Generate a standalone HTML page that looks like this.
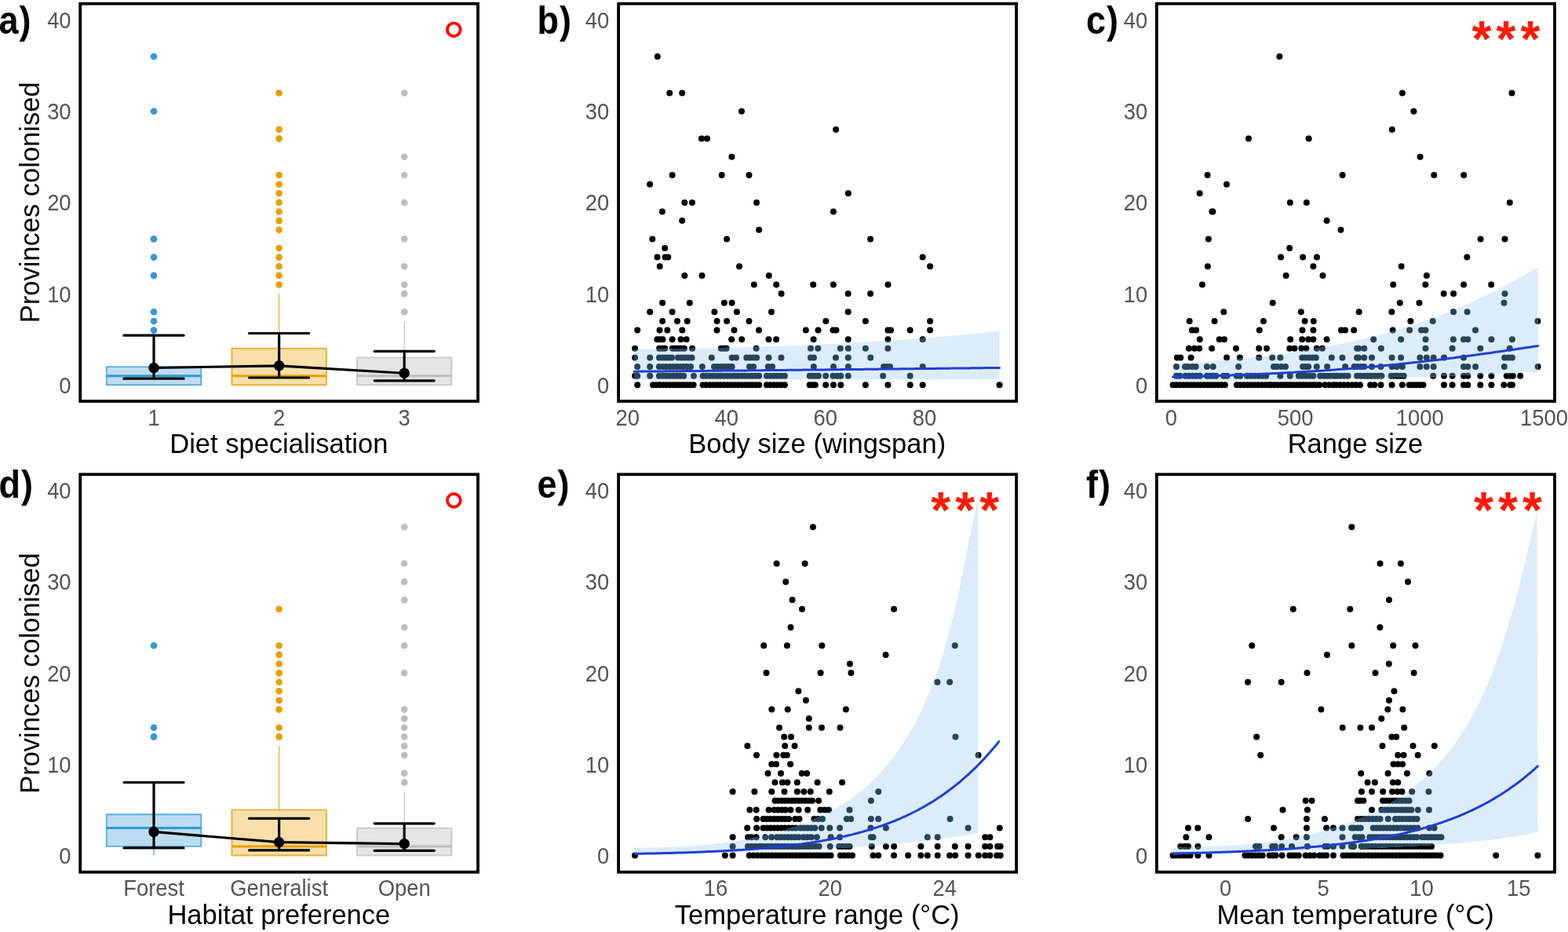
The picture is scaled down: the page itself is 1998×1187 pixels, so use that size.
<!DOCTYPE html><html><head><meta charset="utf-8"><title>Figure</title><style>html,body{margin:0;padding:0;background:#fff;overflow:hidden}svg{display:block}</style></head><body><svg width="1998" height="1187" viewBox="0 0 1998 1187" font-family="'Liberation Sans', Arial, Helvetica, sans-serif">
<rect width="1998" height="1187" fill="#fff"/>
<line x1="196.0" y1="467.1" x2="196.0" y2="432.2" stroke="#3498d4" stroke-opacity="0.7" stroke-width="1.6"/>
<rect x="135.8" y="467.1" width="120.5" height="23.2" fill="#3498d4" fill-opacity="0.33" stroke="#3498d4" stroke-opacity="0.75" stroke-width="1.9" stroke-linejoin="round"/>
<line x1="135.8" y1="478.7" x2="256.2" y2="478.7" stroke="#3498d4" stroke-width="3"/>
<circle cx="196.0" cy="420.6" r="4.3" fill="#3498d4"/>
<circle cx="196.0" cy="409.0" r="4.3" fill="#3498d4"/>
<circle cx="196.0" cy="397.3" r="4.3" fill="#3498d4"/>
<circle cx="196.0" cy="350.9" r="4.3" fill="#3498d4"/>
<circle cx="196.0" cy="327.6" r="4.3" fill="#3498d4"/>
<circle cx="196.0" cy="304.4" r="4.3" fill="#3498d4"/>
<circle cx="196.0" cy="141.7" r="4.3" fill="#3498d4"/>
<circle cx="196.0" cy="72.0" r="4.3" fill="#3498d4"/>
<line x1="355.6" y1="443.8" x2="355.6" y2="374.1" stroke="#e69f00" stroke-opacity="0.7" stroke-width="1.6"/>
<rect x="295.4" y="443.8" width="120.5" height="46.5" fill="#e69f00" fill-opacity="0.33" stroke="#e69f00" stroke-opacity="0.75" stroke-width="1.9" stroke-linejoin="round"/>
<line x1="295.4" y1="478.7" x2="415.9" y2="478.7" stroke="#e69f00" stroke-width="3"/>
<circle cx="355.6" cy="362.5" r="4.3" fill="#e69f00"/>
<circle cx="355.6" cy="350.9" r="4.3" fill="#e69f00"/>
<circle cx="355.6" cy="339.2" r="4.3" fill="#e69f00"/>
<circle cx="355.6" cy="327.6" r="4.3" fill="#e69f00"/>
<circle cx="355.6" cy="316.0" r="4.3" fill="#e69f00"/>
<circle cx="355.6" cy="292.8" r="4.3" fill="#e69f00"/>
<circle cx="355.6" cy="281.1" r="4.3" fill="#e69f00"/>
<circle cx="355.6" cy="269.5" r="4.3" fill="#e69f00"/>
<circle cx="355.6" cy="257.9" r="4.3" fill="#e69f00"/>
<circle cx="355.6" cy="246.3" r="4.3" fill="#e69f00"/>
<circle cx="355.6" cy="234.7" r="4.3" fill="#e69f00"/>
<circle cx="355.6" cy="223.0" r="4.3" fill="#e69f00"/>
<circle cx="355.6" cy="176.6" r="4.3" fill="#e69f00"/>
<circle cx="355.6" cy="164.9" r="4.3" fill="#e69f00"/>
<circle cx="355.6" cy="118.5" r="4.3" fill="#e69f00"/>
<line x1="515.2" y1="455.4" x2="515.2" y2="409.0" stroke="#bebebe" stroke-opacity="0.7" stroke-width="1.6"/>
<rect x="455.0" y="455.4" width="120.5" height="34.9" fill="#bebebe" fill-opacity="0.4" stroke="#bebebe" stroke-opacity="0.75" stroke-width="1.9" stroke-linejoin="round"/>
<line x1="455.0" y1="478.7" x2="575.5" y2="478.7" stroke="#bebebe" stroke-width="3"/>
<circle cx="515.2" cy="397.3" r="4.3" fill="#bebebe"/>
<circle cx="515.2" cy="374.1" r="4.3" fill="#bebebe"/>
<circle cx="515.2" cy="362.5" r="4.3" fill="#bebebe"/>
<circle cx="515.2" cy="339.2" r="4.3" fill="#bebebe"/>
<circle cx="515.2" cy="304.4" r="4.3" fill="#bebebe"/>
<circle cx="515.2" cy="257.9" r="4.3" fill="#bebebe"/>
<circle cx="515.2" cy="223.0" r="4.3" fill="#bebebe"/>
<circle cx="515.2" cy="199.8" r="4.3" fill="#bebebe"/>
<circle cx="515.2" cy="118.5" r="4.3" fill="#bebebe"/>
<line x1="196.0" y1="482.2" x2="196.0" y2="427.2" stroke="#000" stroke-width="3.2"/>
<line x1="158.0" y1="482.2" x2="234.0" y2="482.2" stroke="#000" stroke-width="3.2" stroke-linecap="round"/>
<line x1="158.0" y1="427.2" x2="234.0" y2="427.2" stroke="#000" stroke-width="3.2" stroke-linecap="round"/>
<line x1="355.6" y1="481.0" x2="355.6" y2="424.5" stroke="#000" stroke-width="3.2"/>
<line x1="317.6" y1="481.0" x2="393.6" y2="481.0" stroke="#000" stroke-width="3.2" stroke-linecap="round"/>
<line x1="317.6" y1="424.5" x2="393.6" y2="424.5" stroke="#000" stroke-width="3.2" stroke-linecap="round"/>
<line x1="515.2" y1="484.8" x2="515.2" y2="447.3" stroke="#000" stroke-width="3.2"/>
<line x1="477.20000000000005" y1="484.8" x2="553.2" y2="484.8" stroke="#000" stroke-width="3.2" stroke-linecap="round"/>
<line x1="477.20000000000005" y1="447.3" x2="553.2" y2="447.3" stroke="#000" stroke-width="3.2" stroke-linecap="round"/>
<polyline points="196.0,468.5 355.6,465.8 515.2,475.3" fill="none" stroke="#000" stroke-width="3.2"/>
<circle cx="196.0" cy="468.5" r="6.7" fill="#000"/>
<circle cx="355.6" cy="465.8" r="6.7" fill="#000"/>
<circle cx="515.2" cy="475.3" r="6.7" fill="#000"/>
<circle cx="578.3" cy="37.8" r="8.4" fill="none" stroke="#ff0800" stroke-width="3.9"/>
<line x1="196.0" y1="1037.2" x2="196.0" y2="996.5" stroke="#3498d4" stroke-opacity="0.7" stroke-width="1.6"/>
<line x1="196.0" y1="1077.9" x2="196.0" y2="1089.5" stroke="#3498d4" stroke-opacity="0.7" stroke-width="1.6"/>
<rect x="135.8" y="1037.2" width="120.5" height="40.7" fill="#3498d4" fill-opacity="0.33" stroke="#3498d4" stroke-opacity="0.75" stroke-width="1.9" stroke-linejoin="round"/>
<line x1="135.8" y1="1054.6" x2="256.2" y2="1054.6" stroke="#3498d4" stroke-width="3"/>
<circle cx="196.0" cy="938.4" r="4.3" fill="#3498d4"/>
<circle cx="196.0" cy="926.8" r="4.3" fill="#3498d4"/>
<circle cx="196.0" cy="822.2" r="4.3" fill="#3498d4"/>
<line x1="355.6" y1="1031.4" x2="355.6" y2="950.1" stroke="#e69f00" stroke-opacity="0.7" stroke-width="1.6"/>
<rect x="295.4" y="1031.4" width="120.5" height="58.1" fill="#e69f00" fill-opacity="0.33" stroke="#e69f00" stroke-opacity="0.75" stroke-width="1.9" stroke-linejoin="round"/>
<line x1="295.4" y1="1077.9" x2="415.9" y2="1077.9" stroke="#e69f00" stroke-width="3"/>
<circle cx="355.6" cy="938.4" r="4.3" fill="#e69f00"/>
<circle cx="355.6" cy="926.8" r="4.3" fill="#e69f00"/>
<circle cx="355.6" cy="903.6" r="4.3" fill="#e69f00"/>
<circle cx="355.6" cy="892.0" r="4.3" fill="#e69f00"/>
<circle cx="355.6" cy="880.3" r="4.3" fill="#e69f00"/>
<circle cx="355.6" cy="868.7" r="4.3" fill="#e69f00"/>
<circle cx="355.6" cy="857.1" r="4.3" fill="#e69f00"/>
<circle cx="355.6" cy="845.5" r="4.3" fill="#e69f00"/>
<circle cx="355.6" cy="833.9" r="4.3" fill="#e69f00"/>
<circle cx="355.6" cy="822.2" r="4.3" fill="#e69f00"/>
<circle cx="355.6" cy="775.8" r="4.3" fill="#e69f00"/>
<line x1="515.2" y1="1054.6" x2="515.2" y2="1008.2" stroke="#bebebe" stroke-opacity="0.7" stroke-width="1.6"/>
<rect x="455.0" y="1054.6" width="120.5" height="34.9" fill="#bebebe" fill-opacity="0.4" stroke="#bebebe" stroke-opacity="0.75" stroke-width="1.9" stroke-linejoin="round"/>
<line x1="455.0" y1="1077.9" x2="575.5" y2="1077.9" stroke="#bebebe" stroke-width="3"/>
<circle cx="515.2" cy="996.5" r="4.3" fill="#bebebe"/>
<circle cx="515.2" cy="984.9" r="4.3" fill="#bebebe"/>
<circle cx="515.2" cy="961.7" r="4.3" fill="#bebebe"/>
<circle cx="515.2" cy="950.1" r="4.3" fill="#bebebe"/>
<circle cx="515.2" cy="938.4" r="4.3" fill="#bebebe"/>
<circle cx="515.2" cy="926.8" r="4.3" fill="#bebebe"/>
<circle cx="515.2" cy="915.2" r="4.3" fill="#bebebe"/>
<circle cx="515.2" cy="903.6" r="4.3" fill="#bebebe"/>
<circle cx="515.2" cy="857.1" r="4.3" fill="#bebebe"/>
<circle cx="515.2" cy="822.2" r="4.3" fill="#bebebe"/>
<circle cx="515.2" cy="799.0" r="4.3" fill="#bebebe"/>
<circle cx="515.2" cy="764.1" r="4.3" fill="#bebebe"/>
<circle cx="515.2" cy="740.9" r="4.3" fill="#bebebe"/>
<circle cx="515.2" cy="717.7" r="4.3" fill="#bebebe"/>
<circle cx="515.2" cy="671.2" r="4.3" fill="#bebebe"/>
<line x1="196.0" y1="1079.9" x2="196.0" y2="996.5" stroke="#000" stroke-width="3.2"/>
<line x1="158.0" y1="1079.9" x2="234.0" y2="1079.9" stroke="#000" stroke-width="3.2" stroke-linecap="round"/>
<line x1="158.0" y1="996.5" x2="234.0" y2="996.5" stroke="#000" stroke-width="3.2" stroke-linecap="round"/>
<line x1="355.6" y1="1082.9" x2="355.6" y2="1042.3" stroke="#000" stroke-width="3.2"/>
<line x1="317.6" y1="1082.9" x2="393.6" y2="1082.9" stroke="#000" stroke-width="3.2" stroke-linecap="round"/>
<line x1="317.6" y1="1042.3" x2="393.6" y2="1042.3" stroke="#000" stroke-width="3.2" stroke-linecap="round"/>
<line x1="515.2" y1="1083.3" x2="515.2" y2="1048.8" stroke="#000" stroke-width="3.2"/>
<line x1="477.20000000000005" y1="1083.3" x2="553.2" y2="1083.3" stroke="#000" stroke-width="3.2" stroke-linecap="round"/>
<line x1="477.20000000000005" y1="1048.8" x2="553.2" y2="1048.8" stroke="#000" stroke-width="3.2" stroke-linecap="round"/>
<polyline points="196.0,1059.4 355.6,1072.7 515.2,1074.6" fill="none" stroke="#000" stroke-width="3.2"/>
<circle cx="196.0" cy="1059.4" r="6.7" fill="#000"/>
<circle cx="355.6" cy="1072.7" r="6.7" fill="#000"/>
<circle cx="515.2" cy="1074.6" r="6.7" fill="#000"/>
<circle cx="578.3" cy="637.3" r="8.4" fill="none" stroke="#ff0800" stroke-width="3.9"/>
<defs><clipPath id="clipb"><path d="M808.0,445.0 L810.0,444.9 L812.0,444.9 L814.0,444.9 L816.0,444.9 L818.0,444.8 L820.0,444.8 L822.0,444.8 L824.0,444.8 L826.0,444.7 L828.0,444.7 L830.0,444.7 L832.0,444.7 L834.0,444.6 L836.0,444.6 L838.0,444.6 L840.0,444.5 L842.0,444.5 L844.0,444.5 L846.0,444.5 L848.0,444.4 L850.0,444.4 L852.0,444.4 L854.0,444.3 L856.0,444.3 L858.0,444.3 L860.0,444.2 L862.0,444.2 L864.0,444.2 L866.0,444.1 L868.0,444.1 L870.0,444.0 L872.0,444.0 L874.0,444.0 L876.0,443.9 L878.0,443.9 L880.0,443.9 L882.0,443.8 L884.0,443.8 L886.0,443.7 L888.0,443.7 L890.0,443.7 L892.0,443.6 L894.0,443.6 L896.0,443.5 L898.0,443.5 L900.0,443.4 L902.0,443.4 L904.0,443.4 L906.0,443.3 L908.0,443.3 L910.0,443.2 L912.0,443.2 L914.0,443.1 L916.0,443.1 L918.0,443.0 L920.0,443.0 L922.0,442.9 L924.0,442.9 L926.0,442.8 L928.0,442.8 L930.0,442.7 L932.0,442.7 L934.0,442.6 L936.0,442.6 L938.0,442.5 L940.0,442.5 L942.0,442.4 L944.0,442.3 L946.0,442.3 L948.0,442.2 L950.0,442.2 L952.0,442.1 L954.0,442.0 L956.0,442.0 L958.0,441.9 L960.0,441.9 L962.0,441.8 L964.0,441.7 L966.0,441.7 L968.0,441.6 L970.0,441.6 L972.0,441.5 L974.0,441.4 L976.0,441.4 L978.0,441.3 L980.0,441.2 L982.0,441.2 L984.0,441.1 L986.0,441.0 L988.0,440.9 L990.0,440.9 L992.0,440.8 L994.0,440.7 L996.0,440.7 L998.0,440.6 L1000.0,440.5 L1002.0,440.4 L1004.0,440.4 L1006.0,440.3 L1008.0,440.2 L1010.0,440.1 L1012.0,440.1 L1014.0,440.0 L1016.0,439.9 L1018.0,439.8 L1020.0,439.7 L1022.0,439.7 L1024.0,439.6 L1026.0,439.5 L1028.0,439.4 L1030.0,439.3 L1032.0,439.2 L1034.0,439.1 L1036.0,439.1 L1038.0,439.0 L1040.0,438.9 L1042.0,438.8 L1044.0,438.7 L1046.0,438.6 L1048.0,438.5 L1050.0,438.4 L1052.0,438.3 L1054.0,438.2 L1056.0,438.1 L1058.0,438.0 L1060.0,438.0 L1062.0,437.9 L1064.0,437.8 L1066.0,437.7 L1068.0,437.6 L1070.0,437.5 L1072.0,437.4 L1074.0,437.3 L1076.0,437.1 L1078.0,437.0 L1080.0,436.9 L1082.0,436.8 L1084.0,436.7 L1086.0,436.6 L1088.0,436.5 L1090.0,436.4 L1092.0,436.3 L1094.0,436.2 L1096.0,436.1 L1098.0,436.0 L1100.0,435.8 L1102.0,435.7 L1104.0,435.6 L1106.0,435.5 L1108.0,435.4 L1110.0,435.2 L1112.0,435.1 L1114.0,435.0 L1116.0,434.9 L1118.0,434.8 L1120.0,434.6 L1122.0,434.5 L1124.0,434.4 L1126.0,434.3 L1128.0,434.1 L1130.0,434.0 L1132.0,433.9 L1134.0,433.7 L1136.0,433.6 L1138.0,433.5 L1140.0,433.3 L1142.0,433.2 L1144.0,433.1 L1146.0,432.9 L1148.0,432.8 L1150.0,432.7 L1152.0,432.5 L1154.0,432.4 L1156.0,432.2 L1158.0,432.1 L1160.0,431.9 L1162.0,431.8 L1164.0,431.6 L1166.0,431.5 L1168.0,431.3 L1170.0,431.2 L1172.0,431.0 L1174.0,430.9 L1176.0,430.7 L1178.0,430.6 L1180.0,430.4 L1182.0,430.3 L1184.0,430.1 L1186.0,429.9 L1188.0,429.8 L1190.0,429.6 L1192.0,429.4 L1194.0,429.3 L1196.0,429.1 L1198.0,428.9 L1200.0,428.8 L1202.0,428.6 L1204.0,428.4 L1206.0,428.2 L1208.0,428.1 L1210.0,427.9 L1212.0,427.7 L1214.0,427.5 L1216.0,427.3 L1218.0,427.2 L1220.0,427.0 L1222.0,426.8 L1224.0,426.6 L1226.0,426.4 L1228.0,426.2 L1230.0,426.0 L1232.0,425.8 L1234.0,425.6 L1236.0,425.4 L1238.0,425.2 L1240.0,425.0 L1242.0,424.8 L1244.0,424.6 L1246.0,424.4 L1248.0,424.2 L1250.0,424.0 L1252.0,423.8 L1254.0,423.6 L1256.0,423.4 L1258.0,423.2 L1260.0,423.0 L1262.0,422.7 L1264.0,422.5 L1266.0,422.3 L1268.0,422.1 L1270.0,421.9 L1272.0,421.6 L1273.6,421.4 L1273.6,483.0 L1272.0,483.0 L1270.0,483.0 L1268.0,483.0 L1266.0,483.0 L1264.0,483.0 L1262.0,483.0 L1260.0,483.0 L1258.0,483.0 L1256.0,483.0 L1254.0,483.0 L1252.0,483.0 L1250.0,483.0 L1248.0,483.1 L1246.0,483.1 L1244.0,483.1 L1242.0,483.1 L1240.0,483.1 L1238.0,483.1 L1236.0,483.1 L1234.0,483.1 L1232.0,483.1 L1230.0,483.1 L1228.0,483.1 L1226.0,483.1 L1224.0,483.1 L1222.0,483.1 L1220.0,483.1 L1218.0,483.1 L1216.0,483.1 L1214.0,483.1 L1212.0,483.1 L1210.0,483.1 L1208.0,483.1 L1206.0,483.1 L1204.0,483.1 L1202.0,483.1 L1200.0,483.2 L1198.0,483.2 L1196.0,483.2 L1194.0,483.2 L1192.0,483.2 L1190.0,483.2 L1188.0,483.2 L1186.0,483.2 L1184.0,483.2 L1182.0,483.2 L1180.0,483.2 L1178.0,483.2 L1176.0,483.2 L1174.0,483.2 L1172.0,483.2 L1170.0,483.2 L1168.0,483.2 L1166.0,483.2 L1164.0,483.2 L1162.0,483.2 L1160.0,483.2 L1158.0,483.2 L1156.0,483.2 L1154.0,483.2 L1152.0,483.2 L1150.0,483.3 L1148.0,483.3 L1146.0,483.3 L1144.0,483.3 L1142.0,483.3 L1140.0,483.3 L1138.0,483.3 L1136.0,483.3 L1134.0,483.3 L1132.0,483.3 L1130.0,483.3 L1128.0,483.3 L1126.0,483.3 L1124.0,483.3 L1122.0,483.3 L1120.0,483.3 L1118.0,483.3 L1116.0,483.3 L1114.0,483.3 L1112.0,483.3 L1110.0,483.3 L1108.0,483.3 L1106.0,483.3 L1104.0,483.3 L1102.0,483.3 L1100.0,483.3 L1098.0,483.4 L1096.0,483.4 L1094.0,483.4 L1092.0,483.4 L1090.0,483.4 L1088.0,483.4 L1086.0,483.4 L1084.0,483.4 L1082.0,483.4 L1080.0,483.4 L1078.0,483.4 L1076.0,483.4 L1074.0,483.4 L1072.0,483.4 L1070.0,483.4 L1068.0,483.4 L1066.0,483.4 L1064.0,483.4 L1062.0,483.4 L1060.0,483.4 L1058.0,483.4 L1056.0,483.4 L1054.0,483.4 L1052.0,483.4 L1050.0,483.4 L1048.0,483.5 L1046.0,483.5 L1044.0,483.5 L1042.0,483.5 L1040.0,483.5 L1038.0,483.5 L1036.0,483.5 L1034.0,483.5 L1032.0,483.5 L1030.0,483.5 L1028.0,483.5 L1026.0,483.5 L1024.0,483.5 L1022.0,483.5 L1020.0,483.5 L1018.0,483.5 L1016.0,483.5 L1014.0,483.5 L1012.0,483.5 L1010.0,483.5 L1008.0,483.5 L1006.0,483.5 L1004.0,483.5 L1002.0,483.5 L1000.0,483.5 L998.0,483.5 L996.0,483.6 L994.0,483.6 L992.0,483.6 L990.0,483.6 L988.0,483.6 L986.0,483.6 L984.0,483.6 L982.0,483.6 L980.0,483.6 L978.0,483.6 L976.0,483.6 L974.0,483.6 L972.0,483.6 L970.0,483.6 L968.0,483.6 L966.0,483.6 L964.0,483.6 L962.0,483.6 L960.0,483.6 L958.0,483.6 L956.0,483.6 L954.0,483.6 L952.0,483.6 L950.0,483.6 L948.0,483.6 L946.0,483.6 L944.0,483.6 L942.0,483.7 L940.0,483.7 L938.0,483.7 L936.0,483.7 L934.0,483.7 L932.0,483.7 L930.0,483.7 L928.0,483.7 L926.0,483.7 L924.0,483.7 L922.0,483.7 L920.0,483.7 L918.0,483.7 L916.0,483.7 L914.0,483.7 L912.0,483.7 L910.0,483.7 L908.0,483.7 L906.0,483.7 L904.0,483.7 L902.0,483.7 L900.0,483.7 L898.0,483.7 L896.0,483.7 L894.0,483.7 L892.0,483.7 L890.0,483.7 L888.0,483.8 L886.0,483.8 L884.0,483.8 L882.0,483.8 L880.0,483.8 L878.0,483.8 L876.0,483.8 L874.0,483.8 L872.0,483.8 L870.0,483.8 L868.0,483.8 L866.0,483.8 L864.0,483.8 L862.0,483.8 L860.0,483.8 L858.0,483.8 L856.0,483.8 L854.0,483.8 L852.0,483.8 L850.0,483.8 L848.0,483.8 L846.0,483.8 L844.0,483.8 L842.0,483.8 L840.0,483.8 L838.0,483.8 L836.0,483.8 L834.0,483.9 L832.0,483.9 L830.0,483.9 L828.0,483.9 L826.0,483.9 L824.0,483.9 L822.0,483.9 L820.0,483.9 L818.0,483.9 L816.0,483.9 L814.0,483.9 L812.0,483.9 L810.0,483.9 L808.0,483.9 Z"/></clipPath></defs>
<g fill="#000"><circle cx="837.8" cy="72.0" r="4.0"/><circle cx="853.2" cy="118.5" r="4.0"/><circle cx="869.2" cy="118.5" r="4.0"/><circle cx="945.0" cy="141.7" r="4.0"/><circle cx="1065.1" cy="164.9" r="4.0"/><circle cx="894.0" cy="176.6" r="4.0"/><circle cx="901.0" cy="176.6" r="4.0"/><circle cx="932.4" cy="199.8" r="4.0"/><circle cx="856.6" cy="223.0" r="4.0"/><circle cx="919.7" cy="223.0" r="4.0"/><circle cx="954.5" cy="223.0" r="4.0"/><circle cx="828.1" cy="234.7" r="4.0"/><circle cx="1080.9" cy="246.3" r="4.0"/><circle cx="872.3" cy="257.9" r="4.0"/><circle cx="882.0" cy="257.9" r="4.0"/><circle cx="964.0" cy="257.9" r="4.0"/><circle cx="843.9" cy="269.5" r="4.0"/><circle cx="1061.9" cy="269.5" r="4.0"/><circle cx="869.2" cy="281.1" r="4.0"/><circle cx="967.1" cy="292.8" r="4.0"/><circle cx="831.3" cy="304.4" r="4.0"/><circle cx="926.1" cy="304.4" r="4.0"/><circle cx="1109.1" cy="304.4" r="4.0"/><circle cx="847.2" cy="316.0" r="4.0"/><circle cx="837.5" cy="327.6" r="4.0"/><circle cx="847.6" cy="327.6" r="4.0"/><circle cx="851.3" cy="327.6" r="4.0"/><circle cx="1175.7" cy="327.6" r="4.0"/><circle cx="840.7" cy="339.2" r="4.0"/><circle cx="942.0" cy="339.2" r="4.0"/><circle cx="1185.1" cy="339.2" r="4.0"/><circle cx="872.3" cy="350.9" r="4.0"/><circle cx="894.5" cy="350.9" r="4.0"/><circle cx="979.8" cy="350.9" r="4.0"/><circle cx="960.8" cy="362.5" r="4.0"/><circle cx="989.2" cy="362.5" r="4.0"/><circle cx="1036.2" cy="362.5" r="4.0"/><circle cx="1061.9" cy="362.5" r="4.0"/><circle cx="1131.5" cy="362.5" r="4.0"/><circle cx="995.6" cy="374.1" r="4.0"/><circle cx="1080.7" cy="374.1" r="4.0"/><circle cx="1109.1" cy="374.1" r="4.0"/><circle cx="844.1" cy="385.7" r="4.0"/><circle cx="878.8" cy="385.7" r="4.0"/><circle cx="922.9" cy="385.7" r="4.0"/><circle cx="932.6" cy="385.7" r="4.0"/><circle cx="828.2" cy="397.3" r="4.0"/><circle cx="856.6" cy="397.3" r="4.0"/><circle cx="910.4" cy="397.3" r="4.0"/><circle cx="938.9" cy="397.3" r="4.0"/><circle cx="983.0" cy="397.3" r="4.0"/><circle cx="1080.7" cy="397.3" r="4.0"/><circle cx="844.1" cy="409.0" r="4.0"/><circle cx="863.0" cy="409.0" r="4.0"/><circle cx="875.7" cy="409.0" r="4.0"/><circle cx="913.6" cy="409.0" r="4.0"/><circle cx="926.1" cy="409.0" r="4.0"/><circle cx="954.5" cy="409.0" r="4.0"/><circle cx="1052.4" cy="409.0" r="4.0"/><circle cx="1102.9" cy="409.0" r="4.0"/><circle cx="1185.1" cy="409.0" r="4.0"/><circle cx="812.2" cy="420.6" r="4.0"/><circle cx="840.5" cy="420.6" r="4.0"/><circle cx="850.3" cy="420.6" r="4.0"/><circle cx="869.3" cy="420.6" r="4.0"/><circle cx="913.5" cy="420.6" r="4.0"/><circle cx="935.5" cy="420.6" r="4.0"/><circle cx="967.0" cy="420.6" r="4.0"/><circle cx="1026.8" cy="420.6" r="4.0"/><circle cx="1042.5" cy="420.6" r="4.0"/><circle cx="1061.5" cy="420.6" r="4.0"/><circle cx="1065.5" cy="420.6" r="4.0"/><circle cx="1131.4" cy="420.6" r="4.0"/><circle cx="1135.0" cy="420.6" r="4.0"/><circle cx="1159.7" cy="420.6" r="4.0"/><circle cx="1185.1" cy="420.6" r="4.0"/><circle cx="837.4" cy="432.2" r="4.0"/><circle cx="841.0" cy="432.2" r="4.0"/><circle cx="844.5" cy="432.2" r="4.0"/><circle cx="856.6" cy="432.2" r="4.0"/><circle cx="867.5" cy="432.2" r="4.0"/><circle cx="874.6" cy="432.2" r="4.0"/><circle cx="932.2" cy="432.2" r="4.0"/><circle cx="945.1" cy="432.2" r="4.0"/><circle cx="979.5" cy="432.2" r="4.0"/><circle cx="989.1" cy="432.2" r="4.0"/><circle cx="1036.6" cy="432.2" r="4.0"/><circle cx="1080.8" cy="432.2" r="4.0"/><circle cx="1131.4" cy="432.2" r="4.0"/><circle cx="1175.7" cy="432.2" r="4.0"/><circle cx="809.1" cy="443.8" r="4.0"/><circle cx="840.1" cy="443.8" r="4.0"/><circle cx="843.6" cy="443.8" r="4.0"/><circle cx="847.2" cy="443.8" r="4.0"/><circle cx="856.9" cy="443.8" r="4.0"/><circle cx="860.4" cy="443.8" r="4.0"/><circle cx="864.0" cy="443.8" r="4.0"/><circle cx="867.5" cy="443.8" r="4.0"/><circle cx="871.9" cy="443.8" r="4.0"/><circle cx="882.1" cy="443.8" r="4.0"/><circle cx="918.8" cy="443.8" r="4.0"/><circle cx="922.3" cy="443.8" r="4.0"/><circle cx="925.6" cy="443.8" r="4.0"/><circle cx="963.6" cy="443.8" r="4.0"/><circle cx="1033.0" cy="443.8" r="4.0"/><circle cx="1042.3" cy="443.8" r="4.0"/><circle cx="1070.8" cy="443.8" r="4.0"/><circle cx="1080.8" cy="443.8" r="4.0"/><circle cx="1102.9" cy="443.8" r="4.0"/><circle cx="1131.4" cy="443.8" r="4.0"/><circle cx="809.1" cy="455.4" r="4.0"/><circle cx="828.2" cy="455.4" r="4.0"/><circle cx="840.0" cy="455.4" r="4.0"/><circle cx="844.0" cy="455.4" r="4.0"/><circle cx="848.0" cy="455.4" r="4.0"/><circle cx="852.0" cy="455.4" r="4.0"/><circle cx="856.0" cy="455.4" r="4.0"/><circle cx="864.0" cy="455.4" r="4.0"/><circle cx="868.4" cy="455.4" r="4.0"/><circle cx="872.8" cy="455.4" r="4.0"/><circle cx="877.2" cy="455.4" r="4.0"/><circle cx="881.6" cy="455.4" r="4.0"/><circle cx="906.8" cy="455.4" r="4.0"/><circle cx="932.7" cy="455.4" r="4.0"/><circle cx="938.0" cy="455.4" r="4.0"/><circle cx="951.3" cy="455.4" r="4.0"/><circle cx="955.7" cy="455.4" r="4.0"/><circle cx="960.1" cy="455.4" r="4.0"/><circle cx="964.1" cy="455.4" r="4.0"/><circle cx="979.5" cy="455.4" r="4.0"/><circle cx="995.5" cy="455.4" r="4.0"/><circle cx="1033.0" cy="455.4" r="4.0"/><circle cx="1037.0" cy="455.4" r="4.0"/><circle cx="1065.0" cy="455.4" r="4.0"/><circle cx="1080.8" cy="455.4" r="4.0"/><circle cx="1109.3" cy="455.4" r="4.0"/><circle cx="812.2" cy="467.1" r="4.0"/><circle cx="828.2" cy="467.1" r="4.0"/><circle cx="839.9" cy="467.1" r="4.0"/><circle cx="844.4" cy="467.1" r="4.0"/><circle cx="848.8" cy="467.1" r="4.0"/><circle cx="853.3" cy="467.1" r="4.0"/><circle cx="857.7" cy="467.1" r="4.0"/><circle cx="862.2" cy="467.1" r="4.0"/><circle cx="866.6" cy="467.1" r="4.0"/><circle cx="871.1" cy="467.1" r="4.0"/><circle cx="875.5" cy="467.1" r="4.0"/><circle cx="880.0" cy="467.1" r="4.0"/><circle cx="894.9" cy="467.1" r="4.0"/><circle cx="910.0" cy="467.1" r="4.0"/><circle cx="914.5" cy="467.1" r="4.0"/><circle cx="919.1" cy="467.1" r="4.0"/><circle cx="923.6" cy="467.1" r="4.0"/><circle cx="928.2" cy="467.1" r="4.0"/><circle cx="932.7" cy="467.1" r="4.0"/><circle cx="955.0" cy="467.1" r="4.0"/><circle cx="960.0" cy="467.1" r="4.0"/><circle cx="978.7" cy="467.1" r="4.0"/><circle cx="984.0" cy="467.1" r="4.0"/><circle cx="1036.8" cy="467.1" r="4.0"/><circle cx="1062.0" cy="467.1" r="4.0"/><circle cx="1080.8" cy="467.1" r="4.0"/><circle cx="1126.1" cy="467.1" r="4.0"/><circle cx="1130.0" cy="467.1" r="4.0"/><circle cx="1134.0" cy="467.1" r="4.0"/><circle cx="1175.7" cy="467.1" r="4.0"/><circle cx="809.1" cy="478.7" r="4.0"/><circle cx="812.2" cy="478.7" r="4.0"/><circle cx="828.2" cy="478.7" r="4.0"/><circle cx="839.9" cy="478.7" r="4.0"/><circle cx="844.4" cy="478.7" r="4.0"/><circle cx="848.8" cy="478.7" r="4.0"/><circle cx="853.3" cy="478.7" r="4.0"/><circle cx="857.8" cy="478.7" r="4.0"/><circle cx="862.3" cy="478.7" r="4.0"/><circle cx="866.7" cy="478.7" r="4.0"/><circle cx="871.2" cy="478.7" r="4.0"/><circle cx="884.0" cy="478.7" r="4.0"/><circle cx="895.6" cy="478.7" r="4.0"/><circle cx="900.1" cy="478.7" r="4.0"/><circle cx="904.6" cy="478.7" r="4.0"/><circle cx="909.0" cy="478.7" r="4.0"/><circle cx="913.5" cy="478.7" r="4.0"/><circle cx="918.0" cy="478.7" r="4.0"/><circle cx="922.5" cy="478.7" r="4.0"/><circle cx="926.9" cy="478.7" r="4.0"/><circle cx="931.4" cy="478.7" r="4.0"/><circle cx="935.9" cy="478.7" r="4.0"/><circle cx="940.4" cy="478.7" r="4.0"/><circle cx="944.8" cy="478.7" r="4.0"/><circle cx="949.3" cy="478.7" r="4.0"/><circle cx="953.8" cy="478.7" r="4.0"/><circle cx="958.2" cy="478.7" r="4.0"/><circle cx="962.7" cy="478.7" r="4.0"/><circle cx="967.2" cy="478.7" r="4.0"/><circle cx="976.9" cy="478.7" r="4.0"/><circle cx="981.5" cy="478.7" r="4.0"/><circle cx="986.1" cy="478.7" r="4.0"/><circle cx="990.7" cy="478.7" r="4.0"/><circle cx="995.3" cy="478.7" r="4.0"/><circle cx="999.9" cy="478.7" r="4.0"/><circle cx="1031.7" cy="478.7" r="4.0"/><circle cx="1035.5" cy="478.7" r="4.0"/><circle cx="1039.2" cy="478.7" r="4.0"/><circle cx="1043.0" cy="478.7" r="4.0"/><circle cx="1052.2" cy="478.7" r="4.0"/><circle cx="1061.5" cy="478.7" r="4.0"/><circle cx="1066.8" cy="478.7" r="4.0"/><circle cx="1071.3" cy="478.7" r="4.0"/><circle cx="1080.8" cy="478.7" r="4.0"/><circle cx="1125.2" cy="478.7" r="4.0"/><circle cx="1159.7" cy="478.7" r="4.0"/><circle cx="812.2" cy="490.3" r="4.0"/><circle cx="832.0" cy="490.3" r="4.0"/><circle cx="836.3" cy="490.3" r="4.0"/><circle cx="840.6" cy="490.3" r="4.0"/><circle cx="844.9" cy="490.3" r="4.0"/><circle cx="849.2" cy="490.3" r="4.0"/><circle cx="853.5" cy="490.3" r="4.0"/><circle cx="857.8" cy="490.3" r="4.0"/><circle cx="862.1" cy="490.3" r="4.0"/><circle cx="866.4" cy="490.3" r="4.0"/><circle cx="870.7" cy="490.3" r="4.0"/><circle cx="875.0" cy="490.3" r="4.0"/><circle cx="879.3" cy="490.3" r="4.0"/><circle cx="883.6" cy="490.3" r="4.0"/><circle cx="895.6" cy="490.3" r="4.0"/><circle cx="900.1" cy="490.3" r="4.0"/><circle cx="904.6" cy="490.3" r="4.0"/><circle cx="909.0" cy="490.3" r="4.0"/><circle cx="913.5" cy="490.3" r="4.0"/><circle cx="918.0" cy="490.3" r="4.0"/><circle cx="922.5" cy="490.3" r="4.0"/><circle cx="926.9" cy="490.3" r="4.0"/><circle cx="931.4" cy="490.3" r="4.0"/><circle cx="935.9" cy="490.3" r="4.0"/><circle cx="940.4" cy="490.3" r="4.0"/><circle cx="944.8" cy="490.3" r="4.0"/><circle cx="949.3" cy="490.3" r="4.0"/><circle cx="953.8" cy="490.3" r="4.0"/><circle cx="958.2" cy="490.3" r="4.0"/><circle cx="962.7" cy="490.3" r="4.0"/><circle cx="967.2" cy="490.3" r="4.0"/><circle cx="976.9" cy="490.3" r="4.0"/><circle cx="981.5" cy="490.3" r="4.0"/><circle cx="986.1" cy="490.3" r="4.0"/><circle cx="990.7" cy="490.3" r="4.0"/><circle cx="995.3" cy="490.3" r="4.0"/><circle cx="999.9" cy="490.3" r="4.0"/><circle cx="1031.7" cy="490.3" r="4.0"/><circle cx="1035.2" cy="490.3" r="4.0"/><circle cx="1038.8" cy="490.3" r="4.0"/><circle cx="1052.2" cy="490.3" r="4.0"/><circle cx="1062.0" cy="490.3" r="4.0"/><circle cx="1071.3" cy="490.3" r="4.0"/><circle cx="1102.9" cy="490.3" r="4.0"/><circle cx="1131.4" cy="490.3" r="4.0"/><circle cx="1159.7" cy="490.3" r="4.0"/><circle cx="1175.7" cy="490.3" r="4.0"/><circle cx="1273.6" cy="490.3" r="4.0"/></g>
<path d="M808.0,445.0 L810.0,444.9 L812.0,444.9 L814.0,444.9 L816.0,444.9 L818.0,444.8 L820.0,444.8 L822.0,444.8 L824.0,444.8 L826.0,444.7 L828.0,444.7 L830.0,444.7 L832.0,444.7 L834.0,444.6 L836.0,444.6 L838.0,444.6 L840.0,444.5 L842.0,444.5 L844.0,444.5 L846.0,444.5 L848.0,444.4 L850.0,444.4 L852.0,444.4 L854.0,444.3 L856.0,444.3 L858.0,444.3 L860.0,444.2 L862.0,444.2 L864.0,444.2 L866.0,444.1 L868.0,444.1 L870.0,444.0 L872.0,444.0 L874.0,444.0 L876.0,443.9 L878.0,443.9 L880.0,443.9 L882.0,443.8 L884.0,443.8 L886.0,443.7 L888.0,443.7 L890.0,443.7 L892.0,443.6 L894.0,443.6 L896.0,443.5 L898.0,443.5 L900.0,443.4 L902.0,443.4 L904.0,443.4 L906.0,443.3 L908.0,443.3 L910.0,443.2 L912.0,443.2 L914.0,443.1 L916.0,443.1 L918.0,443.0 L920.0,443.0 L922.0,442.9 L924.0,442.9 L926.0,442.8 L928.0,442.8 L930.0,442.7 L932.0,442.7 L934.0,442.6 L936.0,442.6 L938.0,442.5 L940.0,442.5 L942.0,442.4 L944.0,442.3 L946.0,442.3 L948.0,442.2 L950.0,442.2 L952.0,442.1 L954.0,442.0 L956.0,442.0 L958.0,441.9 L960.0,441.9 L962.0,441.8 L964.0,441.7 L966.0,441.7 L968.0,441.6 L970.0,441.6 L972.0,441.5 L974.0,441.4 L976.0,441.4 L978.0,441.3 L980.0,441.2 L982.0,441.2 L984.0,441.1 L986.0,441.0 L988.0,440.9 L990.0,440.9 L992.0,440.8 L994.0,440.7 L996.0,440.7 L998.0,440.6 L1000.0,440.5 L1002.0,440.4 L1004.0,440.4 L1006.0,440.3 L1008.0,440.2 L1010.0,440.1 L1012.0,440.1 L1014.0,440.0 L1016.0,439.9 L1018.0,439.8 L1020.0,439.7 L1022.0,439.7 L1024.0,439.6 L1026.0,439.5 L1028.0,439.4 L1030.0,439.3 L1032.0,439.2 L1034.0,439.1 L1036.0,439.1 L1038.0,439.0 L1040.0,438.9 L1042.0,438.8 L1044.0,438.7 L1046.0,438.6 L1048.0,438.5 L1050.0,438.4 L1052.0,438.3 L1054.0,438.2 L1056.0,438.1 L1058.0,438.0 L1060.0,438.0 L1062.0,437.9 L1064.0,437.8 L1066.0,437.7 L1068.0,437.6 L1070.0,437.5 L1072.0,437.4 L1074.0,437.3 L1076.0,437.1 L1078.0,437.0 L1080.0,436.9 L1082.0,436.8 L1084.0,436.7 L1086.0,436.6 L1088.0,436.5 L1090.0,436.4 L1092.0,436.3 L1094.0,436.2 L1096.0,436.1 L1098.0,436.0 L1100.0,435.8 L1102.0,435.7 L1104.0,435.6 L1106.0,435.5 L1108.0,435.4 L1110.0,435.2 L1112.0,435.1 L1114.0,435.0 L1116.0,434.9 L1118.0,434.8 L1120.0,434.6 L1122.0,434.5 L1124.0,434.4 L1126.0,434.3 L1128.0,434.1 L1130.0,434.0 L1132.0,433.9 L1134.0,433.7 L1136.0,433.6 L1138.0,433.5 L1140.0,433.3 L1142.0,433.2 L1144.0,433.1 L1146.0,432.9 L1148.0,432.8 L1150.0,432.7 L1152.0,432.5 L1154.0,432.4 L1156.0,432.2 L1158.0,432.1 L1160.0,431.9 L1162.0,431.8 L1164.0,431.6 L1166.0,431.5 L1168.0,431.3 L1170.0,431.2 L1172.0,431.0 L1174.0,430.9 L1176.0,430.7 L1178.0,430.6 L1180.0,430.4 L1182.0,430.3 L1184.0,430.1 L1186.0,429.9 L1188.0,429.8 L1190.0,429.6 L1192.0,429.4 L1194.0,429.3 L1196.0,429.1 L1198.0,428.9 L1200.0,428.8 L1202.0,428.6 L1204.0,428.4 L1206.0,428.2 L1208.0,428.1 L1210.0,427.9 L1212.0,427.7 L1214.0,427.5 L1216.0,427.3 L1218.0,427.2 L1220.0,427.0 L1222.0,426.8 L1224.0,426.6 L1226.0,426.4 L1228.0,426.2 L1230.0,426.0 L1232.0,425.8 L1234.0,425.6 L1236.0,425.4 L1238.0,425.2 L1240.0,425.0 L1242.0,424.8 L1244.0,424.6 L1246.0,424.4 L1248.0,424.2 L1250.0,424.0 L1252.0,423.8 L1254.0,423.6 L1256.0,423.4 L1258.0,423.2 L1260.0,423.0 L1262.0,422.7 L1264.0,422.5 L1266.0,422.3 L1268.0,422.1 L1270.0,421.9 L1272.0,421.6 L1273.6,421.4 L1273.6,483.0 L1272.0,483.0 L1270.0,483.0 L1268.0,483.0 L1266.0,483.0 L1264.0,483.0 L1262.0,483.0 L1260.0,483.0 L1258.0,483.0 L1256.0,483.0 L1254.0,483.0 L1252.0,483.0 L1250.0,483.0 L1248.0,483.1 L1246.0,483.1 L1244.0,483.1 L1242.0,483.1 L1240.0,483.1 L1238.0,483.1 L1236.0,483.1 L1234.0,483.1 L1232.0,483.1 L1230.0,483.1 L1228.0,483.1 L1226.0,483.1 L1224.0,483.1 L1222.0,483.1 L1220.0,483.1 L1218.0,483.1 L1216.0,483.1 L1214.0,483.1 L1212.0,483.1 L1210.0,483.1 L1208.0,483.1 L1206.0,483.1 L1204.0,483.1 L1202.0,483.1 L1200.0,483.2 L1198.0,483.2 L1196.0,483.2 L1194.0,483.2 L1192.0,483.2 L1190.0,483.2 L1188.0,483.2 L1186.0,483.2 L1184.0,483.2 L1182.0,483.2 L1180.0,483.2 L1178.0,483.2 L1176.0,483.2 L1174.0,483.2 L1172.0,483.2 L1170.0,483.2 L1168.0,483.2 L1166.0,483.2 L1164.0,483.2 L1162.0,483.2 L1160.0,483.2 L1158.0,483.2 L1156.0,483.2 L1154.0,483.2 L1152.0,483.2 L1150.0,483.3 L1148.0,483.3 L1146.0,483.3 L1144.0,483.3 L1142.0,483.3 L1140.0,483.3 L1138.0,483.3 L1136.0,483.3 L1134.0,483.3 L1132.0,483.3 L1130.0,483.3 L1128.0,483.3 L1126.0,483.3 L1124.0,483.3 L1122.0,483.3 L1120.0,483.3 L1118.0,483.3 L1116.0,483.3 L1114.0,483.3 L1112.0,483.3 L1110.0,483.3 L1108.0,483.3 L1106.0,483.3 L1104.0,483.3 L1102.0,483.3 L1100.0,483.3 L1098.0,483.4 L1096.0,483.4 L1094.0,483.4 L1092.0,483.4 L1090.0,483.4 L1088.0,483.4 L1086.0,483.4 L1084.0,483.4 L1082.0,483.4 L1080.0,483.4 L1078.0,483.4 L1076.0,483.4 L1074.0,483.4 L1072.0,483.4 L1070.0,483.4 L1068.0,483.4 L1066.0,483.4 L1064.0,483.4 L1062.0,483.4 L1060.0,483.4 L1058.0,483.4 L1056.0,483.4 L1054.0,483.4 L1052.0,483.4 L1050.0,483.4 L1048.0,483.5 L1046.0,483.5 L1044.0,483.5 L1042.0,483.5 L1040.0,483.5 L1038.0,483.5 L1036.0,483.5 L1034.0,483.5 L1032.0,483.5 L1030.0,483.5 L1028.0,483.5 L1026.0,483.5 L1024.0,483.5 L1022.0,483.5 L1020.0,483.5 L1018.0,483.5 L1016.0,483.5 L1014.0,483.5 L1012.0,483.5 L1010.0,483.5 L1008.0,483.5 L1006.0,483.5 L1004.0,483.5 L1002.0,483.5 L1000.0,483.5 L998.0,483.5 L996.0,483.6 L994.0,483.6 L992.0,483.6 L990.0,483.6 L988.0,483.6 L986.0,483.6 L984.0,483.6 L982.0,483.6 L980.0,483.6 L978.0,483.6 L976.0,483.6 L974.0,483.6 L972.0,483.6 L970.0,483.6 L968.0,483.6 L966.0,483.6 L964.0,483.6 L962.0,483.6 L960.0,483.6 L958.0,483.6 L956.0,483.6 L954.0,483.6 L952.0,483.6 L950.0,483.6 L948.0,483.6 L946.0,483.6 L944.0,483.6 L942.0,483.7 L940.0,483.7 L938.0,483.7 L936.0,483.7 L934.0,483.7 L932.0,483.7 L930.0,483.7 L928.0,483.7 L926.0,483.7 L924.0,483.7 L922.0,483.7 L920.0,483.7 L918.0,483.7 L916.0,483.7 L914.0,483.7 L912.0,483.7 L910.0,483.7 L908.0,483.7 L906.0,483.7 L904.0,483.7 L902.0,483.7 L900.0,483.7 L898.0,483.7 L896.0,483.7 L894.0,483.7 L892.0,483.7 L890.0,483.7 L888.0,483.8 L886.0,483.8 L884.0,483.8 L882.0,483.8 L880.0,483.8 L878.0,483.8 L876.0,483.8 L874.0,483.8 L872.0,483.8 L870.0,483.8 L868.0,483.8 L866.0,483.8 L864.0,483.8 L862.0,483.8 L860.0,483.8 L858.0,483.8 L856.0,483.8 L854.0,483.8 L852.0,483.8 L850.0,483.8 L848.0,483.8 L846.0,483.8 L844.0,483.8 L842.0,483.8 L840.0,483.8 L838.0,483.8 L836.0,483.8 L834.0,483.9 L832.0,483.9 L830.0,483.9 L828.0,483.9 L826.0,483.9 L824.0,483.9 L822.0,483.9 L820.0,483.9 L818.0,483.9 L816.0,483.9 L814.0,483.9 L812.0,483.9 L810.0,483.9 L808.0,483.9 Z" fill="#dcecfa"/>
<g fill="#26445a" clip-path="url(#clipb)"><circle cx="837.8" cy="72.0" r="4.0"/><circle cx="853.2" cy="118.5" r="4.0"/><circle cx="869.2" cy="118.5" r="4.0"/><circle cx="945.0" cy="141.7" r="4.0"/><circle cx="1065.1" cy="164.9" r="4.0"/><circle cx="894.0" cy="176.6" r="4.0"/><circle cx="901.0" cy="176.6" r="4.0"/><circle cx="932.4" cy="199.8" r="4.0"/><circle cx="856.6" cy="223.0" r="4.0"/><circle cx="919.7" cy="223.0" r="4.0"/><circle cx="954.5" cy="223.0" r="4.0"/><circle cx="828.1" cy="234.7" r="4.0"/><circle cx="1080.9" cy="246.3" r="4.0"/><circle cx="872.3" cy="257.9" r="4.0"/><circle cx="882.0" cy="257.9" r="4.0"/><circle cx="964.0" cy="257.9" r="4.0"/><circle cx="843.9" cy="269.5" r="4.0"/><circle cx="1061.9" cy="269.5" r="4.0"/><circle cx="869.2" cy="281.1" r="4.0"/><circle cx="967.1" cy="292.8" r="4.0"/><circle cx="831.3" cy="304.4" r="4.0"/><circle cx="926.1" cy="304.4" r="4.0"/><circle cx="1109.1" cy="304.4" r="4.0"/><circle cx="847.2" cy="316.0" r="4.0"/><circle cx="837.5" cy="327.6" r="4.0"/><circle cx="847.6" cy="327.6" r="4.0"/><circle cx="851.3" cy="327.6" r="4.0"/><circle cx="1175.7" cy="327.6" r="4.0"/><circle cx="840.7" cy="339.2" r="4.0"/><circle cx="942.0" cy="339.2" r="4.0"/><circle cx="1185.1" cy="339.2" r="4.0"/><circle cx="872.3" cy="350.9" r="4.0"/><circle cx="894.5" cy="350.9" r="4.0"/><circle cx="979.8" cy="350.9" r="4.0"/><circle cx="960.8" cy="362.5" r="4.0"/><circle cx="989.2" cy="362.5" r="4.0"/><circle cx="1036.2" cy="362.5" r="4.0"/><circle cx="1061.9" cy="362.5" r="4.0"/><circle cx="1131.5" cy="362.5" r="4.0"/><circle cx="995.6" cy="374.1" r="4.0"/><circle cx="1080.7" cy="374.1" r="4.0"/><circle cx="1109.1" cy="374.1" r="4.0"/><circle cx="844.1" cy="385.7" r="4.0"/><circle cx="878.8" cy="385.7" r="4.0"/><circle cx="922.9" cy="385.7" r="4.0"/><circle cx="932.6" cy="385.7" r="4.0"/><circle cx="828.2" cy="397.3" r="4.0"/><circle cx="856.6" cy="397.3" r="4.0"/><circle cx="910.4" cy="397.3" r="4.0"/><circle cx="938.9" cy="397.3" r="4.0"/><circle cx="983.0" cy="397.3" r="4.0"/><circle cx="1080.7" cy="397.3" r="4.0"/><circle cx="844.1" cy="409.0" r="4.0"/><circle cx="863.0" cy="409.0" r="4.0"/><circle cx="875.7" cy="409.0" r="4.0"/><circle cx="913.6" cy="409.0" r="4.0"/><circle cx="926.1" cy="409.0" r="4.0"/><circle cx="954.5" cy="409.0" r="4.0"/><circle cx="1052.4" cy="409.0" r="4.0"/><circle cx="1102.9" cy="409.0" r="4.0"/><circle cx="1185.1" cy="409.0" r="4.0"/><circle cx="812.2" cy="420.6" r="4.0"/><circle cx="840.5" cy="420.6" r="4.0"/><circle cx="850.3" cy="420.6" r="4.0"/><circle cx="869.3" cy="420.6" r="4.0"/><circle cx="913.5" cy="420.6" r="4.0"/><circle cx="935.5" cy="420.6" r="4.0"/><circle cx="967.0" cy="420.6" r="4.0"/><circle cx="1026.8" cy="420.6" r="4.0"/><circle cx="1042.5" cy="420.6" r="4.0"/><circle cx="1061.5" cy="420.6" r="4.0"/><circle cx="1065.5" cy="420.6" r="4.0"/><circle cx="1131.4" cy="420.6" r="4.0"/><circle cx="1135.0" cy="420.6" r="4.0"/><circle cx="1159.7" cy="420.6" r="4.0"/><circle cx="1185.1" cy="420.6" r="4.0"/><circle cx="837.4" cy="432.2" r="4.0"/><circle cx="841.0" cy="432.2" r="4.0"/><circle cx="844.5" cy="432.2" r="4.0"/><circle cx="856.6" cy="432.2" r="4.0"/><circle cx="867.5" cy="432.2" r="4.0"/><circle cx="874.6" cy="432.2" r="4.0"/><circle cx="932.2" cy="432.2" r="4.0"/><circle cx="945.1" cy="432.2" r="4.0"/><circle cx="979.5" cy="432.2" r="4.0"/><circle cx="989.1" cy="432.2" r="4.0"/><circle cx="1036.6" cy="432.2" r="4.0"/><circle cx="1080.8" cy="432.2" r="4.0"/><circle cx="1131.4" cy="432.2" r="4.0"/><circle cx="1175.7" cy="432.2" r="4.0"/><circle cx="809.1" cy="443.8" r="4.0"/><circle cx="840.1" cy="443.8" r="4.0"/><circle cx="843.6" cy="443.8" r="4.0"/><circle cx="847.2" cy="443.8" r="4.0"/><circle cx="856.9" cy="443.8" r="4.0"/><circle cx="860.4" cy="443.8" r="4.0"/><circle cx="864.0" cy="443.8" r="4.0"/><circle cx="867.5" cy="443.8" r="4.0"/><circle cx="871.9" cy="443.8" r="4.0"/><circle cx="882.1" cy="443.8" r="4.0"/><circle cx="918.8" cy="443.8" r="4.0"/><circle cx="922.3" cy="443.8" r="4.0"/><circle cx="925.6" cy="443.8" r="4.0"/><circle cx="963.6" cy="443.8" r="4.0"/><circle cx="1033.0" cy="443.8" r="4.0"/><circle cx="1042.3" cy="443.8" r="4.0"/><circle cx="1070.8" cy="443.8" r="4.0"/><circle cx="1080.8" cy="443.8" r="4.0"/><circle cx="1102.9" cy="443.8" r="4.0"/><circle cx="1131.4" cy="443.8" r="4.0"/><circle cx="809.1" cy="455.4" r="4.0"/><circle cx="828.2" cy="455.4" r="4.0"/><circle cx="840.0" cy="455.4" r="4.0"/><circle cx="844.0" cy="455.4" r="4.0"/><circle cx="848.0" cy="455.4" r="4.0"/><circle cx="852.0" cy="455.4" r="4.0"/><circle cx="856.0" cy="455.4" r="4.0"/><circle cx="864.0" cy="455.4" r="4.0"/><circle cx="868.4" cy="455.4" r="4.0"/><circle cx="872.8" cy="455.4" r="4.0"/><circle cx="877.2" cy="455.4" r="4.0"/><circle cx="881.6" cy="455.4" r="4.0"/><circle cx="906.8" cy="455.4" r="4.0"/><circle cx="932.7" cy="455.4" r="4.0"/><circle cx="938.0" cy="455.4" r="4.0"/><circle cx="951.3" cy="455.4" r="4.0"/><circle cx="955.7" cy="455.4" r="4.0"/><circle cx="960.1" cy="455.4" r="4.0"/><circle cx="964.1" cy="455.4" r="4.0"/><circle cx="979.5" cy="455.4" r="4.0"/><circle cx="995.5" cy="455.4" r="4.0"/><circle cx="1033.0" cy="455.4" r="4.0"/><circle cx="1037.0" cy="455.4" r="4.0"/><circle cx="1065.0" cy="455.4" r="4.0"/><circle cx="1080.8" cy="455.4" r="4.0"/><circle cx="1109.3" cy="455.4" r="4.0"/><circle cx="812.2" cy="467.1" r="4.0"/><circle cx="828.2" cy="467.1" r="4.0"/><circle cx="839.9" cy="467.1" r="4.0"/><circle cx="844.4" cy="467.1" r="4.0"/><circle cx="848.8" cy="467.1" r="4.0"/><circle cx="853.3" cy="467.1" r="4.0"/><circle cx="857.7" cy="467.1" r="4.0"/><circle cx="862.2" cy="467.1" r="4.0"/><circle cx="866.6" cy="467.1" r="4.0"/><circle cx="871.1" cy="467.1" r="4.0"/><circle cx="875.5" cy="467.1" r="4.0"/><circle cx="880.0" cy="467.1" r="4.0"/><circle cx="894.9" cy="467.1" r="4.0"/><circle cx="910.0" cy="467.1" r="4.0"/><circle cx="914.5" cy="467.1" r="4.0"/><circle cx="919.1" cy="467.1" r="4.0"/><circle cx="923.6" cy="467.1" r="4.0"/><circle cx="928.2" cy="467.1" r="4.0"/><circle cx="932.7" cy="467.1" r="4.0"/><circle cx="955.0" cy="467.1" r="4.0"/><circle cx="960.0" cy="467.1" r="4.0"/><circle cx="978.7" cy="467.1" r="4.0"/><circle cx="984.0" cy="467.1" r="4.0"/><circle cx="1036.8" cy="467.1" r="4.0"/><circle cx="1062.0" cy="467.1" r="4.0"/><circle cx="1080.8" cy="467.1" r="4.0"/><circle cx="1126.1" cy="467.1" r="4.0"/><circle cx="1130.0" cy="467.1" r="4.0"/><circle cx="1134.0" cy="467.1" r="4.0"/><circle cx="1175.7" cy="467.1" r="4.0"/><circle cx="809.1" cy="478.7" r="4.0"/><circle cx="812.2" cy="478.7" r="4.0"/><circle cx="828.2" cy="478.7" r="4.0"/><circle cx="839.9" cy="478.7" r="4.0"/><circle cx="844.4" cy="478.7" r="4.0"/><circle cx="848.8" cy="478.7" r="4.0"/><circle cx="853.3" cy="478.7" r="4.0"/><circle cx="857.8" cy="478.7" r="4.0"/><circle cx="862.3" cy="478.7" r="4.0"/><circle cx="866.7" cy="478.7" r="4.0"/><circle cx="871.2" cy="478.7" r="4.0"/><circle cx="884.0" cy="478.7" r="4.0"/><circle cx="895.6" cy="478.7" r="4.0"/><circle cx="900.1" cy="478.7" r="4.0"/><circle cx="904.6" cy="478.7" r="4.0"/><circle cx="909.0" cy="478.7" r="4.0"/><circle cx="913.5" cy="478.7" r="4.0"/><circle cx="918.0" cy="478.7" r="4.0"/><circle cx="922.5" cy="478.7" r="4.0"/><circle cx="926.9" cy="478.7" r="4.0"/><circle cx="931.4" cy="478.7" r="4.0"/><circle cx="935.9" cy="478.7" r="4.0"/><circle cx="940.4" cy="478.7" r="4.0"/><circle cx="944.8" cy="478.7" r="4.0"/><circle cx="949.3" cy="478.7" r="4.0"/><circle cx="953.8" cy="478.7" r="4.0"/><circle cx="958.2" cy="478.7" r="4.0"/><circle cx="962.7" cy="478.7" r="4.0"/><circle cx="967.2" cy="478.7" r="4.0"/><circle cx="976.9" cy="478.7" r="4.0"/><circle cx="981.5" cy="478.7" r="4.0"/><circle cx="986.1" cy="478.7" r="4.0"/><circle cx="990.7" cy="478.7" r="4.0"/><circle cx="995.3" cy="478.7" r="4.0"/><circle cx="999.9" cy="478.7" r="4.0"/><circle cx="1031.7" cy="478.7" r="4.0"/><circle cx="1035.5" cy="478.7" r="4.0"/><circle cx="1039.2" cy="478.7" r="4.0"/><circle cx="1043.0" cy="478.7" r="4.0"/><circle cx="1052.2" cy="478.7" r="4.0"/><circle cx="1061.5" cy="478.7" r="4.0"/><circle cx="1066.8" cy="478.7" r="4.0"/><circle cx="1071.3" cy="478.7" r="4.0"/><circle cx="1080.8" cy="478.7" r="4.0"/><circle cx="1125.2" cy="478.7" r="4.0"/><circle cx="1159.7" cy="478.7" r="4.0"/><circle cx="812.2" cy="490.3" r="4.0"/><circle cx="832.0" cy="490.3" r="4.0"/><circle cx="836.3" cy="490.3" r="4.0"/><circle cx="840.6" cy="490.3" r="4.0"/><circle cx="844.9" cy="490.3" r="4.0"/><circle cx="849.2" cy="490.3" r="4.0"/><circle cx="853.5" cy="490.3" r="4.0"/><circle cx="857.8" cy="490.3" r="4.0"/><circle cx="862.1" cy="490.3" r="4.0"/><circle cx="866.4" cy="490.3" r="4.0"/><circle cx="870.7" cy="490.3" r="4.0"/><circle cx="875.0" cy="490.3" r="4.0"/><circle cx="879.3" cy="490.3" r="4.0"/><circle cx="883.6" cy="490.3" r="4.0"/><circle cx="895.6" cy="490.3" r="4.0"/><circle cx="900.1" cy="490.3" r="4.0"/><circle cx="904.6" cy="490.3" r="4.0"/><circle cx="909.0" cy="490.3" r="4.0"/><circle cx="913.5" cy="490.3" r="4.0"/><circle cx="918.0" cy="490.3" r="4.0"/><circle cx="922.5" cy="490.3" r="4.0"/><circle cx="926.9" cy="490.3" r="4.0"/><circle cx="931.4" cy="490.3" r="4.0"/><circle cx="935.9" cy="490.3" r="4.0"/><circle cx="940.4" cy="490.3" r="4.0"/><circle cx="944.8" cy="490.3" r="4.0"/><circle cx="949.3" cy="490.3" r="4.0"/><circle cx="953.8" cy="490.3" r="4.0"/><circle cx="958.2" cy="490.3" r="4.0"/><circle cx="962.7" cy="490.3" r="4.0"/><circle cx="967.2" cy="490.3" r="4.0"/><circle cx="976.9" cy="490.3" r="4.0"/><circle cx="981.5" cy="490.3" r="4.0"/><circle cx="986.1" cy="490.3" r="4.0"/><circle cx="990.7" cy="490.3" r="4.0"/><circle cx="995.3" cy="490.3" r="4.0"/><circle cx="999.9" cy="490.3" r="4.0"/><circle cx="1031.7" cy="490.3" r="4.0"/><circle cx="1035.2" cy="490.3" r="4.0"/><circle cx="1038.8" cy="490.3" r="4.0"/><circle cx="1052.2" cy="490.3" r="4.0"/><circle cx="1062.0" cy="490.3" r="4.0"/><circle cx="1071.3" cy="490.3" r="4.0"/><circle cx="1102.9" cy="490.3" r="4.0"/><circle cx="1131.4" cy="490.3" r="4.0"/><circle cx="1159.7" cy="490.3" r="4.0"/><circle cx="1175.7" cy="490.3" r="4.0"/><circle cx="1273.6" cy="490.3" r="4.0"/></g>
<path d="M808.0,473.2 L810.0,473.2 L812.0,473.2 L814.0,473.1 L816.0,473.1 L818.0,473.1 L820.0,473.1 L822.0,473.1 L824.0,473.1 L826.0,473.0 L828.0,473.0 L830.0,473.0 L832.0,473.0 L834.0,473.0 L836.0,472.9 L838.0,472.9 L840.0,472.9 L842.0,472.9 L844.0,472.9 L846.0,472.9 L848.0,472.8 L850.0,472.8 L852.0,472.8 L854.0,472.8 L856.0,472.8 L858.0,472.7 L860.0,472.7 L862.0,472.7 L864.0,472.7 L866.0,472.7 L868.0,472.7 L870.0,472.6 L872.0,472.6 L874.0,472.6 L876.0,472.6 L878.0,472.6 L880.0,472.5 L882.0,472.5 L884.0,472.5 L886.0,472.5 L888.0,472.5 L890.0,472.4 L892.0,472.4 L894.0,472.4 L896.0,472.4 L898.0,472.4 L900.0,472.4 L902.0,472.3 L904.0,472.3 L906.0,472.3 L908.0,472.3 L910.0,472.3 L912.0,472.2 L914.0,472.2 L916.0,472.2 L918.0,472.2 L920.0,472.2 L922.0,472.1 L924.0,472.1 L926.0,472.1 L928.0,472.1 L930.0,472.1 L932.0,472.0 L934.0,472.0 L936.0,472.0 L938.0,472.0 L940.0,472.0 L942.0,472.0 L944.0,471.9 L946.0,471.9 L948.0,471.9 L950.0,471.9 L952.0,471.9 L954.0,471.8 L956.0,471.8 L958.0,471.8 L960.0,471.8 L962.0,471.8 L964.0,471.7 L966.0,471.7 L968.0,471.7 L970.0,471.7 L972.0,471.7 L974.0,471.6 L976.0,471.6 L978.0,471.6 L980.0,471.6 L982.0,471.6 L984.0,471.5 L986.0,471.5 L988.0,471.5 L990.0,471.5 L992.0,471.5 L994.0,471.4 L996.0,471.4 L998.0,471.4 L1000.0,471.4 L1002.0,471.4 L1004.0,471.3 L1006.0,471.3 L1008.0,471.3 L1010.0,471.3 L1012.0,471.3 L1014.0,471.2 L1016.0,471.2 L1018.0,471.2 L1020.0,471.2 L1022.0,471.2 L1024.0,471.1 L1026.0,471.1 L1028.0,471.1 L1030.0,471.1 L1032.0,471.1 L1034.0,471.0 L1036.0,471.0 L1038.0,471.0 L1040.0,471.0 L1042.0,471.0 L1044.0,470.9 L1046.0,470.9 L1048.0,470.9 L1050.0,470.9 L1052.0,470.9 L1054.0,470.8 L1056.0,470.8 L1058.0,470.8 L1060.0,470.8 L1062.0,470.8 L1064.0,470.7 L1066.0,470.7 L1068.0,470.7 L1070.0,470.7 L1072.0,470.6 L1074.0,470.6 L1076.0,470.6 L1078.0,470.6 L1080.0,470.6 L1082.0,470.5 L1084.0,470.5 L1086.0,470.5 L1088.0,470.5 L1090.0,470.5 L1092.0,470.4 L1094.0,470.4 L1096.0,470.4 L1098.0,470.4 L1100.0,470.4 L1102.0,470.3 L1104.0,470.3 L1106.0,470.3 L1108.0,470.3 L1110.0,470.2 L1112.0,470.2 L1114.0,470.2 L1116.0,470.2 L1118.0,470.2 L1120.0,470.1 L1122.0,470.1 L1124.0,470.1 L1126.0,470.1 L1128.0,470.1 L1130.0,470.0 L1132.0,470.0 L1134.0,470.0 L1136.0,470.0 L1138.0,469.9 L1140.0,469.9 L1142.0,469.9 L1144.0,469.9 L1146.0,469.9 L1148.0,469.8 L1150.0,469.8 L1152.0,469.8 L1154.0,469.8 L1156.0,469.8 L1158.0,469.7 L1160.0,469.7 L1162.0,469.7 L1164.0,469.7 L1166.0,469.6 L1168.0,469.6 L1170.0,469.6 L1172.0,469.6 L1174.0,469.6 L1176.0,469.5 L1178.0,469.5 L1180.0,469.5 L1182.0,469.5 L1184.0,469.4 L1186.0,469.4 L1188.0,469.4 L1190.0,469.4 L1192.0,469.4 L1194.0,469.3 L1196.0,469.3 L1198.0,469.3 L1200.0,469.3 L1202.0,469.2 L1204.0,469.2 L1206.0,469.2 L1208.0,469.2 L1210.0,469.2 L1212.0,469.1 L1214.0,469.1 L1216.0,469.1 L1218.0,469.1 L1220.0,469.0 L1222.0,469.0 L1224.0,469.0 L1226.0,469.0 L1228.0,468.9 L1230.0,468.9 L1232.0,468.9 L1234.0,468.9 L1236.0,468.9 L1238.0,468.8 L1240.0,468.8 L1242.0,468.8 L1244.0,468.8 L1246.0,468.7 L1248.0,468.7 L1250.0,468.7 L1252.0,468.7 L1254.0,468.6 L1256.0,468.6 L1258.0,468.6 L1260.0,468.6 L1262.0,468.6 L1264.0,468.5 L1266.0,468.5 L1268.0,468.5 L1270.0,468.5 L1272.0,468.4 L1273.6,468.4" fill="none" stroke="#1f3fd3" stroke-width="3" stroke-linecap="round" stroke-linejoin="round"/>
<defs><clipPath id="clipc"><path d="M1494.6,462.9 L1496.6,462.8 L1498.6,462.7 L1500.6,462.6 L1502.6,462.4 L1504.6,462.3 L1506.6,462.2 L1508.6,462.1 L1510.6,462.0 L1512.6,461.9 L1514.6,461.8 L1516.6,461.7 L1518.6,461.5 L1520.6,461.4 L1522.6,461.3 L1524.6,461.2 L1526.6,461.0 L1528.6,460.9 L1530.6,460.8 L1532.6,460.6 L1534.6,460.5 L1536.6,460.3 L1538.6,460.2 L1540.6,460.1 L1542.6,459.9 L1544.6,459.8 L1546.6,459.6 L1548.6,459.4 L1550.6,459.3 L1552.6,459.1 L1554.6,459.0 L1556.6,458.8 L1558.6,458.6 L1560.6,458.5 L1562.6,458.3 L1564.6,458.1 L1566.6,458.0 L1568.6,457.8 L1570.6,457.6 L1572.6,457.4 L1574.6,457.2 L1576.6,457.0 L1578.6,456.9 L1580.6,456.7 L1582.6,456.5 L1584.6,456.3 L1586.6,456.1 L1588.6,455.9 L1590.6,455.7 L1592.6,455.5 L1594.6,455.2 L1596.6,455.0 L1598.6,454.8 L1600.6,454.6 L1602.6,454.4 L1604.6,454.1 L1606.6,453.9 L1608.6,453.7 L1610.6,453.5 L1612.6,453.2 L1614.6,453.0 L1616.6,452.7 L1618.6,452.5 L1620.6,452.2 L1622.6,452.0 L1624.6,451.7 L1626.6,451.5 L1628.6,451.2 L1630.6,451.0 L1632.6,450.7 L1634.6,450.4 L1636.6,450.1 L1638.6,449.9 L1640.6,449.6 L1642.6,449.3 L1644.6,449.0 L1646.6,448.7 L1648.6,448.4 L1650.6,448.1 L1652.6,447.8 L1654.6,447.5 L1656.6,447.2 L1658.6,446.9 L1660.6,446.6 L1662.6,446.3 L1664.6,446.0 L1666.6,445.6 L1668.6,445.3 L1670.6,445.0 L1672.6,444.6 L1674.6,444.3 L1676.6,444.0 L1678.6,443.6 L1680.6,443.3 L1682.6,442.9 L1684.6,442.5 L1686.6,442.2 L1688.6,441.8 L1690.6,441.4 L1692.6,441.1 L1694.6,440.7 L1696.6,440.3 L1698.6,439.9 L1700.6,439.5 L1702.6,439.1 L1704.6,438.7 L1706.6,438.3 L1708.6,437.9 L1710.6,437.5 L1712.6,437.1 L1714.6,436.7 L1716.6,436.2 L1718.6,435.8 L1720.6,435.4 L1722.6,434.9 L1724.6,434.5 L1726.6,434.0 L1728.6,433.6 L1730.6,433.1 L1732.6,432.6 L1734.6,432.2 L1736.6,431.7 L1738.6,431.2 L1740.6,430.7 L1742.6,430.2 L1744.6,429.8 L1746.6,429.3 L1748.6,428.8 L1750.6,428.2 L1752.6,427.7 L1754.6,427.2 L1756.6,426.7 L1758.6,426.2 L1760.6,425.6 L1762.6,425.1 L1764.6,424.5 L1766.6,424.0 L1768.6,423.4 L1770.6,422.9 L1772.6,422.3 L1774.6,421.7 L1776.6,421.1 L1778.6,420.5 L1780.6,420.0 L1782.6,419.4 L1784.6,418.8 L1786.6,418.2 L1788.6,417.5 L1790.6,416.9 L1792.6,416.3 L1794.6,415.7 L1796.6,415.0 L1798.6,414.4 L1800.6,413.7 L1802.6,413.1 L1804.6,412.4 L1806.6,411.7 L1808.6,411.1 L1810.6,410.4 L1812.6,409.7 L1814.6,409.0 L1816.6,408.3 L1818.6,407.6 L1820.6,406.9 L1822.6,406.2 L1824.6,405.4 L1826.6,404.7 L1828.6,404.0 L1830.6,403.2 L1832.6,402.5 L1834.6,401.7 L1836.6,400.9 L1838.6,400.2 L1840.6,399.4 L1842.6,398.6 L1844.6,397.8 L1846.6,397.0 L1848.6,396.2 L1850.6,395.4 L1852.6,394.6 L1854.6,393.7 L1856.6,392.9 L1858.6,392.1 L1860.6,391.2 L1862.6,390.4 L1864.6,389.5 L1866.6,388.6 L1868.6,387.8 L1870.6,386.9 L1872.6,386.0 L1874.6,385.1 L1876.6,384.2 L1878.6,383.3 L1880.6,382.3 L1882.6,381.4 L1884.6,380.5 L1886.6,379.5 L1888.6,378.6 L1890.6,377.6 L1892.6,376.7 L1894.6,375.7 L1896.6,374.7 L1898.6,373.7 L1900.6,372.7 L1902.6,371.7 L1904.6,370.7 L1906.6,369.7 L1908.6,368.7 L1910.6,367.7 L1912.6,366.6 L1914.6,365.6 L1916.6,364.5 L1918.6,363.5 L1920.6,362.4 L1922.6,361.3 L1924.6,360.2 L1926.6,359.2 L1928.6,358.1 L1930.6,357.0 L1932.6,355.8 L1934.6,354.7 L1936.6,353.6 L1938.6,352.5 L1940.6,351.3 L1942.6,350.2 L1944.6,349.0 L1946.6,347.9 L1948.6,346.7 L1950.6,345.5 L1952.6,344.3 L1954.6,343.1 L1956.6,341.9 L1958.6,340.7 L1959.4,340.3 L1959.6,473.7 L1958.6,473.7 L1956.6,473.8 L1954.6,473.9 L1952.6,474.0 L1950.6,474.1 L1948.6,474.2 L1946.6,474.3 L1944.6,474.4 L1942.6,474.5 L1940.6,474.6 L1938.6,474.7 L1936.6,474.8 L1934.6,474.9 L1932.6,475.0 L1930.6,475.1 L1928.6,475.2 L1926.6,475.3 L1924.6,475.4 L1922.6,475.5 L1920.6,475.5 L1918.6,475.6 L1916.6,475.7 L1914.6,475.8 L1912.6,475.9 L1910.6,476.0 L1908.6,476.1 L1906.6,476.2 L1904.6,476.3 L1902.6,476.4 L1900.6,476.5 L1898.6,476.5 L1896.6,476.6 L1894.6,476.7 L1892.6,476.8 L1890.6,476.9 L1888.6,477.0 L1886.6,477.1 L1884.6,477.2 L1882.6,477.2 L1880.6,477.3 L1878.6,477.4 L1876.6,477.5 L1874.6,477.6 L1872.6,477.7 L1870.6,477.7 L1868.6,477.8 L1866.6,477.9 L1864.6,478.0 L1862.6,478.1 L1860.6,478.2 L1858.6,478.2 L1856.6,478.3 L1854.6,478.4 L1852.6,478.5 L1850.6,478.6 L1848.6,478.6 L1846.6,478.7 L1844.6,478.8 L1842.6,478.9 L1840.6,478.9 L1838.6,479.0 L1836.6,479.1 L1834.6,479.2 L1832.6,479.2 L1830.6,479.3 L1828.6,479.4 L1826.6,479.5 L1824.6,479.5 L1822.6,479.6 L1820.6,479.7 L1818.6,479.7 L1816.6,479.8 L1814.6,479.9 L1812.6,480.0 L1810.6,480.0 L1808.6,480.1 L1806.6,480.2 L1804.6,480.2 L1802.6,480.3 L1800.6,480.4 L1798.6,480.4 L1796.6,480.5 L1794.6,480.6 L1792.6,480.6 L1790.6,480.7 L1788.6,480.7 L1786.6,480.8 L1784.6,480.9 L1782.6,480.9 L1780.6,481.0 L1778.6,481.1 L1776.6,481.1 L1774.6,481.2 L1772.6,481.2 L1770.6,481.3 L1768.6,481.3 L1766.6,481.4 L1764.6,481.5 L1762.6,481.5 L1760.6,481.6 L1758.6,481.6 L1756.6,481.7 L1754.6,481.7 L1752.6,481.8 L1750.6,481.8 L1748.6,481.9 L1746.6,482.0 L1744.6,482.0 L1742.6,482.1 L1740.6,482.1 L1738.6,482.2 L1736.6,482.2 L1734.6,482.3 L1732.6,482.3 L1730.6,482.4 L1728.6,482.4 L1726.6,482.5 L1724.6,482.5 L1722.6,482.5 L1720.6,482.6 L1718.6,482.6 L1716.6,482.7 L1714.6,482.7 L1712.6,482.8 L1710.6,482.8 L1708.6,482.9 L1706.6,482.9 L1704.6,482.9 L1702.6,483.0 L1700.6,483.0 L1698.6,483.1 L1696.6,483.1 L1694.6,483.2 L1692.6,483.2 L1690.6,483.2 L1688.6,483.3 L1686.6,483.3 L1684.6,483.4 L1682.6,483.4 L1680.6,483.4 L1678.6,483.5 L1676.6,483.5 L1674.6,483.5 L1672.6,483.6 L1670.6,483.6 L1668.6,483.6 L1666.6,483.7 L1664.6,483.7 L1662.6,483.7 L1660.6,483.8 L1658.6,483.8 L1656.6,483.8 L1654.6,483.9 L1652.6,483.9 L1650.6,483.9 L1648.6,484.0 L1646.6,484.0 L1644.6,484.0 L1642.6,484.1 L1640.6,484.1 L1638.6,484.1 L1636.6,484.1 L1634.6,484.2 L1632.6,484.2 L1630.6,484.2 L1628.6,484.3 L1626.6,484.3 L1624.6,484.3 L1622.6,484.3 L1620.6,484.4 L1618.6,484.4 L1616.6,484.4 L1614.6,484.4 L1612.6,484.5 L1610.6,484.5 L1608.6,484.5 L1606.6,484.5 L1604.6,484.5 L1602.6,484.6 L1600.6,484.6 L1598.6,484.6 L1596.6,484.6 L1594.6,484.6 L1592.6,484.7 L1590.6,484.7 L1588.6,484.7 L1586.6,484.7 L1584.6,484.7 L1582.6,484.8 L1580.6,484.8 L1578.6,484.8 L1576.6,484.8 L1574.6,484.8 L1572.6,484.8 L1570.6,484.9 L1568.6,484.9 L1566.6,484.9 L1564.6,484.9 L1562.6,484.9 L1560.6,484.9 L1558.6,484.9 L1556.6,485.0 L1554.6,485.0 L1552.6,485.0 L1550.6,485.0 L1548.6,485.0 L1546.6,485.0 L1544.6,485.0 L1542.6,485.0 L1540.6,485.1 L1538.6,485.1 L1536.6,485.1 L1534.6,485.1 L1532.6,485.1 L1530.6,485.1 L1528.6,485.1 L1526.6,485.1 L1524.6,485.1 L1522.6,485.1 L1520.6,485.1 L1518.6,485.1 L1516.6,485.2 L1514.6,485.2 L1512.6,485.2 L1510.6,485.2 L1508.6,485.2 L1506.6,485.2 L1504.6,485.2 L1502.6,485.2 L1500.6,485.2 L1498.6,485.2 L1496.6,485.2 L1494.6,485.2 Z"/></clipPath></defs>
<g fill="#000"><circle cx="1630.4" cy="72.0" r="4.0"/><circle cx="1786.9" cy="118.5" r="4.0"/><circle cx="1926.5" cy="118.5" r="4.0"/><circle cx="1801.4" cy="141.7" r="4.0"/><circle cx="1773.8" cy="164.9" r="4.0"/><circle cx="1591.0" cy="176.6" r="4.0"/><circle cx="1667.7" cy="176.6" r="4.0"/><circle cx="1809.6" cy="199.8" r="4.0"/><circle cx="1538.6" cy="223.0" r="4.0"/><circle cx="1710.6" cy="223.0" r="4.0"/><circle cx="1827.3" cy="223.0" r="4.0"/><circle cx="1865.2" cy="223.0" r="4.0"/><circle cx="1563.0" cy="234.7" r="4.0"/><circle cx="1528.7" cy="246.3" r="4.0"/><circle cx="1643.9" cy="257.9" r="4.0"/><circle cx="1664.9" cy="257.9" r="4.0"/><circle cx="1923.8" cy="257.9" r="4.0"/><circle cx="1544.4" cy="269.5" r="4.0"/><circle cx="1545.4" cy="269.5" r="4.0"/><circle cx="1690.6" cy="281.1" r="4.0"/><circle cx="1708.5" cy="292.8" r="4.0"/><circle cx="1539.8" cy="304.4" r="4.0"/><circle cx="1886.6" cy="304.4" r="4.0"/><circle cx="1917.5" cy="304.4" r="4.0"/><circle cx="1643.2" cy="316.0" r="4.0"/><circle cx="1632.1" cy="327.6" r="4.0"/><circle cx="1660.1" cy="327.6" r="4.0"/><circle cx="1678.0" cy="327.6" r="4.0"/><circle cx="1869.3" cy="327.6" r="4.0"/><circle cx="1538.9" cy="339.2" r="4.0"/><circle cx="1673.4" cy="339.2" r="4.0"/><circle cx="1785.7" cy="339.2" r="4.0"/><circle cx="1638.7" cy="350.9" r="4.0"/><circle cx="1685.5" cy="350.9" r="4.0"/><circle cx="1817.9" cy="350.9" r="4.0"/><circle cx="1532.0" cy="362.5" r="4.0"/><circle cx="1775.3" cy="362.5" r="4.0"/><circle cx="1816.3" cy="362.5" r="4.0"/><circle cx="1865.1" cy="362.5" r="4.0"/><circle cx="1900.2" cy="362.5" r="4.0"/><circle cx="1839.7" cy="374.1" r="4.0"/><circle cx="1852.1" cy="374.1" r="4.0"/><circle cx="1917.5" cy="374.1" r="4.0"/><circle cx="1621.7" cy="385.7" r="4.0"/><circle cx="1783.8" cy="385.7" r="4.0"/><circle cx="1808.5" cy="385.7" r="4.0"/><circle cx="1916.5" cy="385.7" r="4.0"/><circle cx="1559.3" cy="397.3" r="4.0"/><circle cx="1657.8" cy="397.3" r="4.0"/><circle cx="1731.7" cy="397.3" r="4.0"/><circle cx="1773.4" cy="397.3" r="4.0"/><circle cx="1852.1" cy="397.3" r="4.0"/><circle cx="1869.6" cy="397.3" r="4.0"/><circle cx="1515.7" cy="409.0" r="4.0"/><circle cx="1547.6" cy="409.0" r="4.0"/><circle cx="1610.0" cy="409.0" r="4.0"/><circle cx="1662.7" cy="409.0" r="4.0"/><circle cx="1673.8" cy="409.0" r="4.0"/><circle cx="1797.4" cy="409.0" r="4.0"/><circle cx="1825.7" cy="409.0" r="4.0"/><circle cx="1959.4" cy="409.0" r="4.0"/><circle cx="1519.0" cy="420.6" r="4.0"/><circle cx="1524.1" cy="420.6" r="4.0"/><circle cx="1604.8" cy="420.6" r="4.0"/><circle cx="1659.5" cy="420.6" r="4.0"/><circle cx="1673.4" cy="420.6" r="4.0"/><circle cx="1709.0" cy="420.6" r="4.0"/><circle cx="1714.1" cy="420.6" r="4.0"/><circle cx="1725.2" cy="420.6" r="4.0"/><circle cx="1774.7" cy="420.6" r="4.0"/><circle cx="1796.1" cy="420.6" r="4.0"/><circle cx="1811.1" cy="420.6" r="4.0"/><circle cx="1816.3" cy="420.6" r="4.0"/><circle cx="1880.0" cy="420.6" r="4.0"/><circle cx="1528.8" cy="432.2" r="4.0"/><circle cx="1553.8" cy="432.2" r="4.0"/><circle cx="1560.0" cy="432.2" r="4.0"/><circle cx="1644.2" cy="432.2" r="4.0"/><circle cx="1659.2" cy="432.2" r="4.0"/><circle cx="1667.2" cy="432.2" r="4.0"/><circle cx="1673.4" cy="432.2" r="4.0"/><circle cx="1690.6" cy="432.2" r="4.0"/><circle cx="1750.2" cy="432.2" r="4.0"/><circle cx="1785.1" cy="432.2" r="4.0"/><circle cx="1816.5" cy="432.2" r="4.0"/><circle cx="1851.9" cy="432.2" r="4.0"/><circle cx="1865.0" cy="432.2" r="4.0"/><circle cx="1870.3" cy="432.2" r="4.0"/><circle cx="1900.4" cy="432.2" r="4.0"/><circle cx="1926.9" cy="432.2" r="4.0"/><circle cx="1514.9" cy="443.8" r="4.0"/><circle cx="1522.0" cy="443.8" r="4.0"/><circle cx="1528.2" cy="443.8" r="4.0"/><circle cx="1544.1" cy="443.8" r="4.0"/><circle cx="1575.0" cy="443.8" r="4.0"/><circle cx="1604.2" cy="443.8" r="4.0"/><circle cx="1614.0" cy="443.8" r="4.0"/><circle cx="1643.3" cy="443.8" r="4.0"/><circle cx="1649.5" cy="443.8" r="4.0"/><circle cx="1658.4" cy="443.8" r="4.0"/><circle cx="1664.5" cy="443.8" r="4.0"/><circle cx="1677.8" cy="443.8" r="4.0"/><circle cx="1684.9" cy="443.8" r="4.0"/><circle cx="1729.1" cy="443.8" r="4.0"/><circle cx="1731.2" cy="443.8" r="4.0"/><circle cx="1738.3" cy="443.8" r="4.0"/><circle cx="1759.9" cy="443.8" r="4.0"/><circle cx="1816.5" cy="443.8" r="4.0"/><circle cx="1850.6" cy="443.8" r="4.0"/><circle cx="1886.3" cy="443.8" r="4.0"/><circle cx="1923.8" cy="443.8" r="4.0"/><circle cx="1499.9" cy="455.4" r="4.0"/><circle cx="1504.3" cy="455.4" r="4.0"/><circle cx="1517.6" cy="455.4" r="4.0"/><circle cx="1563.1" cy="455.4" r="4.0"/><circle cx="1579.9" cy="455.4" r="4.0"/><circle cx="1604.2" cy="455.4" r="4.0"/><circle cx="1621.2" cy="455.4" r="4.0"/><circle cx="1631.4" cy="455.4" r="4.0"/><circle cx="1659.2" cy="455.4" r="4.0"/><circle cx="1663.6" cy="455.4" r="4.0"/><circle cx="1668.1" cy="455.4" r="4.0"/><circle cx="1672.5" cy="455.4" r="4.0"/><circle cx="1676.9" cy="455.4" r="4.0"/><circle cx="1696.8" cy="455.4" r="4.0"/><circle cx="1710.5" cy="455.4" r="4.0"/><circle cx="1729.1" cy="455.4" r="4.0"/><circle cx="1731.2" cy="455.4" r="4.0"/><circle cx="1738.3" cy="455.4" r="4.0"/><circle cx="1748.0" cy="455.4" r="4.0"/><circle cx="1773.6" cy="455.4" r="4.0"/><circle cx="1785.1" cy="455.4" r="4.0"/><circle cx="1809.4" cy="455.4" r="4.0"/><circle cx="1817.8" cy="455.4" r="4.0"/><circle cx="1826.7" cy="455.4" r="4.0"/><circle cx="1840.0" cy="455.4" r="4.0"/><circle cx="1865.0" cy="455.4" r="4.0"/><circle cx="1917.2" cy="455.4" r="4.0"/><circle cx="1922.5" cy="455.4" r="4.0"/><circle cx="1926.9" cy="455.4" r="4.0"/><circle cx="1499.0" cy="467.1" r="4.0"/><circle cx="1510.0" cy="467.1" r="4.0"/><circle cx="1514.0" cy="467.1" r="4.0"/><circle cx="1519.3" cy="467.1" r="4.0"/><circle cx="1523.7" cy="467.1" r="4.0"/><circle cx="1537.9" cy="467.1" r="4.0"/><circle cx="1545.8" cy="467.1" r="4.0"/><circle cx="1578.1" cy="467.1" r="4.0"/><circle cx="1623.0" cy="467.1" r="4.0"/><circle cx="1627.4" cy="467.1" r="4.0"/><circle cx="1632.7" cy="467.1" r="4.0"/><circle cx="1638.0" cy="467.1" r="4.0"/><circle cx="1660.1" cy="467.1" r="4.0"/><circle cx="1663.7" cy="467.1" r="4.0"/><circle cx="1667.2" cy="467.1" r="4.0"/><circle cx="1677.8" cy="467.1" r="4.0"/><circle cx="1691.1" cy="467.1" r="4.0"/><circle cx="1714.1" cy="467.1" r="4.0"/><circle cx="1725.6" cy="467.1" r="4.0"/><circle cx="1729.8" cy="467.1" r="4.0"/><circle cx="1734.1" cy="467.1" r="4.0"/><circle cx="1738.3" cy="467.1" r="4.0"/><circle cx="1748.0" cy="467.1" r="4.0"/><circle cx="1759.5" cy="467.1" r="4.0"/><circle cx="1773.6" cy="467.1" r="4.0"/><circle cx="1779.8" cy="467.1" r="4.0"/><circle cx="1786.9" cy="467.1" r="4.0"/><circle cx="1809.4" cy="467.1" r="4.0"/><circle cx="1817.8" cy="467.1" r="4.0"/><circle cx="1826.7" cy="467.1" r="4.0"/><circle cx="1865.0" cy="467.1" r="4.0"/><circle cx="1870.3" cy="467.1" r="4.0"/><circle cx="1880.1" cy="467.1" r="4.0"/><circle cx="1916.8" cy="467.1" r="4.0"/><circle cx="1959.6" cy="467.1" r="4.0"/><circle cx="1499.0" cy="478.7" r="4.0"/><circle cx="1503.4" cy="478.7" r="4.0"/><circle cx="1510.5" cy="478.7" r="4.0"/><circle cx="1515.1" cy="478.7" r="4.0"/><circle cx="1519.8" cy="478.7" r="4.0"/><circle cx="1524.4" cy="478.7" r="4.0"/><circle cx="1529.0" cy="478.7" r="4.0"/><circle cx="1537.9" cy="478.7" r="4.0"/><circle cx="1541.7" cy="478.7" r="4.0"/><circle cx="1545.6" cy="478.7" r="4.0"/><circle cx="1549.4" cy="478.7" r="4.0"/><circle cx="1559.1" cy="478.7" r="4.0"/><circle cx="1563.5" cy="478.7" r="4.0"/><circle cx="1575.9" cy="478.7" r="4.0"/><circle cx="1580.3" cy="478.7" r="4.0"/><circle cx="1589.2" cy="478.7" r="4.0"/><circle cx="1594.0" cy="478.7" r="4.0"/><circle cx="1598.8" cy="478.7" r="4.0"/><circle cx="1603.7" cy="478.7" r="4.0"/><circle cx="1608.5" cy="478.7" r="4.0"/><circle cx="1613.3" cy="478.7" r="4.0"/><circle cx="1631.4" cy="478.7" r="4.0"/><circle cx="1643.8" cy="478.7" r="4.0"/><circle cx="1654.8" cy="478.7" r="4.0"/><circle cx="1659.5" cy="478.7" r="4.0"/><circle cx="1664.1" cy="478.7" r="4.0"/><circle cx="1668.8" cy="478.7" r="4.0"/><circle cx="1673.4" cy="478.7" r="4.0"/><circle cx="1682.2" cy="478.7" r="4.0"/><circle cx="1686.7" cy="478.7" r="4.0"/><circle cx="1691.1" cy="478.7" r="4.0"/><circle cx="1695.5" cy="478.7" r="4.0"/><circle cx="1700.0" cy="478.7" r="4.0"/><circle cx="1703.4" cy="478.7" r="4.0"/><circle cx="1708.1" cy="478.7" r="4.0"/><circle cx="1712.9" cy="478.7" r="4.0"/><circle cx="1717.6" cy="478.7" r="4.0"/><circle cx="1729.1" cy="478.7" r="4.0"/><circle cx="1733.6" cy="478.7" r="4.0"/><circle cx="1738.0" cy="478.7" r="4.0"/><circle cx="1742.5" cy="478.7" r="4.0"/><circle cx="1747.0" cy="478.7" r="4.0"/><circle cx="1751.5" cy="478.7" r="4.0"/><circle cx="1755.9" cy="478.7" r="4.0"/><circle cx="1760.4" cy="478.7" r="4.0"/><circle cx="1772.7" cy="478.7" r="4.0"/><circle cx="1776.7" cy="478.7" r="4.0"/><circle cx="1780.7" cy="478.7" r="4.0"/><circle cx="1784.7" cy="478.7" r="4.0"/><circle cx="1788.7" cy="478.7" r="4.0"/><circle cx="1826.2" cy="478.7" r="4.0"/><circle cx="1840.0" cy="478.7" r="4.0"/><circle cx="1850.6" cy="478.7" r="4.0"/><circle cx="1865.0" cy="478.7" r="4.0"/><circle cx="1870.3" cy="478.7" r="4.0"/><circle cx="1886.3" cy="478.7" r="4.0"/><circle cx="1900.4" cy="478.7" r="4.0"/><circle cx="1919.8" cy="478.7" r="4.0"/><circle cx="1924.3" cy="478.7" r="4.0"/><circle cx="1927.8" cy="478.7" r="4.0"/><circle cx="1937.1" cy="478.7" r="4.0"/><circle cx="1494.6" cy="490.3" r="4.0"/><circle cx="1499.0" cy="490.3" r="4.0"/><circle cx="1503.4" cy="490.3" r="4.0"/><circle cx="1507.9" cy="490.3" r="4.0"/><circle cx="1512.3" cy="490.3" r="4.0"/><circle cx="1516.7" cy="490.3" r="4.0"/><circle cx="1521.1" cy="490.3" r="4.0"/><circle cx="1525.5" cy="490.3" r="4.0"/><circle cx="1530.0" cy="490.3" r="4.0"/><circle cx="1534.4" cy="490.3" r="4.0"/><circle cx="1538.8" cy="490.3" r="4.0"/><circle cx="1543.2" cy="490.3" r="4.0"/><circle cx="1547.6" cy="490.3" r="4.0"/><circle cx="1552.1" cy="490.3" r="4.0"/><circle cx="1556.5" cy="490.3" r="4.0"/><circle cx="1560.9" cy="490.3" r="4.0"/><circle cx="1576.0" cy="490.3" r="4.0"/><circle cx="1580.5" cy="490.3" r="4.0"/><circle cx="1585.1" cy="490.3" r="4.0"/><circle cx="1589.6" cy="490.3" r="4.0"/><circle cx="1594.1" cy="490.3" r="4.0"/><circle cx="1598.7" cy="490.3" r="4.0"/><circle cx="1603.2" cy="490.3" r="4.0"/><circle cx="1607.7" cy="490.3" r="4.0"/><circle cx="1612.3" cy="490.3" r="4.0"/><circle cx="1616.8" cy="490.3" r="4.0"/><circle cx="1619.5" cy="490.3" r="4.0"/><circle cx="1623.9" cy="490.3" r="4.0"/><circle cx="1628.3" cy="490.3" r="4.0"/><circle cx="1632.7" cy="490.3" r="4.0"/><circle cx="1636.3" cy="490.3" r="4.0"/><circle cx="1640.5" cy="490.3" r="4.0"/><circle cx="1644.7" cy="490.3" r="4.0"/><circle cx="1648.8" cy="490.3" r="4.0"/><circle cx="1653.0" cy="490.3" r="4.0"/><circle cx="1656.6" cy="490.3" r="4.0"/><circle cx="1660.7" cy="490.3" r="4.0"/><circle cx="1664.8" cy="490.3" r="4.0"/><circle cx="1668.9" cy="490.3" r="4.0"/><circle cx="1673.1" cy="490.3" r="4.0"/><circle cx="1677.2" cy="490.3" r="4.0"/><circle cx="1681.3" cy="490.3" r="4.0"/><circle cx="1688.4" cy="490.3" r="4.0"/><circle cx="1693.7" cy="490.3" r="4.0"/><circle cx="1699.0" cy="490.3" r="4.0"/><circle cx="1702.6" cy="490.3" r="4.0"/><circle cx="1707.6" cy="490.3" r="4.0"/><circle cx="1712.6" cy="490.3" r="4.0"/><circle cx="1717.6" cy="490.3" r="4.0"/><circle cx="1723.0" cy="490.3" r="4.0"/><circle cx="1728.0" cy="490.3" r="4.0"/><circle cx="1733.0" cy="490.3" r="4.0"/><circle cx="1746.2" cy="490.3" r="4.0"/><circle cx="1751.5" cy="490.3" r="4.0"/><circle cx="1759.5" cy="490.3" r="4.0"/><circle cx="1773.6" cy="490.3" r="4.0"/><circle cx="1786.9" cy="490.3" r="4.0"/><circle cx="1795.7" cy="490.3" r="4.0"/><circle cx="1800.1" cy="490.3" r="4.0"/><circle cx="1804.6" cy="490.3" r="4.0"/><circle cx="1809.0" cy="490.3" r="4.0"/><circle cx="1813.4" cy="490.3" r="4.0"/><circle cx="1840.0" cy="490.3" r="4.0"/><circle cx="1850.6" cy="490.3" r="4.0"/><circle cx="1865.0" cy="490.3" r="4.0"/><circle cx="1870.3" cy="490.3" r="4.0"/><circle cx="1886.3" cy="490.3" r="4.0"/><circle cx="1900.4" cy="490.3" r="4.0"/><circle cx="1916.3" cy="490.3" r="4.0"/><circle cx="1924.3" cy="490.3" r="4.0"/><circle cx="1926.9" cy="490.3" r="4.0"/></g>
<path d="M1494.6,462.9 L1496.6,462.8 L1498.6,462.7 L1500.6,462.6 L1502.6,462.4 L1504.6,462.3 L1506.6,462.2 L1508.6,462.1 L1510.6,462.0 L1512.6,461.9 L1514.6,461.8 L1516.6,461.7 L1518.6,461.5 L1520.6,461.4 L1522.6,461.3 L1524.6,461.2 L1526.6,461.0 L1528.6,460.9 L1530.6,460.8 L1532.6,460.6 L1534.6,460.5 L1536.6,460.3 L1538.6,460.2 L1540.6,460.1 L1542.6,459.9 L1544.6,459.8 L1546.6,459.6 L1548.6,459.4 L1550.6,459.3 L1552.6,459.1 L1554.6,459.0 L1556.6,458.8 L1558.6,458.6 L1560.6,458.5 L1562.6,458.3 L1564.6,458.1 L1566.6,458.0 L1568.6,457.8 L1570.6,457.6 L1572.6,457.4 L1574.6,457.2 L1576.6,457.0 L1578.6,456.9 L1580.6,456.7 L1582.6,456.5 L1584.6,456.3 L1586.6,456.1 L1588.6,455.9 L1590.6,455.7 L1592.6,455.5 L1594.6,455.2 L1596.6,455.0 L1598.6,454.8 L1600.6,454.6 L1602.6,454.4 L1604.6,454.1 L1606.6,453.9 L1608.6,453.7 L1610.6,453.5 L1612.6,453.2 L1614.6,453.0 L1616.6,452.7 L1618.6,452.5 L1620.6,452.2 L1622.6,452.0 L1624.6,451.7 L1626.6,451.5 L1628.6,451.2 L1630.6,451.0 L1632.6,450.7 L1634.6,450.4 L1636.6,450.1 L1638.6,449.9 L1640.6,449.6 L1642.6,449.3 L1644.6,449.0 L1646.6,448.7 L1648.6,448.4 L1650.6,448.1 L1652.6,447.8 L1654.6,447.5 L1656.6,447.2 L1658.6,446.9 L1660.6,446.6 L1662.6,446.3 L1664.6,446.0 L1666.6,445.6 L1668.6,445.3 L1670.6,445.0 L1672.6,444.6 L1674.6,444.3 L1676.6,444.0 L1678.6,443.6 L1680.6,443.3 L1682.6,442.9 L1684.6,442.5 L1686.6,442.2 L1688.6,441.8 L1690.6,441.4 L1692.6,441.1 L1694.6,440.7 L1696.6,440.3 L1698.6,439.9 L1700.6,439.5 L1702.6,439.1 L1704.6,438.7 L1706.6,438.3 L1708.6,437.9 L1710.6,437.5 L1712.6,437.1 L1714.6,436.7 L1716.6,436.2 L1718.6,435.8 L1720.6,435.4 L1722.6,434.9 L1724.6,434.5 L1726.6,434.0 L1728.6,433.6 L1730.6,433.1 L1732.6,432.6 L1734.6,432.2 L1736.6,431.7 L1738.6,431.2 L1740.6,430.7 L1742.6,430.2 L1744.6,429.8 L1746.6,429.3 L1748.6,428.8 L1750.6,428.2 L1752.6,427.7 L1754.6,427.2 L1756.6,426.7 L1758.6,426.2 L1760.6,425.6 L1762.6,425.1 L1764.6,424.5 L1766.6,424.0 L1768.6,423.4 L1770.6,422.9 L1772.6,422.3 L1774.6,421.7 L1776.6,421.1 L1778.6,420.5 L1780.6,420.0 L1782.6,419.4 L1784.6,418.8 L1786.6,418.2 L1788.6,417.5 L1790.6,416.9 L1792.6,416.3 L1794.6,415.7 L1796.6,415.0 L1798.6,414.4 L1800.6,413.7 L1802.6,413.1 L1804.6,412.4 L1806.6,411.7 L1808.6,411.1 L1810.6,410.4 L1812.6,409.7 L1814.6,409.0 L1816.6,408.3 L1818.6,407.6 L1820.6,406.9 L1822.6,406.2 L1824.6,405.4 L1826.6,404.7 L1828.6,404.0 L1830.6,403.2 L1832.6,402.5 L1834.6,401.7 L1836.6,400.9 L1838.6,400.2 L1840.6,399.4 L1842.6,398.6 L1844.6,397.8 L1846.6,397.0 L1848.6,396.2 L1850.6,395.4 L1852.6,394.6 L1854.6,393.7 L1856.6,392.9 L1858.6,392.1 L1860.6,391.2 L1862.6,390.4 L1864.6,389.5 L1866.6,388.6 L1868.6,387.8 L1870.6,386.9 L1872.6,386.0 L1874.6,385.1 L1876.6,384.2 L1878.6,383.3 L1880.6,382.3 L1882.6,381.4 L1884.6,380.5 L1886.6,379.5 L1888.6,378.6 L1890.6,377.6 L1892.6,376.7 L1894.6,375.7 L1896.6,374.7 L1898.6,373.7 L1900.6,372.7 L1902.6,371.7 L1904.6,370.7 L1906.6,369.7 L1908.6,368.7 L1910.6,367.7 L1912.6,366.6 L1914.6,365.6 L1916.6,364.5 L1918.6,363.5 L1920.6,362.4 L1922.6,361.3 L1924.6,360.2 L1926.6,359.2 L1928.6,358.1 L1930.6,357.0 L1932.6,355.8 L1934.6,354.7 L1936.6,353.6 L1938.6,352.5 L1940.6,351.3 L1942.6,350.2 L1944.6,349.0 L1946.6,347.9 L1948.6,346.7 L1950.6,345.5 L1952.6,344.3 L1954.6,343.1 L1956.6,341.9 L1958.6,340.7 L1959.4,340.3 L1959.6,473.7 L1958.6,473.7 L1956.6,473.8 L1954.6,473.9 L1952.6,474.0 L1950.6,474.1 L1948.6,474.2 L1946.6,474.3 L1944.6,474.4 L1942.6,474.5 L1940.6,474.6 L1938.6,474.7 L1936.6,474.8 L1934.6,474.9 L1932.6,475.0 L1930.6,475.1 L1928.6,475.2 L1926.6,475.3 L1924.6,475.4 L1922.6,475.5 L1920.6,475.5 L1918.6,475.6 L1916.6,475.7 L1914.6,475.8 L1912.6,475.9 L1910.6,476.0 L1908.6,476.1 L1906.6,476.2 L1904.6,476.3 L1902.6,476.4 L1900.6,476.5 L1898.6,476.5 L1896.6,476.6 L1894.6,476.7 L1892.6,476.8 L1890.6,476.9 L1888.6,477.0 L1886.6,477.1 L1884.6,477.2 L1882.6,477.2 L1880.6,477.3 L1878.6,477.4 L1876.6,477.5 L1874.6,477.6 L1872.6,477.7 L1870.6,477.7 L1868.6,477.8 L1866.6,477.9 L1864.6,478.0 L1862.6,478.1 L1860.6,478.2 L1858.6,478.2 L1856.6,478.3 L1854.6,478.4 L1852.6,478.5 L1850.6,478.6 L1848.6,478.6 L1846.6,478.7 L1844.6,478.8 L1842.6,478.9 L1840.6,478.9 L1838.6,479.0 L1836.6,479.1 L1834.6,479.2 L1832.6,479.2 L1830.6,479.3 L1828.6,479.4 L1826.6,479.5 L1824.6,479.5 L1822.6,479.6 L1820.6,479.7 L1818.6,479.7 L1816.6,479.8 L1814.6,479.9 L1812.6,480.0 L1810.6,480.0 L1808.6,480.1 L1806.6,480.2 L1804.6,480.2 L1802.6,480.3 L1800.6,480.4 L1798.6,480.4 L1796.6,480.5 L1794.6,480.6 L1792.6,480.6 L1790.6,480.7 L1788.6,480.7 L1786.6,480.8 L1784.6,480.9 L1782.6,480.9 L1780.6,481.0 L1778.6,481.1 L1776.6,481.1 L1774.6,481.2 L1772.6,481.2 L1770.6,481.3 L1768.6,481.3 L1766.6,481.4 L1764.6,481.5 L1762.6,481.5 L1760.6,481.6 L1758.6,481.6 L1756.6,481.7 L1754.6,481.7 L1752.6,481.8 L1750.6,481.8 L1748.6,481.9 L1746.6,482.0 L1744.6,482.0 L1742.6,482.1 L1740.6,482.1 L1738.6,482.2 L1736.6,482.2 L1734.6,482.3 L1732.6,482.3 L1730.6,482.4 L1728.6,482.4 L1726.6,482.5 L1724.6,482.5 L1722.6,482.5 L1720.6,482.6 L1718.6,482.6 L1716.6,482.7 L1714.6,482.7 L1712.6,482.8 L1710.6,482.8 L1708.6,482.9 L1706.6,482.9 L1704.6,482.9 L1702.6,483.0 L1700.6,483.0 L1698.6,483.1 L1696.6,483.1 L1694.6,483.2 L1692.6,483.2 L1690.6,483.2 L1688.6,483.3 L1686.6,483.3 L1684.6,483.4 L1682.6,483.4 L1680.6,483.4 L1678.6,483.5 L1676.6,483.5 L1674.6,483.5 L1672.6,483.6 L1670.6,483.6 L1668.6,483.6 L1666.6,483.7 L1664.6,483.7 L1662.6,483.7 L1660.6,483.8 L1658.6,483.8 L1656.6,483.8 L1654.6,483.9 L1652.6,483.9 L1650.6,483.9 L1648.6,484.0 L1646.6,484.0 L1644.6,484.0 L1642.6,484.1 L1640.6,484.1 L1638.6,484.1 L1636.6,484.1 L1634.6,484.2 L1632.6,484.2 L1630.6,484.2 L1628.6,484.3 L1626.6,484.3 L1624.6,484.3 L1622.6,484.3 L1620.6,484.4 L1618.6,484.4 L1616.6,484.4 L1614.6,484.4 L1612.6,484.5 L1610.6,484.5 L1608.6,484.5 L1606.6,484.5 L1604.6,484.5 L1602.6,484.6 L1600.6,484.6 L1598.6,484.6 L1596.6,484.6 L1594.6,484.6 L1592.6,484.7 L1590.6,484.7 L1588.6,484.7 L1586.6,484.7 L1584.6,484.7 L1582.6,484.8 L1580.6,484.8 L1578.6,484.8 L1576.6,484.8 L1574.6,484.8 L1572.6,484.8 L1570.6,484.9 L1568.6,484.9 L1566.6,484.9 L1564.6,484.9 L1562.6,484.9 L1560.6,484.9 L1558.6,484.9 L1556.6,485.0 L1554.6,485.0 L1552.6,485.0 L1550.6,485.0 L1548.6,485.0 L1546.6,485.0 L1544.6,485.0 L1542.6,485.0 L1540.6,485.1 L1538.6,485.1 L1536.6,485.1 L1534.6,485.1 L1532.6,485.1 L1530.6,485.1 L1528.6,485.1 L1526.6,485.1 L1524.6,485.1 L1522.6,485.1 L1520.6,485.1 L1518.6,485.1 L1516.6,485.2 L1514.6,485.2 L1512.6,485.2 L1510.6,485.2 L1508.6,485.2 L1506.6,485.2 L1504.6,485.2 L1502.6,485.2 L1500.6,485.2 L1498.6,485.2 L1496.6,485.2 L1494.6,485.2 Z" fill="#dcecfa"/>
<g fill="#26445a" clip-path="url(#clipc)"><circle cx="1630.4" cy="72.0" r="4.0"/><circle cx="1786.9" cy="118.5" r="4.0"/><circle cx="1926.5" cy="118.5" r="4.0"/><circle cx="1801.4" cy="141.7" r="4.0"/><circle cx="1773.8" cy="164.9" r="4.0"/><circle cx="1591.0" cy="176.6" r="4.0"/><circle cx="1667.7" cy="176.6" r="4.0"/><circle cx="1809.6" cy="199.8" r="4.0"/><circle cx="1538.6" cy="223.0" r="4.0"/><circle cx="1710.6" cy="223.0" r="4.0"/><circle cx="1827.3" cy="223.0" r="4.0"/><circle cx="1865.2" cy="223.0" r="4.0"/><circle cx="1563.0" cy="234.7" r="4.0"/><circle cx="1528.7" cy="246.3" r="4.0"/><circle cx="1643.9" cy="257.9" r="4.0"/><circle cx="1664.9" cy="257.9" r="4.0"/><circle cx="1923.8" cy="257.9" r="4.0"/><circle cx="1544.4" cy="269.5" r="4.0"/><circle cx="1545.4" cy="269.5" r="4.0"/><circle cx="1690.6" cy="281.1" r="4.0"/><circle cx="1708.5" cy="292.8" r="4.0"/><circle cx="1539.8" cy="304.4" r="4.0"/><circle cx="1886.6" cy="304.4" r="4.0"/><circle cx="1917.5" cy="304.4" r="4.0"/><circle cx="1643.2" cy="316.0" r="4.0"/><circle cx="1632.1" cy="327.6" r="4.0"/><circle cx="1660.1" cy="327.6" r="4.0"/><circle cx="1678.0" cy="327.6" r="4.0"/><circle cx="1869.3" cy="327.6" r="4.0"/><circle cx="1538.9" cy="339.2" r="4.0"/><circle cx="1673.4" cy="339.2" r="4.0"/><circle cx="1785.7" cy="339.2" r="4.0"/><circle cx="1638.7" cy="350.9" r="4.0"/><circle cx="1685.5" cy="350.9" r="4.0"/><circle cx="1817.9" cy="350.9" r="4.0"/><circle cx="1532.0" cy="362.5" r="4.0"/><circle cx="1775.3" cy="362.5" r="4.0"/><circle cx="1816.3" cy="362.5" r="4.0"/><circle cx="1865.1" cy="362.5" r="4.0"/><circle cx="1900.2" cy="362.5" r="4.0"/><circle cx="1839.7" cy="374.1" r="4.0"/><circle cx="1852.1" cy="374.1" r="4.0"/><circle cx="1917.5" cy="374.1" r="4.0"/><circle cx="1621.7" cy="385.7" r="4.0"/><circle cx="1783.8" cy="385.7" r="4.0"/><circle cx="1808.5" cy="385.7" r="4.0"/><circle cx="1916.5" cy="385.7" r="4.0"/><circle cx="1559.3" cy="397.3" r="4.0"/><circle cx="1657.8" cy="397.3" r="4.0"/><circle cx="1731.7" cy="397.3" r="4.0"/><circle cx="1773.4" cy="397.3" r="4.0"/><circle cx="1852.1" cy="397.3" r="4.0"/><circle cx="1869.6" cy="397.3" r="4.0"/><circle cx="1515.7" cy="409.0" r="4.0"/><circle cx="1547.6" cy="409.0" r="4.0"/><circle cx="1610.0" cy="409.0" r="4.0"/><circle cx="1662.7" cy="409.0" r="4.0"/><circle cx="1673.8" cy="409.0" r="4.0"/><circle cx="1797.4" cy="409.0" r="4.0"/><circle cx="1825.7" cy="409.0" r="4.0"/><circle cx="1959.4" cy="409.0" r="4.0"/><circle cx="1519.0" cy="420.6" r="4.0"/><circle cx="1524.1" cy="420.6" r="4.0"/><circle cx="1604.8" cy="420.6" r="4.0"/><circle cx="1659.5" cy="420.6" r="4.0"/><circle cx="1673.4" cy="420.6" r="4.0"/><circle cx="1709.0" cy="420.6" r="4.0"/><circle cx="1714.1" cy="420.6" r="4.0"/><circle cx="1725.2" cy="420.6" r="4.0"/><circle cx="1774.7" cy="420.6" r="4.0"/><circle cx="1796.1" cy="420.6" r="4.0"/><circle cx="1811.1" cy="420.6" r="4.0"/><circle cx="1816.3" cy="420.6" r="4.0"/><circle cx="1880.0" cy="420.6" r="4.0"/><circle cx="1528.8" cy="432.2" r="4.0"/><circle cx="1553.8" cy="432.2" r="4.0"/><circle cx="1560.0" cy="432.2" r="4.0"/><circle cx="1644.2" cy="432.2" r="4.0"/><circle cx="1659.2" cy="432.2" r="4.0"/><circle cx="1667.2" cy="432.2" r="4.0"/><circle cx="1673.4" cy="432.2" r="4.0"/><circle cx="1690.6" cy="432.2" r="4.0"/><circle cx="1750.2" cy="432.2" r="4.0"/><circle cx="1785.1" cy="432.2" r="4.0"/><circle cx="1816.5" cy="432.2" r="4.0"/><circle cx="1851.9" cy="432.2" r="4.0"/><circle cx="1865.0" cy="432.2" r="4.0"/><circle cx="1870.3" cy="432.2" r="4.0"/><circle cx="1900.4" cy="432.2" r="4.0"/><circle cx="1926.9" cy="432.2" r="4.0"/><circle cx="1514.9" cy="443.8" r="4.0"/><circle cx="1522.0" cy="443.8" r="4.0"/><circle cx="1528.2" cy="443.8" r="4.0"/><circle cx="1544.1" cy="443.8" r="4.0"/><circle cx="1575.0" cy="443.8" r="4.0"/><circle cx="1604.2" cy="443.8" r="4.0"/><circle cx="1614.0" cy="443.8" r="4.0"/><circle cx="1643.3" cy="443.8" r="4.0"/><circle cx="1649.5" cy="443.8" r="4.0"/><circle cx="1658.4" cy="443.8" r="4.0"/><circle cx="1664.5" cy="443.8" r="4.0"/><circle cx="1677.8" cy="443.8" r="4.0"/><circle cx="1684.9" cy="443.8" r="4.0"/><circle cx="1729.1" cy="443.8" r="4.0"/><circle cx="1731.2" cy="443.8" r="4.0"/><circle cx="1738.3" cy="443.8" r="4.0"/><circle cx="1759.9" cy="443.8" r="4.0"/><circle cx="1816.5" cy="443.8" r="4.0"/><circle cx="1850.6" cy="443.8" r="4.0"/><circle cx="1886.3" cy="443.8" r="4.0"/><circle cx="1923.8" cy="443.8" r="4.0"/><circle cx="1499.9" cy="455.4" r="4.0"/><circle cx="1504.3" cy="455.4" r="4.0"/><circle cx="1517.6" cy="455.4" r="4.0"/><circle cx="1563.1" cy="455.4" r="4.0"/><circle cx="1579.9" cy="455.4" r="4.0"/><circle cx="1604.2" cy="455.4" r="4.0"/><circle cx="1621.2" cy="455.4" r="4.0"/><circle cx="1631.4" cy="455.4" r="4.0"/><circle cx="1659.2" cy="455.4" r="4.0"/><circle cx="1663.6" cy="455.4" r="4.0"/><circle cx="1668.1" cy="455.4" r="4.0"/><circle cx="1672.5" cy="455.4" r="4.0"/><circle cx="1676.9" cy="455.4" r="4.0"/><circle cx="1696.8" cy="455.4" r="4.0"/><circle cx="1710.5" cy="455.4" r="4.0"/><circle cx="1729.1" cy="455.4" r="4.0"/><circle cx="1731.2" cy="455.4" r="4.0"/><circle cx="1738.3" cy="455.4" r="4.0"/><circle cx="1748.0" cy="455.4" r="4.0"/><circle cx="1773.6" cy="455.4" r="4.0"/><circle cx="1785.1" cy="455.4" r="4.0"/><circle cx="1809.4" cy="455.4" r="4.0"/><circle cx="1817.8" cy="455.4" r="4.0"/><circle cx="1826.7" cy="455.4" r="4.0"/><circle cx="1840.0" cy="455.4" r="4.0"/><circle cx="1865.0" cy="455.4" r="4.0"/><circle cx="1917.2" cy="455.4" r="4.0"/><circle cx="1922.5" cy="455.4" r="4.0"/><circle cx="1926.9" cy="455.4" r="4.0"/><circle cx="1499.0" cy="467.1" r="4.0"/><circle cx="1510.0" cy="467.1" r="4.0"/><circle cx="1514.0" cy="467.1" r="4.0"/><circle cx="1519.3" cy="467.1" r="4.0"/><circle cx="1523.7" cy="467.1" r="4.0"/><circle cx="1537.9" cy="467.1" r="4.0"/><circle cx="1545.8" cy="467.1" r="4.0"/><circle cx="1578.1" cy="467.1" r="4.0"/><circle cx="1623.0" cy="467.1" r="4.0"/><circle cx="1627.4" cy="467.1" r="4.0"/><circle cx="1632.7" cy="467.1" r="4.0"/><circle cx="1638.0" cy="467.1" r="4.0"/><circle cx="1660.1" cy="467.1" r="4.0"/><circle cx="1663.7" cy="467.1" r="4.0"/><circle cx="1667.2" cy="467.1" r="4.0"/><circle cx="1677.8" cy="467.1" r="4.0"/><circle cx="1691.1" cy="467.1" r="4.0"/><circle cx="1714.1" cy="467.1" r="4.0"/><circle cx="1725.6" cy="467.1" r="4.0"/><circle cx="1729.8" cy="467.1" r="4.0"/><circle cx="1734.1" cy="467.1" r="4.0"/><circle cx="1738.3" cy="467.1" r="4.0"/><circle cx="1748.0" cy="467.1" r="4.0"/><circle cx="1759.5" cy="467.1" r="4.0"/><circle cx="1773.6" cy="467.1" r="4.0"/><circle cx="1779.8" cy="467.1" r="4.0"/><circle cx="1786.9" cy="467.1" r="4.0"/><circle cx="1809.4" cy="467.1" r="4.0"/><circle cx="1817.8" cy="467.1" r="4.0"/><circle cx="1826.7" cy="467.1" r="4.0"/><circle cx="1865.0" cy="467.1" r="4.0"/><circle cx="1870.3" cy="467.1" r="4.0"/><circle cx="1880.1" cy="467.1" r="4.0"/><circle cx="1916.8" cy="467.1" r="4.0"/><circle cx="1959.6" cy="467.1" r="4.0"/><circle cx="1499.0" cy="478.7" r="4.0"/><circle cx="1503.4" cy="478.7" r="4.0"/><circle cx="1510.5" cy="478.7" r="4.0"/><circle cx="1515.1" cy="478.7" r="4.0"/><circle cx="1519.8" cy="478.7" r="4.0"/><circle cx="1524.4" cy="478.7" r="4.0"/><circle cx="1529.0" cy="478.7" r="4.0"/><circle cx="1537.9" cy="478.7" r="4.0"/><circle cx="1541.7" cy="478.7" r="4.0"/><circle cx="1545.6" cy="478.7" r="4.0"/><circle cx="1549.4" cy="478.7" r="4.0"/><circle cx="1559.1" cy="478.7" r="4.0"/><circle cx="1563.5" cy="478.7" r="4.0"/><circle cx="1575.9" cy="478.7" r="4.0"/><circle cx="1580.3" cy="478.7" r="4.0"/><circle cx="1589.2" cy="478.7" r="4.0"/><circle cx="1594.0" cy="478.7" r="4.0"/><circle cx="1598.8" cy="478.7" r="4.0"/><circle cx="1603.7" cy="478.7" r="4.0"/><circle cx="1608.5" cy="478.7" r="4.0"/><circle cx="1613.3" cy="478.7" r="4.0"/><circle cx="1631.4" cy="478.7" r="4.0"/><circle cx="1643.8" cy="478.7" r="4.0"/><circle cx="1654.8" cy="478.7" r="4.0"/><circle cx="1659.5" cy="478.7" r="4.0"/><circle cx="1664.1" cy="478.7" r="4.0"/><circle cx="1668.8" cy="478.7" r="4.0"/><circle cx="1673.4" cy="478.7" r="4.0"/><circle cx="1682.2" cy="478.7" r="4.0"/><circle cx="1686.7" cy="478.7" r="4.0"/><circle cx="1691.1" cy="478.7" r="4.0"/><circle cx="1695.5" cy="478.7" r="4.0"/><circle cx="1700.0" cy="478.7" r="4.0"/><circle cx="1703.4" cy="478.7" r="4.0"/><circle cx="1708.1" cy="478.7" r="4.0"/><circle cx="1712.9" cy="478.7" r="4.0"/><circle cx="1717.6" cy="478.7" r="4.0"/><circle cx="1729.1" cy="478.7" r="4.0"/><circle cx="1733.6" cy="478.7" r="4.0"/><circle cx="1738.0" cy="478.7" r="4.0"/><circle cx="1742.5" cy="478.7" r="4.0"/><circle cx="1747.0" cy="478.7" r="4.0"/><circle cx="1751.5" cy="478.7" r="4.0"/><circle cx="1755.9" cy="478.7" r="4.0"/><circle cx="1760.4" cy="478.7" r="4.0"/><circle cx="1772.7" cy="478.7" r="4.0"/><circle cx="1776.7" cy="478.7" r="4.0"/><circle cx="1780.7" cy="478.7" r="4.0"/><circle cx="1784.7" cy="478.7" r="4.0"/><circle cx="1788.7" cy="478.7" r="4.0"/><circle cx="1826.2" cy="478.7" r="4.0"/><circle cx="1840.0" cy="478.7" r="4.0"/><circle cx="1850.6" cy="478.7" r="4.0"/><circle cx="1865.0" cy="478.7" r="4.0"/><circle cx="1870.3" cy="478.7" r="4.0"/><circle cx="1886.3" cy="478.7" r="4.0"/><circle cx="1900.4" cy="478.7" r="4.0"/><circle cx="1919.8" cy="478.7" r="4.0"/><circle cx="1924.3" cy="478.7" r="4.0"/><circle cx="1927.8" cy="478.7" r="4.0"/><circle cx="1937.1" cy="478.7" r="4.0"/><circle cx="1494.6" cy="490.3" r="4.0"/><circle cx="1499.0" cy="490.3" r="4.0"/><circle cx="1503.4" cy="490.3" r="4.0"/><circle cx="1507.9" cy="490.3" r="4.0"/><circle cx="1512.3" cy="490.3" r="4.0"/><circle cx="1516.7" cy="490.3" r="4.0"/><circle cx="1521.1" cy="490.3" r="4.0"/><circle cx="1525.5" cy="490.3" r="4.0"/><circle cx="1530.0" cy="490.3" r="4.0"/><circle cx="1534.4" cy="490.3" r="4.0"/><circle cx="1538.8" cy="490.3" r="4.0"/><circle cx="1543.2" cy="490.3" r="4.0"/><circle cx="1547.6" cy="490.3" r="4.0"/><circle cx="1552.1" cy="490.3" r="4.0"/><circle cx="1556.5" cy="490.3" r="4.0"/><circle cx="1560.9" cy="490.3" r="4.0"/><circle cx="1576.0" cy="490.3" r="4.0"/><circle cx="1580.5" cy="490.3" r="4.0"/><circle cx="1585.1" cy="490.3" r="4.0"/><circle cx="1589.6" cy="490.3" r="4.0"/><circle cx="1594.1" cy="490.3" r="4.0"/><circle cx="1598.7" cy="490.3" r="4.0"/><circle cx="1603.2" cy="490.3" r="4.0"/><circle cx="1607.7" cy="490.3" r="4.0"/><circle cx="1612.3" cy="490.3" r="4.0"/><circle cx="1616.8" cy="490.3" r="4.0"/><circle cx="1619.5" cy="490.3" r="4.0"/><circle cx="1623.9" cy="490.3" r="4.0"/><circle cx="1628.3" cy="490.3" r="4.0"/><circle cx="1632.7" cy="490.3" r="4.0"/><circle cx="1636.3" cy="490.3" r="4.0"/><circle cx="1640.5" cy="490.3" r="4.0"/><circle cx="1644.7" cy="490.3" r="4.0"/><circle cx="1648.8" cy="490.3" r="4.0"/><circle cx="1653.0" cy="490.3" r="4.0"/><circle cx="1656.6" cy="490.3" r="4.0"/><circle cx="1660.7" cy="490.3" r="4.0"/><circle cx="1664.8" cy="490.3" r="4.0"/><circle cx="1668.9" cy="490.3" r="4.0"/><circle cx="1673.1" cy="490.3" r="4.0"/><circle cx="1677.2" cy="490.3" r="4.0"/><circle cx="1681.3" cy="490.3" r="4.0"/><circle cx="1688.4" cy="490.3" r="4.0"/><circle cx="1693.7" cy="490.3" r="4.0"/><circle cx="1699.0" cy="490.3" r="4.0"/><circle cx="1702.6" cy="490.3" r="4.0"/><circle cx="1707.6" cy="490.3" r="4.0"/><circle cx="1712.6" cy="490.3" r="4.0"/><circle cx="1717.6" cy="490.3" r="4.0"/><circle cx="1723.0" cy="490.3" r="4.0"/><circle cx="1728.0" cy="490.3" r="4.0"/><circle cx="1733.0" cy="490.3" r="4.0"/><circle cx="1746.2" cy="490.3" r="4.0"/><circle cx="1751.5" cy="490.3" r="4.0"/><circle cx="1759.5" cy="490.3" r="4.0"/><circle cx="1773.6" cy="490.3" r="4.0"/><circle cx="1786.9" cy="490.3" r="4.0"/><circle cx="1795.7" cy="490.3" r="4.0"/><circle cx="1800.1" cy="490.3" r="4.0"/><circle cx="1804.6" cy="490.3" r="4.0"/><circle cx="1809.0" cy="490.3" r="4.0"/><circle cx="1813.4" cy="490.3" r="4.0"/><circle cx="1840.0" cy="490.3" r="4.0"/><circle cx="1850.6" cy="490.3" r="4.0"/><circle cx="1865.0" cy="490.3" r="4.0"/><circle cx="1870.3" cy="490.3" r="4.0"/><circle cx="1886.3" cy="490.3" r="4.0"/><circle cx="1900.4" cy="490.3" r="4.0"/><circle cx="1916.3" cy="490.3" r="4.0"/><circle cx="1924.3" cy="490.3" r="4.0"/><circle cx="1926.9" cy="490.3" r="4.0"/></g>
<path d="M1494.6,479.9 L1496.6,479.9 L1498.6,479.8 L1500.6,479.8 L1502.6,479.8 L1504.6,479.7 L1506.6,479.7 L1508.6,479.6 L1510.6,479.6 L1512.6,479.5 L1514.6,479.5 L1516.6,479.4 L1518.6,479.4 L1520.6,479.3 L1522.6,479.3 L1524.6,479.2 L1526.6,479.2 L1528.6,479.1 L1530.6,479.1 L1532.6,479.0 L1534.6,479.0 L1536.6,478.9 L1538.6,478.8 L1540.6,478.8 L1542.6,478.7 L1544.6,478.7 L1546.6,478.6 L1548.6,478.5 L1550.6,478.5 L1552.6,478.4 L1554.6,478.4 L1556.6,478.3 L1558.6,478.2 L1560.6,478.2 L1562.6,478.1 L1564.6,478.0 L1566.6,478.0 L1568.6,477.9 L1570.6,477.8 L1572.6,477.7 L1574.6,477.7 L1576.6,477.6 L1578.6,477.5 L1580.6,477.4 L1582.6,477.4 L1584.6,477.3 L1586.6,477.2 L1588.6,477.1 L1590.6,477.1 L1592.6,477.0 L1594.6,476.9 L1596.6,476.8 L1598.6,476.7 L1600.6,476.6 L1602.6,476.5 L1604.6,476.5 L1606.6,476.4 L1608.6,476.3 L1610.6,476.2 L1612.6,476.1 L1614.6,476.0 L1616.6,475.9 L1618.6,475.8 L1620.6,475.7 L1622.6,475.6 L1624.6,475.5 L1626.6,475.4 L1628.6,475.3 L1630.6,475.2 L1632.6,475.1 L1634.6,475.0 L1636.6,474.9 L1638.6,474.8 L1640.6,474.7 L1642.6,474.6 L1644.6,474.5 L1646.6,474.4 L1648.6,474.3 L1650.6,474.1 L1652.6,474.0 L1654.6,473.9 L1656.6,473.8 L1658.6,473.7 L1660.6,473.6 L1662.6,473.4 L1664.6,473.3 L1666.6,473.2 L1668.6,473.1 L1670.6,473.0 L1672.6,472.8 L1674.6,472.7 L1676.6,472.6 L1678.6,472.4 L1680.6,472.3 L1682.6,472.2 L1684.6,472.0 L1686.6,471.9 L1688.6,471.8 L1690.6,471.6 L1692.6,471.5 L1694.6,471.4 L1696.6,471.2 L1698.6,471.1 L1700.6,470.9 L1702.6,470.8 L1704.6,470.6 L1706.6,470.5 L1708.6,470.3 L1710.6,470.2 L1712.6,470.0 L1714.6,469.9 L1716.6,469.7 L1718.6,469.6 L1720.6,469.4 L1722.6,469.2 L1724.6,469.1 L1726.6,468.9 L1728.6,468.8 L1730.6,468.6 L1732.6,468.4 L1734.6,468.2 L1736.6,468.1 L1738.6,467.9 L1740.6,467.7 L1742.6,467.6 L1744.6,467.4 L1746.6,467.2 L1748.6,467.0 L1750.6,466.8 L1752.6,466.7 L1754.6,466.5 L1756.6,466.3 L1758.6,466.1 L1760.6,465.9 L1762.6,465.7 L1764.6,465.5 L1766.6,465.3 L1768.6,465.2 L1770.6,465.0 L1772.6,464.8 L1774.6,464.6 L1776.6,464.4 L1778.6,464.2 L1780.6,464.0 L1782.6,463.8 L1784.6,463.5 L1786.6,463.3 L1788.6,463.1 L1790.6,462.9 L1792.6,462.7 L1794.6,462.5 L1796.6,462.3 L1798.6,462.1 L1800.6,461.8 L1802.6,461.6 L1804.6,461.4 L1806.6,461.2 L1808.6,461.0 L1810.6,460.7 L1812.6,460.5 L1814.6,460.3 L1816.6,460.0 L1818.6,459.8 L1820.6,459.6 L1822.6,459.3 L1824.6,459.1 L1826.6,458.9 L1828.6,458.6 L1830.6,458.4 L1832.6,458.2 L1834.6,457.9 L1836.6,457.7 L1838.6,457.4 L1840.6,457.2 L1842.6,456.9 L1844.6,456.7 L1846.6,456.4 L1848.6,456.2 L1850.6,455.9 L1852.6,455.7 L1854.6,455.4 L1856.6,455.1 L1858.6,454.9 L1860.6,454.6 L1862.6,454.4 L1864.6,454.1 L1866.6,453.8 L1868.6,453.6 L1870.6,453.3 L1872.6,453.0 L1874.6,452.8 L1876.6,452.5 L1878.6,452.2 L1880.6,452.0 L1882.6,451.7 L1884.6,451.4 L1886.6,451.1 L1888.6,450.9 L1890.6,450.6 L1892.6,450.3 L1894.6,450.0 L1896.6,449.7 L1898.6,449.5 L1900.6,449.2 L1902.6,448.9 L1904.6,448.6 L1906.6,448.3 L1908.6,448.0 L1910.6,447.8 L1912.6,447.5 L1914.6,447.2 L1916.6,446.9 L1918.6,446.6 L1920.6,446.3 L1922.6,446.0 L1924.6,445.7 L1926.6,445.4 L1928.6,445.2 L1930.6,444.9 L1932.6,444.6 L1934.6,444.3 L1936.6,444.0 L1938.6,443.7 L1940.6,443.4 L1942.6,443.1 L1944.6,442.8 L1946.6,442.5 L1948.6,442.2 L1950.6,441.9 L1952.6,441.6 L1954.6,441.3 L1956.6,441.0 L1958.6,440.8 L1959.6,440.6" fill="none" stroke="#1f3fd3" stroke-width="3" stroke-linecap="round" stroke-linejoin="round"/>
<defs><clipPath id="clipe"><path d="M809.0,1080.3 L810.6,1079.4 L812.3,1079.5 L814.0,1079.5 L815.7,1079.5 L817.4,1079.5 L819.1,1079.5 L820.8,1079.5 L822.6,1079.5 L824.3,1079.5 L826.0,1079.5 L827.8,1079.4 L829.5,1079.4 L831.2,1079.4 L833.0,1079.4 L834.8,1079.4 L836.5,1079.3 L838.3,1079.3 L840.0,1079.3 L841.8,1079.2 L843.6,1079.2 L845.4,1079.1 L847.1,1079.1 L848.9,1079.0 L850.7,1079.0 L852.5,1078.9 L854.3,1078.9 L856.1,1078.8 L857.9,1078.7 L859.7,1078.6 L861.5,1078.6 L863.3,1078.5 L865.1,1078.4 L866.9,1078.3 L868.7,1078.2 L870.5,1078.1 L872.4,1078.0 L874.2,1077.9 L876.0,1077.8 L877.8,1077.7 L879.6,1077.6 L881.5,1077.4 L883.3,1077.3 L885.1,1077.2 L887.0,1077.0 L888.8,1076.9 L890.6,1076.7 L892.5,1076.6 L894.3,1076.4 L896.1,1076.3 L898.0,1076.1 L899.8,1075.9 L901.6,1075.7 L903.5,1075.6 L905.3,1075.4 L907.2,1075.2 L909.0,1075.0 L910.8,1074.8 L912.7,1074.6 L914.5,1074.3 L916.4,1074.1 L918.2,1073.9 L920.1,1073.7 L921.9,1073.4 L923.7,1073.2 L925.6,1072.9 L927.4,1072.7 L929.3,1072.4 L931.1,1072.2 L932.9,1071.9 L934.8,1071.6 L936.6,1071.3 L938.5,1071.0 L940.3,1070.7 L942.1,1070.4 L944.0,1070.1 L945.8,1069.8 L947.6,1069.5 L949.5,1069.2 L951.3,1068.8 L953.1,1068.5 L954.9,1068.1 L956.8,1067.8 L958.6,1067.4 L960.4,1067.1 L962.2,1066.7 L964.0,1066.3 L965.8,1065.9 L967.7,1065.5 L969.5,1065.1 L971.3,1064.7 L973.1,1064.3 L974.9,1063.9 L976.7,1063.5 L978.5,1063.0 L980.3,1062.6 L982.1,1062.1 L983.8,1061.7 L985.6,1061.2 L987.4,1060.7 L989.2,1060.3 L991.0,1059.8 L992.7,1059.3 L994.5,1058.8 L996.3,1058.3 L998.0,1057.7 L999.8,1057.2 L1001.5,1056.7 L1003.3,1056.1 L1005.0,1055.6 L1006.8,1055.0 L1008.5,1054.5 L1010.2,1053.9 L1011.9,1053.3 L1013.7,1052.7 L1015.4,1052.1 L1017.1,1051.5 L1018.8,1050.9 L1020.5,1050.3 L1022.2,1049.6 L1023.9,1049.0 L1025.6,1048.3 L1027.3,1047.7 L1029.0,1047.0 L1030.6,1046.4 L1032.3,1045.7 L1034.0,1045.0 L1035.6,1044.3 L1037.3,1043.6 L1038.9,1042.8 L1040.6,1042.1 L1042.2,1041.4 L1043.8,1040.6 L1045.4,1039.9 L1047.1,1039.1 L1048.7,1038.3 L1050.3,1037.6 L1051.9,1036.8 L1053.5,1036.0 L1055.0,1035.1 L1056.6,1034.3 L1058.2,1033.5 L1059.8,1032.7 L1061.3,1031.8 L1062.9,1030.9 L1064.4,1030.1 L1065.9,1029.2 L1067.5,1028.3 L1069.0,1027.4 L1070.5,1026.5 L1072.0,1025.6 L1073.5,1024.7 L1075.0,1023.7 L1076.5,1022.8 L1078.0,1021.8 L1079.4,1020.8 L1080.9,1019.9 L1082.3,1018.9 L1083.8,1017.9 L1085.2,1016.9 L1086.6,1015.8 L1088.1,1014.8 L1089.5,1013.8 L1090.9,1012.7 L1092.3,1011.6 L1093.6,1010.6 L1095.0,1009.5 L1096.4,1008.4 L1097.7,1007.3 L1099.1,1006.2 L1100.4,1005.0 L1101.8,1003.9 L1103.1,1002.7 L1104.4,1001.6 L1105.7,1000.4 L1107.0,999.2 L1108.3,998.0 L1109.6,996.8 L1110.8,995.6 L1112.1,994.4 L1113.3,993.2 L1114.6,991.9 L1115.8,990.7 L1117.0,989.4 L1118.3,988.2 L1119.5,986.9 L1120.7,985.6 L1121.9,984.3 L1123.0,983.0 L1124.2,981.7 L1125.4,980.4 L1126.5,979.0 L1127.7,977.7 L1128.8,976.3 L1130.0,975.0 L1131.1,973.6 L1132.2,972.2 L1133.3,970.9 L1134.4,969.5 L1135.5,968.1 L1136.6,966.7 L1137.7,965.3 L1138.8,963.8 L1139.8,962.4 L1140.9,961.0 L1141.9,959.5 L1143.0,958.1 L1144.0,956.6 L1145.0,955.2 L1146.0,953.7 L1147.0,952.2 L1148.0,950.7 L1149.0,949.3 L1150.0,947.8 L1151.0,946.3 L1152.0,944.8 L1152.9,943.2 L1153.9,941.7 L1154.8,940.2 L1155.8,938.7 L1156.7,937.1 L1157.6,935.6 L1158.5,934.0 L1159.4,932.5 L1160.4,930.9 L1161.2,929.3 L1162.1,927.8 L1163.0,926.2 L1163.9,924.6 L1164.8,923.0 L1165.6,921.4 L1166.5,919.8 L1167.3,918.2 L1168.1,916.6 L1169.0,915.0 L1169.8,913.4 L1170.6,911.8 L1171.4,910.1 L1172.2,908.5 L1173.0,906.9 L1173.8,905.2 L1174.6,903.6 L1175.4,902.0 L1176.1,900.3 L1176.9,898.7 L1177.7,897.0 L1178.4,895.3 L1179.1,893.7 L1179.9,892.0 L1180.6,890.3 L1181.3,888.7 L1182.0,887.0 L1182.8,885.3 L1183.5,883.6 L1184.2,882.0 L1184.8,880.3 L1185.5,878.6 L1186.2,876.9 L1186.9,875.2 L1187.5,873.5 L1188.2,871.8 L1188.8,870.1 L1189.5,868.4 L1190.1,866.7 L1190.8,865.0 L1191.4,863.3 L1192.0,861.6 L1192.6,859.9 L1193.2,858.2 L1193.8,856.4 L1194.4,854.7 L1195.0,853.0 L1195.6,851.3 L1196.2,849.6 L1196.8,847.8 L1197.4,846.1 L1197.9,844.4 L1198.5,842.7 L1199.1,840.9 L1199.6,839.2 L1200.2,837.5 L1200.7,835.7 L1201.2,834.0 L1201.8,832.2 L1202.3,830.5 L1202.8,828.7 L1203.3,827.0 L1203.9,825.3 L1204.4,823.5 L1204.9,821.8 L1205.4,820.0 L1205.9,818.3 L1206.4,816.5 L1206.8,814.7 L1207.3,813.0 L1207.8,811.2 L1208.3,809.5 L1208.8,807.7 L1209.2,806.0 L1209.7,804.2 L1210.2,802.4 L1210.6,800.7 L1211.1,798.9 L1211.5,797.1 L1212.0,795.4 L1212.4,793.6 L1212.8,791.8 L1213.3,790.1 L1213.7,788.3 L1214.2,786.5 L1214.6,784.8 L1215.0,783.0 L1215.4,781.2 L1215.8,779.5 L1216.3,777.7 L1216.7,775.9 L1217.1,774.1 L1217.5,772.4 L1217.9,770.6 L1218.3,768.8 L1218.7,767.0 L1219.1,765.3 L1219.5,763.5 L1219.9,761.7 L1220.3,759.9 L1220.7,758.2 L1221.0,756.4 L1221.4,754.6 L1221.8,752.8 L1222.2,751.1 L1222.6,749.3 L1222.9,747.5 L1223.3,745.7 L1223.7,743.9 L1224.1,742.2 L1224.4,740.4 L1224.8,738.6 L1225.2,736.8 L1225.5,735.1 L1225.9,733.3 L1226.3,731.5 L1226.6,729.7 L1227.0,728.0 L1227.3,726.2 L1227.7,724.4 L1228.1,722.6 L1228.4,720.9 L1228.8,719.1 L1229.1,717.3 L1229.5,715.6 L1229.8,713.8 L1230.2,712.0 L1230.5,710.2 L1230.9,708.5 L1231.2,706.7 L1231.6,704.9 L1231.9,703.2 L1232.3,701.4 L1232.6,699.6 L1233.0,697.9 L1233.3,696.1 L1233.7,694.4 L1234.0,692.6 L1234.4,690.8 L1234.7,689.1 L1235.1,687.3 L1235.4,685.6 L1235.8,683.8 L1236.1,682.1 L1236.5,680.3 L1236.8,678.6 L1237.2,676.8 L1237.6,675.1 L1237.9,673.3 L1238.3,671.6 L1238.6,669.8 L1239.0,668.1 L1239.3,666.3 L1239.7,664.6 L1240.1,662.9 L1240.4,661.1 L1240.8,659.4 L1241.1,657.7 L1241.5,655.9 L1241.9,654.2 L1242.3,652.5 L1242.6,650.7 L1243.0,649.0 L1243.4,647.3 L1243.7,645.6 L1244.1,643.9 L1244.5,642.1 L1244.9,640.4 L1245.3,638.7 L1245.6,637.0 L1246.0,635.3 L1246.4,633.6 L1246.8,631.9 L1247.2,630.2 L1246.4,627.6 L1246.6,1060.7 L1245.0,1061.0 L1243.0,1061.4 L1241.0,1061.8 L1239.0,1062.2 L1237.0,1062.6 L1235.0,1062.9 L1233.0,1063.3 L1231.0,1063.6 L1229.0,1064.0 L1227.0,1064.3 L1225.0,1064.7 L1223.0,1065.0 L1221.0,1065.3 L1219.0,1065.6 L1217.0,1066.0 L1215.0,1066.3 L1213.0,1066.6 L1211.0,1066.9 L1209.0,1067.2 L1207.0,1067.5 L1205.0,1067.7 L1203.0,1068.0 L1201.0,1068.3 L1199.0,1068.6 L1197.0,1068.8 L1195.0,1069.1 L1193.0,1069.4 L1191.0,1069.6 L1189.0,1069.9 L1187.0,1070.1 L1185.0,1070.4 L1183.0,1070.6 L1181.0,1070.8 L1179.0,1071.1 L1177.0,1071.3 L1175.0,1071.5 L1173.0,1071.7 L1171.0,1072.0 L1169.0,1072.2 L1167.0,1072.4 L1165.0,1072.6 L1163.0,1072.8 L1161.0,1073.0 L1159.0,1073.2 L1157.0,1073.4 L1155.0,1073.6 L1153.0,1073.8 L1151.0,1074.0 L1149.0,1074.2 L1147.0,1074.4 L1145.0,1074.5 L1143.0,1074.7 L1141.0,1074.9 L1139.0,1075.1 L1137.0,1075.2 L1135.0,1075.4 L1133.0,1075.6 L1131.0,1075.7 L1129.0,1075.9 L1127.0,1076.1 L1125.0,1076.2 L1123.0,1076.4 L1121.0,1076.6 L1119.0,1076.7 L1117.0,1076.9 L1115.0,1077.0 L1113.0,1077.2 L1111.0,1077.3 L1109.0,1077.4 L1107.0,1077.6 L1105.0,1077.7 L1103.0,1077.9 L1101.0,1078.0 L1099.0,1078.2 L1097.0,1078.3 L1095.0,1078.4 L1093.0,1078.6 L1091.0,1078.7 L1089.0,1078.8 L1087.0,1078.9 L1085.0,1079.1 L1083.0,1079.2 L1081.0,1079.3 L1079.0,1079.4 L1077.0,1079.6 L1075.0,1079.7 L1073.0,1079.8 L1071.0,1079.9 L1069.0,1080.0 L1067.0,1080.1 L1065.0,1080.3 L1063.0,1080.4 L1061.0,1080.5 L1059.0,1080.6 L1057.0,1080.7 L1055.0,1080.8 L1053.0,1080.9 L1051.0,1081.0 L1049.0,1081.1 L1047.0,1081.2 L1045.0,1081.3 L1043.0,1081.4 L1041.0,1081.5 L1039.0,1081.6 L1037.0,1081.7 L1035.0,1081.8 L1033.0,1081.9 L1031.0,1082.0 L1029.0,1082.1 L1027.0,1082.2 L1025.0,1082.3 L1023.0,1082.4 L1021.0,1082.5 L1019.0,1082.6 L1017.0,1082.7 L1015.0,1082.7 L1013.0,1082.8 L1011.0,1082.9 L1009.0,1083.0 L1007.0,1083.1 L1005.0,1083.2 L1003.0,1083.3 L1001.0,1083.3 L999.0,1083.4 L997.0,1083.5 L995.0,1083.6 L993.0,1083.7 L991.0,1083.7 L989.0,1083.8 L987.0,1083.9 L985.0,1084.0 L983.0,1084.0 L981.0,1084.1 L979.0,1084.2 L977.0,1084.3 L975.0,1084.3 L973.0,1084.4 L971.0,1084.5 L969.0,1084.6 L967.0,1084.6 L965.0,1084.7 L963.0,1084.8 L961.0,1084.8 L959.0,1084.9 L957.0,1085.0 L955.0,1085.0 L953.0,1085.1 L951.0,1085.2 L949.0,1085.2 L947.0,1085.3 L945.0,1085.3 L943.0,1085.4 L941.0,1085.5 L939.0,1085.5 L937.0,1085.6 L935.0,1085.7 L933.0,1085.7 L931.0,1085.8 L929.0,1085.8 L927.0,1085.9 L925.0,1085.9 L923.0,1086.0 L921.0,1086.1 L919.0,1086.1 L917.0,1086.2 L915.0,1086.2 L913.0,1086.3 L911.0,1086.3 L909.0,1086.4 L907.0,1086.4 L905.0,1086.5 L903.0,1086.5 L901.0,1086.6 L899.0,1086.6 L897.0,1086.7 L895.0,1086.7 L893.0,1086.8 L891.0,1086.8 L889.0,1086.9 L887.0,1086.9 L885.0,1086.9 L883.0,1087.0 L881.0,1087.0 L879.0,1087.1 L877.0,1087.1 L875.0,1087.2 L873.0,1087.2 L871.0,1087.2 L869.0,1087.3 L867.0,1087.3 L865.0,1087.4 L863.0,1087.4 L861.0,1087.4 L859.0,1087.5 L857.0,1087.5 L855.0,1087.6 L853.0,1087.6 L851.0,1087.6 L849.0,1087.7 L847.0,1087.7 L845.0,1087.7 L843.0,1087.8 L841.0,1087.8 L839.0,1087.8 L837.0,1087.9 L835.0,1087.9 L833.0,1087.9 L831.0,1088.0 L829.0,1088.0 L827.0,1088.0 L825.0,1088.1 L823.0,1088.1 L821.0,1088.1 L819.0,1088.2 L817.0,1088.2 L815.0,1088.2 L813.0,1088.2 L811.0,1088.3 L809.0,1088.3 Z"/></clipPath></defs>
<g fill="#000"><circle cx="1035.9" cy="671.2" r="4.0"/><circle cx="989.6" cy="717.7" r="4.0"/><circle cx="1025.6" cy="717.7" r="4.0"/><circle cx="1001.2" cy="740.9" r="4.0"/><circle cx="1009.6" cy="764.1" r="4.0"/><circle cx="1022.0" cy="775.8" r="4.0"/><circle cx="1139.1" cy="775.8" r="4.0"/><circle cx="1007.5" cy="799.0" r="4.0"/><circle cx="973.2" cy="822.2" r="4.0"/><circle cx="1002.9" cy="822.2" r="4.0"/><circle cx="1047.3" cy="822.2" r="4.0"/><circle cx="1216.8" cy="822.2" r="4.0"/><circle cx="1128.6" cy="833.9" r="4.0"/><circle cx="1082.9" cy="845.5" r="4.0"/><circle cx="976.5" cy="857.1" r="4.0"/><circle cx="1045.6" cy="857.1" r="4.0"/><circle cx="1084.4" cy="857.1" r="4.0"/><circle cx="1194.4" cy="868.7" r="4.0"/><circle cx="1210.2" cy="868.7" r="4.0"/><circle cx="1017.4" cy="880.3" r="4.0"/><circle cx="1026.9" cy="892.0" r="4.0"/><circle cx="983.3" cy="903.6" r="4.0"/><circle cx="1003.7" cy="903.6" r="4.0"/><circle cx="1077.9" cy="903.6" r="4.0"/><circle cx="1030.8" cy="915.2" r="4.0"/><circle cx="993.0" cy="926.8" r="4.0"/><circle cx="1030.8" cy="926.8" r="4.0"/><circle cx="1047.0" cy="926.8" r="4.0"/><circle cx="1070.5" cy="926.8" r="4.0"/><circle cx="999.2" cy="938.4" r="4.0"/><circle cx="1008.0" cy="938.4" r="4.0"/><circle cx="1217.5" cy="938.4" r="4.0"/><circle cx="952.4" cy="950.1" r="4.0"/><circle cx="1000.2" cy="950.1" r="4.0"/><circle cx="1012.6" cy="950.1" r="4.0"/><circle cx="964.0" cy="961.7" r="4.0"/><circle cx="989.4" cy="961.7" r="4.0"/><circle cx="998.2" cy="961.7" r="4.0"/><circle cx="1002.8" cy="961.7" r="4.0"/><circle cx="1246.6" cy="961.7" r="4.0"/><circle cx="983.3" cy="973.3" r="4.0"/><circle cx="989.1" cy="973.3" r="4.0"/><circle cx="1007.1" cy="973.3" r="4.0"/><circle cx="978.5" cy="984.9" r="4.0"/><circle cx="995.0" cy="984.9" r="4.0"/><circle cx="1021.7" cy="984.9" r="4.0"/><circle cx="1028.2" cy="984.9" r="4.0"/><circle cx="987.4" cy="996.5" r="4.0"/><circle cx="996.9" cy="996.5" r="4.0"/><circle cx="1003.4" cy="996.5" r="4.0"/><circle cx="1015.8" cy="996.5" r="4.0"/><circle cx="1041.6" cy="996.5" r="4.0"/><circle cx="1073.1" cy="996.5" r="4.0"/><circle cx="933.6" cy="1008.2" r="4.0"/><circle cx="961.4" cy="1008.2" r="4.0"/><circle cx="983.3" cy="1008.2" r="4.0"/><circle cx="999.5" cy="1008.2" r="4.0"/><circle cx="1015.8" cy="1008.2" r="4.0"/><circle cx="1024.3" cy="1008.2" r="4.0"/><circle cx="1032.7" cy="1008.2" r="4.0"/><circle cx="1056.8" cy="1008.2" r="4.0"/><circle cx="1119.3" cy="1008.2" r="4.0"/><circle cx="987.5" cy="1019.8" r="4.0"/><circle cx="991.8" cy="1019.8" r="4.0"/><circle cx="996.1" cy="1019.8" r="4.0"/><circle cx="1000.5" cy="1019.8" r="4.0"/><circle cx="1004.8" cy="1019.8" r="4.0"/><circle cx="1009.1" cy="1019.8" r="4.0"/><circle cx="1013.4" cy="1019.8" r="4.0"/><circle cx="1017.7" cy="1019.8" r="4.0"/><circle cx="1022.0" cy="1019.8" r="4.0"/><circle cx="1026.4" cy="1019.8" r="4.0"/><circle cx="1030.7" cy="1019.8" r="4.0"/><circle cx="1035.0" cy="1019.8" r="4.0"/><circle cx="1043.1" cy="1019.8" r="4.0"/><circle cx="1109.9" cy="1019.8" r="4.0"/><circle cx="955.3" cy="1031.4" r="4.0"/><circle cx="963.7" cy="1031.4" r="4.0"/><circle cx="979.6" cy="1031.4" r="4.0"/><circle cx="986.6" cy="1031.4" r="4.0"/><circle cx="991.3" cy="1031.4" r="4.0"/><circle cx="996.1" cy="1031.4" r="4.0"/><circle cx="1000.8" cy="1031.4" r="4.0"/><circle cx="1007.4" cy="1031.4" r="4.0"/><circle cx="1017.6" cy="1031.4" r="4.0"/><circle cx="1029.1" cy="1031.4" r="4.0"/><circle cx="1045.3" cy="1031.4" r="4.0"/><circle cx="1050.6" cy="1031.4" r="4.0"/><circle cx="1055.9" cy="1031.4" r="4.0"/><circle cx="1082.5" cy="1031.4" r="4.0"/><circle cx="964.1" cy="1043.0" r="4.0"/><circle cx="972.5" cy="1043.0" r="4.0"/><circle cx="977.2" cy="1043.0" r="4.0"/><circle cx="981.8" cy="1043.0" r="4.0"/><circle cx="986.5" cy="1043.0" r="4.0"/><circle cx="991.2" cy="1043.0" r="4.0"/><circle cx="995.9" cy="1043.0" r="4.0"/><circle cx="1000.5" cy="1043.0" r="4.0"/><circle cx="1005.2" cy="1043.0" r="4.0"/><circle cx="1013.2" cy="1043.0" r="4.0"/><circle cx="1018.5" cy="1043.0" r="4.0"/><circle cx="1037.4" cy="1043.0" r="4.0"/><circle cx="1042.7" cy="1043.0" r="4.0"/><circle cx="1048.0" cy="1043.0" r="4.0"/><circle cx="1078.9" cy="1043.0" r="4.0"/><circle cx="1084.2" cy="1043.0" r="4.0"/><circle cx="1109.9" cy="1043.0" r="4.0"/><circle cx="1119.2" cy="1043.0" r="4.0"/><circle cx="1210.6" cy="1043.0" r="4.0"/><circle cx="952.2" cy="1054.6" r="4.0"/><circle cx="964.1" cy="1054.6" r="4.0"/><circle cx="972.5" cy="1054.6" r="4.0"/><circle cx="977.1" cy="1054.6" r="4.0"/><circle cx="981.7" cy="1054.6" r="4.0"/><circle cx="986.3" cy="1054.6" r="4.0"/><circle cx="990.9" cy="1054.6" r="4.0"/><circle cx="995.6" cy="1054.6" r="4.0"/><circle cx="1000.2" cy="1054.6" r="4.0"/><circle cx="1004.8" cy="1054.6" r="4.0"/><circle cx="1009.4" cy="1054.6" r="4.0"/><circle cx="1014.0" cy="1054.6" r="4.0"/><circle cx="1020.2" cy="1054.6" r="4.0"/><circle cx="1024.7" cy="1054.6" r="4.0"/><circle cx="1029.2" cy="1054.6" r="4.0"/><circle cx="1033.8" cy="1054.6" r="4.0"/><circle cx="1038.3" cy="1054.6" r="4.0"/><circle cx="1046.7" cy="1054.6" r="4.0"/><circle cx="1057.3" cy="1054.6" r="4.0"/><circle cx="1070.1" cy="1054.6" r="4.0"/><circle cx="1109.4" cy="1054.6" r="4.0"/><circle cx="1128.9" cy="1054.6" r="4.0"/><circle cx="1233.6" cy="1054.6" r="4.0"/><circle cx="1273.8" cy="1054.6" r="4.0"/><circle cx="933.6" cy="1066.3" r="4.0"/><circle cx="953.0" cy="1066.3" r="4.0"/><circle cx="957.5" cy="1066.3" r="4.0"/><circle cx="963.7" cy="1066.3" r="4.0"/><circle cx="975.2" cy="1066.3" r="4.0"/><circle cx="983.1" cy="1066.3" r="4.0"/><circle cx="990.2" cy="1066.3" r="4.0"/><circle cx="994.8" cy="1066.3" r="4.0"/><circle cx="999.3" cy="1066.3" r="4.0"/><circle cx="1003.9" cy="1066.3" r="4.0"/><circle cx="1008.5" cy="1066.3" r="4.0"/><circle cx="1013.0" cy="1066.3" r="4.0"/><circle cx="1017.6" cy="1066.3" r="4.0"/><circle cx="1023.8" cy="1066.3" r="4.0"/><circle cx="1028.8" cy="1066.3" r="4.0"/><circle cx="1033.8" cy="1066.3" r="4.0"/><circle cx="1040.9" cy="1066.3" r="4.0"/><circle cx="1058.6" cy="1066.3" r="4.0"/><circle cx="1070.1" cy="1066.3" r="4.0"/><circle cx="1109.9" cy="1066.3" r="4.0"/><circle cx="1112.5" cy="1066.3" r="4.0"/><circle cx="1181.8" cy="1066.3" r="4.0"/><circle cx="1194.7" cy="1066.3" r="4.0"/><circle cx="1255.2" cy="1066.3" r="4.0"/><circle cx="1261.4" cy="1066.3" r="4.0"/><circle cx="933.6" cy="1077.9" r="4.0"/><circle cx="953.0" cy="1077.9" r="4.0"/><circle cx="957.7" cy="1077.9" r="4.0"/><circle cx="962.5" cy="1077.9" r="4.0"/><circle cx="967.2" cy="1077.9" r="4.0"/><circle cx="970.0" cy="1077.9" r="4.0"/><circle cx="974.3" cy="1077.9" r="4.0"/><circle cx="978.7" cy="1077.9" r="4.0"/><circle cx="983.0" cy="1077.9" r="4.0"/><circle cx="987.3" cy="1077.9" r="4.0"/><circle cx="991.6" cy="1077.9" r="4.0"/><circle cx="996.0" cy="1077.9" r="4.0"/><circle cx="1000.3" cy="1077.9" r="4.0"/><circle cx="1004.6" cy="1077.9" r="4.0"/><circle cx="1009.0" cy="1077.9" r="4.0"/><circle cx="1013.3" cy="1077.9" r="4.0"/><circle cx="1017.6" cy="1077.9" r="4.0"/><circle cx="1022.0" cy="1077.9" r="4.0"/><circle cx="1026.3" cy="1077.9" r="4.0"/><circle cx="1030.6" cy="1077.9" r="4.0"/><circle cx="1034.9" cy="1077.9" r="4.0"/><circle cx="1039.3" cy="1077.9" r="4.0"/><circle cx="1043.6" cy="1077.9" r="4.0"/><circle cx="1057.7" cy="1077.9" r="4.0"/><circle cx="1069.2" cy="1077.9" r="4.0"/><circle cx="1073.6" cy="1077.9" r="4.0"/><circle cx="1078.1" cy="1077.9" r="4.0"/><circle cx="1082.5" cy="1077.9" r="4.0"/><circle cx="1110.8" cy="1077.9" r="4.0"/><circle cx="1128.9" cy="1077.9" r="4.0"/><circle cx="1139.1" cy="1077.9" r="4.0"/><circle cx="1173.4" cy="1077.9" r="4.0"/><circle cx="1194.7" cy="1077.9" r="4.0"/><circle cx="1216.8" cy="1077.9" r="4.0"/><circle cx="1233.6" cy="1077.9" r="4.0"/><circle cx="1255.2" cy="1077.9" r="4.0"/><circle cx="1261.4" cy="1077.9" r="4.0"/><circle cx="1271.1" cy="1077.9" r="4.0"/><circle cx="1274.7" cy="1077.9" r="4.0"/><circle cx="809.0" cy="1089.5" r="4.0"/><circle cx="923.9" cy="1089.5" r="4.0"/><circle cx="933.6" cy="1089.5" r="4.0"/><circle cx="954.8" cy="1089.5" r="4.0"/><circle cx="960.1" cy="1089.5" r="4.0"/><circle cx="965.4" cy="1089.5" r="4.0"/><circle cx="970.7" cy="1089.5" r="4.0"/><circle cx="975.1" cy="1089.5" r="4.0"/><circle cx="979.5" cy="1089.5" r="4.0"/><circle cx="983.9" cy="1089.5" r="4.0"/><circle cx="988.3" cy="1089.5" r="4.0"/><circle cx="992.7" cy="1089.5" r="4.0"/><circle cx="997.1" cy="1089.5" r="4.0"/><circle cx="1001.5" cy="1089.5" r="4.0"/><circle cx="1005.9" cy="1089.5" r="4.0"/><circle cx="1010.3" cy="1089.5" r="4.0"/><circle cx="1014.6" cy="1089.5" r="4.0"/><circle cx="1019.0" cy="1089.5" r="4.0"/><circle cx="1023.4" cy="1089.5" r="4.0"/><circle cx="1027.8" cy="1089.5" r="4.0"/><circle cx="1032.2" cy="1089.5" r="4.0"/><circle cx="1036.6" cy="1089.5" r="4.0"/><circle cx="1041.0" cy="1089.5" r="4.0"/><circle cx="1045.4" cy="1089.5" r="4.0"/><circle cx="1049.8" cy="1089.5" r="4.0"/><circle cx="1054.2" cy="1089.5" r="4.0"/><circle cx="1058.6" cy="1089.5" r="4.0"/><circle cx="1071.0" cy="1089.5" r="4.0"/><circle cx="1076.0" cy="1089.5" r="4.0"/><circle cx="1081.0" cy="1089.5" r="4.0"/><circle cx="1086.0" cy="1089.5" r="4.0"/><circle cx="1112.5" cy="1089.5" r="4.0"/><circle cx="1119.2" cy="1089.5" r="4.0"/><circle cx="1139.1" cy="1089.5" r="4.0"/><circle cx="1157.2" cy="1089.5" r="4.0"/><circle cx="1173.4" cy="1089.5" r="4.0"/><circle cx="1181.8" cy="1089.5" r="4.0"/><circle cx="1194.7" cy="1089.5" r="4.0"/><circle cx="1210.1" cy="1089.5" r="4.0"/><circle cx="1217.2" cy="1089.5" r="4.0"/><circle cx="1233.6" cy="1089.5" r="4.0"/><circle cx="1246.8" cy="1089.5" r="4.0"/><circle cx="1255.2" cy="1089.5" r="4.0"/><circle cx="1261.4" cy="1089.5" r="4.0"/><circle cx="1270.2" cy="1089.5" r="4.0"/><circle cx="1274.7" cy="1089.5" r="4.0"/></g>
<path d="M809.0,1080.3 L810.6,1079.4 L812.3,1079.5 L814.0,1079.5 L815.7,1079.5 L817.4,1079.5 L819.1,1079.5 L820.8,1079.5 L822.6,1079.5 L824.3,1079.5 L826.0,1079.5 L827.8,1079.4 L829.5,1079.4 L831.2,1079.4 L833.0,1079.4 L834.8,1079.4 L836.5,1079.3 L838.3,1079.3 L840.0,1079.3 L841.8,1079.2 L843.6,1079.2 L845.4,1079.1 L847.1,1079.1 L848.9,1079.0 L850.7,1079.0 L852.5,1078.9 L854.3,1078.9 L856.1,1078.8 L857.9,1078.7 L859.7,1078.6 L861.5,1078.6 L863.3,1078.5 L865.1,1078.4 L866.9,1078.3 L868.7,1078.2 L870.5,1078.1 L872.4,1078.0 L874.2,1077.9 L876.0,1077.8 L877.8,1077.7 L879.6,1077.6 L881.5,1077.4 L883.3,1077.3 L885.1,1077.2 L887.0,1077.0 L888.8,1076.9 L890.6,1076.7 L892.5,1076.6 L894.3,1076.4 L896.1,1076.3 L898.0,1076.1 L899.8,1075.9 L901.6,1075.7 L903.5,1075.6 L905.3,1075.4 L907.2,1075.2 L909.0,1075.0 L910.8,1074.8 L912.7,1074.6 L914.5,1074.3 L916.4,1074.1 L918.2,1073.9 L920.1,1073.7 L921.9,1073.4 L923.7,1073.2 L925.6,1072.9 L927.4,1072.7 L929.3,1072.4 L931.1,1072.2 L932.9,1071.9 L934.8,1071.6 L936.6,1071.3 L938.5,1071.0 L940.3,1070.7 L942.1,1070.4 L944.0,1070.1 L945.8,1069.8 L947.6,1069.5 L949.5,1069.2 L951.3,1068.8 L953.1,1068.5 L954.9,1068.1 L956.8,1067.8 L958.6,1067.4 L960.4,1067.1 L962.2,1066.7 L964.0,1066.3 L965.8,1065.9 L967.7,1065.5 L969.5,1065.1 L971.3,1064.7 L973.1,1064.3 L974.9,1063.9 L976.7,1063.5 L978.5,1063.0 L980.3,1062.6 L982.1,1062.1 L983.8,1061.7 L985.6,1061.2 L987.4,1060.7 L989.2,1060.3 L991.0,1059.8 L992.7,1059.3 L994.5,1058.8 L996.3,1058.3 L998.0,1057.7 L999.8,1057.2 L1001.5,1056.7 L1003.3,1056.1 L1005.0,1055.6 L1006.8,1055.0 L1008.5,1054.5 L1010.2,1053.9 L1011.9,1053.3 L1013.7,1052.7 L1015.4,1052.1 L1017.1,1051.5 L1018.8,1050.9 L1020.5,1050.3 L1022.2,1049.6 L1023.9,1049.0 L1025.6,1048.3 L1027.3,1047.7 L1029.0,1047.0 L1030.6,1046.4 L1032.3,1045.7 L1034.0,1045.0 L1035.6,1044.3 L1037.3,1043.6 L1038.9,1042.8 L1040.6,1042.1 L1042.2,1041.4 L1043.8,1040.6 L1045.4,1039.9 L1047.1,1039.1 L1048.7,1038.3 L1050.3,1037.6 L1051.9,1036.8 L1053.5,1036.0 L1055.0,1035.1 L1056.6,1034.3 L1058.2,1033.5 L1059.8,1032.7 L1061.3,1031.8 L1062.9,1030.9 L1064.4,1030.1 L1065.9,1029.2 L1067.5,1028.3 L1069.0,1027.4 L1070.5,1026.5 L1072.0,1025.6 L1073.5,1024.7 L1075.0,1023.7 L1076.5,1022.8 L1078.0,1021.8 L1079.4,1020.8 L1080.9,1019.9 L1082.3,1018.9 L1083.8,1017.9 L1085.2,1016.9 L1086.6,1015.8 L1088.1,1014.8 L1089.5,1013.8 L1090.9,1012.7 L1092.3,1011.6 L1093.6,1010.6 L1095.0,1009.5 L1096.4,1008.4 L1097.7,1007.3 L1099.1,1006.2 L1100.4,1005.0 L1101.8,1003.9 L1103.1,1002.7 L1104.4,1001.6 L1105.7,1000.4 L1107.0,999.2 L1108.3,998.0 L1109.6,996.8 L1110.8,995.6 L1112.1,994.4 L1113.3,993.2 L1114.6,991.9 L1115.8,990.7 L1117.0,989.4 L1118.3,988.2 L1119.5,986.9 L1120.7,985.6 L1121.9,984.3 L1123.0,983.0 L1124.2,981.7 L1125.4,980.4 L1126.5,979.0 L1127.7,977.7 L1128.8,976.3 L1130.0,975.0 L1131.1,973.6 L1132.2,972.2 L1133.3,970.9 L1134.4,969.5 L1135.5,968.1 L1136.6,966.7 L1137.7,965.3 L1138.8,963.8 L1139.8,962.4 L1140.9,961.0 L1141.9,959.5 L1143.0,958.1 L1144.0,956.6 L1145.0,955.2 L1146.0,953.7 L1147.0,952.2 L1148.0,950.7 L1149.0,949.3 L1150.0,947.8 L1151.0,946.3 L1152.0,944.8 L1152.9,943.2 L1153.9,941.7 L1154.8,940.2 L1155.8,938.7 L1156.7,937.1 L1157.6,935.6 L1158.5,934.0 L1159.4,932.5 L1160.4,930.9 L1161.2,929.3 L1162.1,927.8 L1163.0,926.2 L1163.9,924.6 L1164.8,923.0 L1165.6,921.4 L1166.5,919.8 L1167.3,918.2 L1168.1,916.6 L1169.0,915.0 L1169.8,913.4 L1170.6,911.8 L1171.4,910.1 L1172.2,908.5 L1173.0,906.9 L1173.8,905.2 L1174.6,903.6 L1175.4,902.0 L1176.1,900.3 L1176.9,898.7 L1177.7,897.0 L1178.4,895.3 L1179.1,893.7 L1179.9,892.0 L1180.6,890.3 L1181.3,888.7 L1182.0,887.0 L1182.8,885.3 L1183.5,883.6 L1184.2,882.0 L1184.8,880.3 L1185.5,878.6 L1186.2,876.9 L1186.9,875.2 L1187.5,873.5 L1188.2,871.8 L1188.8,870.1 L1189.5,868.4 L1190.1,866.7 L1190.8,865.0 L1191.4,863.3 L1192.0,861.6 L1192.6,859.9 L1193.2,858.2 L1193.8,856.4 L1194.4,854.7 L1195.0,853.0 L1195.6,851.3 L1196.2,849.6 L1196.8,847.8 L1197.4,846.1 L1197.9,844.4 L1198.5,842.7 L1199.1,840.9 L1199.6,839.2 L1200.2,837.5 L1200.7,835.7 L1201.2,834.0 L1201.8,832.2 L1202.3,830.5 L1202.8,828.7 L1203.3,827.0 L1203.9,825.3 L1204.4,823.5 L1204.9,821.8 L1205.4,820.0 L1205.9,818.3 L1206.4,816.5 L1206.8,814.7 L1207.3,813.0 L1207.8,811.2 L1208.3,809.5 L1208.8,807.7 L1209.2,806.0 L1209.7,804.2 L1210.2,802.4 L1210.6,800.7 L1211.1,798.9 L1211.5,797.1 L1212.0,795.4 L1212.4,793.6 L1212.8,791.8 L1213.3,790.1 L1213.7,788.3 L1214.2,786.5 L1214.6,784.8 L1215.0,783.0 L1215.4,781.2 L1215.8,779.5 L1216.3,777.7 L1216.7,775.9 L1217.1,774.1 L1217.5,772.4 L1217.9,770.6 L1218.3,768.8 L1218.7,767.0 L1219.1,765.3 L1219.5,763.5 L1219.9,761.7 L1220.3,759.9 L1220.7,758.2 L1221.0,756.4 L1221.4,754.6 L1221.8,752.8 L1222.2,751.1 L1222.6,749.3 L1222.9,747.5 L1223.3,745.7 L1223.7,743.9 L1224.1,742.2 L1224.4,740.4 L1224.8,738.6 L1225.2,736.8 L1225.5,735.1 L1225.9,733.3 L1226.3,731.5 L1226.6,729.7 L1227.0,728.0 L1227.3,726.2 L1227.7,724.4 L1228.1,722.6 L1228.4,720.9 L1228.8,719.1 L1229.1,717.3 L1229.5,715.6 L1229.8,713.8 L1230.2,712.0 L1230.5,710.2 L1230.9,708.5 L1231.2,706.7 L1231.6,704.9 L1231.9,703.2 L1232.3,701.4 L1232.6,699.6 L1233.0,697.9 L1233.3,696.1 L1233.7,694.4 L1234.0,692.6 L1234.4,690.8 L1234.7,689.1 L1235.1,687.3 L1235.4,685.6 L1235.8,683.8 L1236.1,682.1 L1236.5,680.3 L1236.8,678.6 L1237.2,676.8 L1237.6,675.1 L1237.9,673.3 L1238.3,671.6 L1238.6,669.8 L1239.0,668.1 L1239.3,666.3 L1239.7,664.6 L1240.1,662.9 L1240.4,661.1 L1240.8,659.4 L1241.1,657.7 L1241.5,655.9 L1241.9,654.2 L1242.3,652.5 L1242.6,650.7 L1243.0,649.0 L1243.4,647.3 L1243.7,645.6 L1244.1,643.9 L1244.5,642.1 L1244.9,640.4 L1245.3,638.7 L1245.6,637.0 L1246.0,635.3 L1246.4,633.6 L1246.8,631.9 L1247.2,630.2 L1246.4,627.6 L1246.6,1060.7 L1245.0,1061.0 L1243.0,1061.4 L1241.0,1061.8 L1239.0,1062.2 L1237.0,1062.6 L1235.0,1062.9 L1233.0,1063.3 L1231.0,1063.6 L1229.0,1064.0 L1227.0,1064.3 L1225.0,1064.7 L1223.0,1065.0 L1221.0,1065.3 L1219.0,1065.6 L1217.0,1066.0 L1215.0,1066.3 L1213.0,1066.6 L1211.0,1066.9 L1209.0,1067.2 L1207.0,1067.5 L1205.0,1067.7 L1203.0,1068.0 L1201.0,1068.3 L1199.0,1068.6 L1197.0,1068.8 L1195.0,1069.1 L1193.0,1069.4 L1191.0,1069.6 L1189.0,1069.9 L1187.0,1070.1 L1185.0,1070.4 L1183.0,1070.6 L1181.0,1070.8 L1179.0,1071.1 L1177.0,1071.3 L1175.0,1071.5 L1173.0,1071.7 L1171.0,1072.0 L1169.0,1072.2 L1167.0,1072.4 L1165.0,1072.6 L1163.0,1072.8 L1161.0,1073.0 L1159.0,1073.2 L1157.0,1073.4 L1155.0,1073.6 L1153.0,1073.8 L1151.0,1074.0 L1149.0,1074.2 L1147.0,1074.4 L1145.0,1074.5 L1143.0,1074.7 L1141.0,1074.9 L1139.0,1075.1 L1137.0,1075.2 L1135.0,1075.4 L1133.0,1075.6 L1131.0,1075.7 L1129.0,1075.9 L1127.0,1076.1 L1125.0,1076.2 L1123.0,1076.4 L1121.0,1076.6 L1119.0,1076.7 L1117.0,1076.9 L1115.0,1077.0 L1113.0,1077.2 L1111.0,1077.3 L1109.0,1077.4 L1107.0,1077.6 L1105.0,1077.7 L1103.0,1077.9 L1101.0,1078.0 L1099.0,1078.2 L1097.0,1078.3 L1095.0,1078.4 L1093.0,1078.6 L1091.0,1078.7 L1089.0,1078.8 L1087.0,1078.9 L1085.0,1079.1 L1083.0,1079.2 L1081.0,1079.3 L1079.0,1079.4 L1077.0,1079.6 L1075.0,1079.7 L1073.0,1079.8 L1071.0,1079.9 L1069.0,1080.0 L1067.0,1080.1 L1065.0,1080.3 L1063.0,1080.4 L1061.0,1080.5 L1059.0,1080.6 L1057.0,1080.7 L1055.0,1080.8 L1053.0,1080.9 L1051.0,1081.0 L1049.0,1081.1 L1047.0,1081.2 L1045.0,1081.3 L1043.0,1081.4 L1041.0,1081.5 L1039.0,1081.6 L1037.0,1081.7 L1035.0,1081.8 L1033.0,1081.9 L1031.0,1082.0 L1029.0,1082.1 L1027.0,1082.2 L1025.0,1082.3 L1023.0,1082.4 L1021.0,1082.5 L1019.0,1082.6 L1017.0,1082.7 L1015.0,1082.7 L1013.0,1082.8 L1011.0,1082.9 L1009.0,1083.0 L1007.0,1083.1 L1005.0,1083.2 L1003.0,1083.3 L1001.0,1083.3 L999.0,1083.4 L997.0,1083.5 L995.0,1083.6 L993.0,1083.7 L991.0,1083.7 L989.0,1083.8 L987.0,1083.9 L985.0,1084.0 L983.0,1084.0 L981.0,1084.1 L979.0,1084.2 L977.0,1084.3 L975.0,1084.3 L973.0,1084.4 L971.0,1084.5 L969.0,1084.6 L967.0,1084.6 L965.0,1084.7 L963.0,1084.8 L961.0,1084.8 L959.0,1084.9 L957.0,1085.0 L955.0,1085.0 L953.0,1085.1 L951.0,1085.2 L949.0,1085.2 L947.0,1085.3 L945.0,1085.3 L943.0,1085.4 L941.0,1085.5 L939.0,1085.5 L937.0,1085.6 L935.0,1085.7 L933.0,1085.7 L931.0,1085.8 L929.0,1085.8 L927.0,1085.9 L925.0,1085.9 L923.0,1086.0 L921.0,1086.1 L919.0,1086.1 L917.0,1086.2 L915.0,1086.2 L913.0,1086.3 L911.0,1086.3 L909.0,1086.4 L907.0,1086.4 L905.0,1086.5 L903.0,1086.5 L901.0,1086.6 L899.0,1086.6 L897.0,1086.7 L895.0,1086.7 L893.0,1086.8 L891.0,1086.8 L889.0,1086.9 L887.0,1086.9 L885.0,1086.9 L883.0,1087.0 L881.0,1087.0 L879.0,1087.1 L877.0,1087.1 L875.0,1087.2 L873.0,1087.2 L871.0,1087.2 L869.0,1087.3 L867.0,1087.3 L865.0,1087.4 L863.0,1087.4 L861.0,1087.4 L859.0,1087.5 L857.0,1087.5 L855.0,1087.6 L853.0,1087.6 L851.0,1087.6 L849.0,1087.7 L847.0,1087.7 L845.0,1087.7 L843.0,1087.8 L841.0,1087.8 L839.0,1087.8 L837.0,1087.9 L835.0,1087.9 L833.0,1087.9 L831.0,1088.0 L829.0,1088.0 L827.0,1088.0 L825.0,1088.1 L823.0,1088.1 L821.0,1088.1 L819.0,1088.2 L817.0,1088.2 L815.0,1088.2 L813.0,1088.2 L811.0,1088.3 L809.0,1088.3 Z" fill="#dcecfa"/>
<g fill="#26445a" clip-path="url(#clipe)"><circle cx="1035.9" cy="671.2" r="4.0"/><circle cx="989.6" cy="717.7" r="4.0"/><circle cx="1025.6" cy="717.7" r="4.0"/><circle cx="1001.2" cy="740.9" r="4.0"/><circle cx="1009.6" cy="764.1" r="4.0"/><circle cx="1022.0" cy="775.8" r="4.0"/><circle cx="1139.1" cy="775.8" r="4.0"/><circle cx="1007.5" cy="799.0" r="4.0"/><circle cx="973.2" cy="822.2" r="4.0"/><circle cx="1002.9" cy="822.2" r="4.0"/><circle cx="1047.3" cy="822.2" r="4.0"/><circle cx="1216.8" cy="822.2" r="4.0"/><circle cx="1128.6" cy="833.9" r="4.0"/><circle cx="1082.9" cy="845.5" r="4.0"/><circle cx="976.5" cy="857.1" r="4.0"/><circle cx="1045.6" cy="857.1" r="4.0"/><circle cx="1084.4" cy="857.1" r="4.0"/><circle cx="1194.4" cy="868.7" r="4.0"/><circle cx="1210.2" cy="868.7" r="4.0"/><circle cx="1017.4" cy="880.3" r="4.0"/><circle cx="1026.9" cy="892.0" r="4.0"/><circle cx="983.3" cy="903.6" r="4.0"/><circle cx="1003.7" cy="903.6" r="4.0"/><circle cx="1077.9" cy="903.6" r="4.0"/><circle cx="1030.8" cy="915.2" r="4.0"/><circle cx="993.0" cy="926.8" r="4.0"/><circle cx="1030.8" cy="926.8" r="4.0"/><circle cx="1047.0" cy="926.8" r="4.0"/><circle cx="1070.5" cy="926.8" r="4.0"/><circle cx="999.2" cy="938.4" r="4.0"/><circle cx="1008.0" cy="938.4" r="4.0"/><circle cx="1217.5" cy="938.4" r="4.0"/><circle cx="952.4" cy="950.1" r="4.0"/><circle cx="1000.2" cy="950.1" r="4.0"/><circle cx="1012.6" cy="950.1" r="4.0"/><circle cx="964.0" cy="961.7" r="4.0"/><circle cx="989.4" cy="961.7" r="4.0"/><circle cx="998.2" cy="961.7" r="4.0"/><circle cx="1002.8" cy="961.7" r="4.0"/><circle cx="1246.6" cy="961.7" r="4.0"/><circle cx="983.3" cy="973.3" r="4.0"/><circle cx="989.1" cy="973.3" r="4.0"/><circle cx="1007.1" cy="973.3" r="4.0"/><circle cx="978.5" cy="984.9" r="4.0"/><circle cx="995.0" cy="984.9" r="4.0"/><circle cx="1021.7" cy="984.9" r="4.0"/><circle cx="1028.2" cy="984.9" r="4.0"/><circle cx="987.4" cy="996.5" r="4.0"/><circle cx="996.9" cy="996.5" r="4.0"/><circle cx="1003.4" cy="996.5" r="4.0"/><circle cx="1015.8" cy="996.5" r="4.0"/><circle cx="1041.6" cy="996.5" r="4.0"/><circle cx="1073.1" cy="996.5" r="4.0"/><circle cx="933.6" cy="1008.2" r="4.0"/><circle cx="961.4" cy="1008.2" r="4.0"/><circle cx="983.3" cy="1008.2" r="4.0"/><circle cx="999.5" cy="1008.2" r="4.0"/><circle cx="1015.8" cy="1008.2" r="4.0"/><circle cx="1024.3" cy="1008.2" r="4.0"/><circle cx="1032.7" cy="1008.2" r="4.0"/><circle cx="1056.8" cy="1008.2" r="4.0"/><circle cx="1119.3" cy="1008.2" r="4.0"/><circle cx="987.5" cy="1019.8" r="4.0"/><circle cx="991.8" cy="1019.8" r="4.0"/><circle cx="996.1" cy="1019.8" r="4.0"/><circle cx="1000.5" cy="1019.8" r="4.0"/><circle cx="1004.8" cy="1019.8" r="4.0"/><circle cx="1009.1" cy="1019.8" r="4.0"/><circle cx="1013.4" cy="1019.8" r="4.0"/><circle cx="1017.7" cy="1019.8" r="4.0"/><circle cx="1022.0" cy="1019.8" r="4.0"/><circle cx="1026.4" cy="1019.8" r="4.0"/><circle cx="1030.7" cy="1019.8" r="4.0"/><circle cx="1035.0" cy="1019.8" r="4.0"/><circle cx="1043.1" cy="1019.8" r="4.0"/><circle cx="1109.9" cy="1019.8" r="4.0"/><circle cx="955.3" cy="1031.4" r="4.0"/><circle cx="963.7" cy="1031.4" r="4.0"/><circle cx="979.6" cy="1031.4" r="4.0"/><circle cx="986.6" cy="1031.4" r="4.0"/><circle cx="991.3" cy="1031.4" r="4.0"/><circle cx="996.1" cy="1031.4" r="4.0"/><circle cx="1000.8" cy="1031.4" r="4.0"/><circle cx="1007.4" cy="1031.4" r="4.0"/><circle cx="1017.6" cy="1031.4" r="4.0"/><circle cx="1029.1" cy="1031.4" r="4.0"/><circle cx="1045.3" cy="1031.4" r="4.0"/><circle cx="1050.6" cy="1031.4" r="4.0"/><circle cx="1055.9" cy="1031.4" r="4.0"/><circle cx="1082.5" cy="1031.4" r="4.0"/><circle cx="964.1" cy="1043.0" r="4.0"/><circle cx="972.5" cy="1043.0" r="4.0"/><circle cx="977.2" cy="1043.0" r="4.0"/><circle cx="981.8" cy="1043.0" r="4.0"/><circle cx="986.5" cy="1043.0" r="4.0"/><circle cx="991.2" cy="1043.0" r="4.0"/><circle cx="995.9" cy="1043.0" r="4.0"/><circle cx="1000.5" cy="1043.0" r="4.0"/><circle cx="1005.2" cy="1043.0" r="4.0"/><circle cx="1013.2" cy="1043.0" r="4.0"/><circle cx="1018.5" cy="1043.0" r="4.0"/><circle cx="1037.4" cy="1043.0" r="4.0"/><circle cx="1042.7" cy="1043.0" r="4.0"/><circle cx="1048.0" cy="1043.0" r="4.0"/><circle cx="1078.9" cy="1043.0" r="4.0"/><circle cx="1084.2" cy="1043.0" r="4.0"/><circle cx="1109.9" cy="1043.0" r="4.0"/><circle cx="1119.2" cy="1043.0" r="4.0"/><circle cx="1210.6" cy="1043.0" r="4.0"/><circle cx="952.2" cy="1054.6" r="4.0"/><circle cx="964.1" cy="1054.6" r="4.0"/><circle cx="972.5" cy="1054.6" r="4.0"/><circle cx="977.1" cy="1054.6" r="4.0"/><circle cx="981.7" cy="1054.6" r="4.0"/><circle cx="986.3" cy="1054.6" r="4.0"/><circle cx="990.9" cy="1054.6" r="4.0"/><circle cx="995.6" cy="1054.6" r="4.0"/><circle cx="1000.2" cy="1054.6" r="4.0"/><circle cx="1004.8" cy="1054.6" r="4.0"/><circle cx="1009.4" cy="1054.6" r="4.0"/><circle cx="1014.0" cy="1054.6" r="4.0"/><circle cx="1020.2" cy="1054.6" r="4.0"/><circle cx="1024.7" cy="1054.6" r="4.0"/><circle cx="1029.2" cy="1054.6" r="4.0"/><circle cx="1033.8" cy="1054.6" r="4.0"/><circle cx="1038.3" cy="1054.6" r="4.0"/><circle cx="1046.7" cy="1054.6" r="4.0"/><circle cx="1057.3" cy="1054.6" r="4.0"/><circle cx="1070.1" cy="1054.6" r="4.0"/><circle cx="1109.4" cy="1054.6" r="4.0"/><circle cx="1128.9" cy="1054.6" r="4.0"/><circle cx="1233.6" cy="1054.6" r="4.0"/><circle cx="1273.8" cy="1054.6" r="4.0"/><circle cx="933.6" cy="1066.3" r="4.0"/><circle cx="953.0" cy="1066.3" r="4.0"/><circle cx="957.5" cy="1066.3" r="4.0"/><circle cx="963.7" cy="1066.3" r="4.0"/><circle cx="975.2" cy="1066.3" r="4.0"/><circle cx="983.1" cy="1066.3" r="4.0"/><circle cx="990.2" cy="1066.3" r="4.0"/><circle cx="994.8" cy="1066.3" r="4.0"/><circle cx="999.3" cy="1066.3" r="4.0"/><circle cx="1003.9" cy="1066.3" r="4.0"/><circle cx="1008.5" cy="1066.3" r="4.0"/><circle cx="1013.0" cy="1066.3" r="4.0"/><circle cx="1017.6" cy="1066.3" r="4.0"/><circle cx="1023.8" cy="1066.3" r="4.0"/><circle cx="1028.8" cy="1066.3" r="4.0"/><circle cx="1033.8" cy="1066.3" r="4.0"/><circle cx="1040.9" cy="1066.3" r="4.0"/><circle cx="1058.6" cy="1066.3" r="4.0"/><circle cx="1070.1" cy="1066.3" r="4.0"/><circle cx="1109.9" cy="1066.3" r="4.0"/><circle cx="1112.5" cy="1066.3" r="4.0"/><circle cx="1181.8" cy="1066.3" r="4.0"/><circle cx="1194.7" cy="1066.3" r="4.0"/><circle cx="1255.2" cy="1066.3" r="4.0"/><circle cx="1261.4" cy="1066.3" r="4.0"/><circle cx="933.6" cy="1077.9" r="4.0"/><circle cx="953.0" cy="1077.9" r="4.0"/><circle cx="957.7" cy="1077.9" r="4.0"/><circle cx="962.5" cy="1077.9" r="4.0"/><circle cx="967.2" cy="1077.9" r="4.0"/><circle cx="970.0" cy="1077.9" r="4.0"/><circle cx="974.3" cy="1077.9" r="4.0"/><circle cx="978.7" cy="1077.9" r="4.0"/><circle cx="983.0" cy="1077.9" r="4.0"/><circle cx="987.3" cy="1077.9" r="4.0"/><circle cx="991.6" cy="1077.9" r="4.0"/><circle cx="996.0" cy="1077.9" r="4.0"/><circle cx="1000.3" cy="1077.9" r="4.0"/><circle cx="1004.6" cy="1077.9" r="4.0"/><circle cx="1009.0" cy="1077.9" r="4.0"/><circle cx="1013.3" cy="1077.9" r="4.0"/><circle cx="1017.6" cy="1077.9" r="4.0"/><circle cx="1022.0" cy="1077.9" r="4.0"/><circle cx="1026.3" cy="1077.9" r="4.0"/><circle cx="1030.6" cy="1077.9" r="4.0"/><circle cx="1034.9" cy="1077.9" r="4.0"/><circle cx="1039.3" cy="1077.9" r="4.0"/><circle cx="1043.6" cy="1077.9" r="4.0"/><circle cx="1057.7" cy="1077.9" r="4.0"/><circle cx="1069.2" cy="1077.9" r="4.0"/><circle cx="1073.6" cy="1077.9" r="4.0"/><circle cx="1078.1" cy="1077.9" r="4.0"/><circle cx="1082.5" cy="1077.9" r="4.0"/><circle cx="1110.8" cy="1077.9" r="4.0"/><circle cx="1128.9" cy="1077.9" r="4.0"/><circle cx="1139.1" cy="1077.9" r="4.0"/><circle cx="1173.4" cy="1077.9" r="4.0"/><circle cx="1194.7" cy="1077.9" r="4.0"/><circle cx="1216.8" cy="1077.9" r="4.0"/><circle cx="1233.6" cy="1077.9" r="4.0"/><circle cx="1255.2" cy="1077.9" r="4.0"/><circle cx="1261.4" cy="1077.9" r="4.0"/><circle cx="1271.1" cy="1077.9" r="4.0"/><circle cx="1274.7" cy="1077.9" r="4.0"/><circle cx="809.0" cy="1089.5" r="4.0"/><circle cx="923.9" cy="1089.5" r="4.0"/><circle cx="933.6" cy="1089.5" r="4.0"/><circle cx="954.8" cy="1089.5" r="4.0"/><circle cx="960.1" cy="1089.5" r="4.0"/><circle cx="965.4" cy="1089.5" r="4.0"/><circle cx="970.7" cy="1089.5" r="4.0"/><circle cx="975.1" cy="1089.5" r="4.0"/><circle cx="979.5" cy="1089.5" r="4.0"/><circle cx="983.9" cy="1089.5" r="4.0"/><circle cx="988.3" cy="1089.5" r="4.0"/><circle cx="992.7" cy="1089.5" r="4.0"/><circle cx="997.1" cy="1089.5" r="4.0"/><circle cx="1001.5" cy="1089.5" r="4.0"/><circle cx="1005.9" cy="1089.5" r="4.0"/><circle cx="1010.3" cy="1089.5" r="4.0"/><circle cx="1014.6" cy="1089.5" r="4.0"/><circle cx="1019.0" cy="1089.5" r="4.0"/><circle cx="1023.4" cy="1089.5" r="4.0"/><circle cx="1027.8" cy="1089.5" r="4.0"/><circle cx="1032.2" cy="1089.5" r="4.0"/><circle cx="1036.6" cy="1089.5" r="4.0"/><circle cx="1041.0" cy="1089.5" r="4.0"/><circle cx="1045.4" cy="1089.5" r="4.0"/><circle cx="1049.8" cy="1089.5" r="4.0"/><circle cx="1054.2" cy="1089.5" r="4.0"/><circle cx="1058.6" cy="1089.5" r="4.0"/><circle cx="1071.0" cy="1089.5" r="4.0"/><circle cx="1076.0" cy="1089.5" r="4.0"/><circle cx="1081.0" cy="1089.5" r="4.0"/><circle cx="1086.0" cy="1089.5" r="4.0"/><circle cx="1112.5" cy="1089.5" r="4.0"/><circle cx="1119.2" cy="1089.5" r="4.0"/><circle cx="1139.1" cy="1089.5" r="4.0"/><circle cx="1157.2" cy="1089.5" r="4.0"/><circle cx="1173.4" cy="1089.5" r="4.0"/><circle cx="1181.8" cy="1089.5" r="4.0"/><circle cx="1194.7" cy="1089.5" r="4.0"/><circle cx="1210.1" cy="1089.5" r="4.0"/><circle cx="1217.2" cy="1089.5" r="4.0"/><circle cx="1233.6" cy="1089.5" r="4.0"/><circle cx="1246.8" cy="1089.5" r="4.0"/><circle cx="1255.2" cy="1089.5" r="4.0"/><circle cx="1261.4" cy="1089.5" r="4.0"/><circle cx="1270.2" cy="1089.5" r="4.0"/><circle cx="1274.7" cy="1089.5" r="4.0"/></g>
<path d="M809.0,1087.4 L811.0,1087.4 L813.0,1087.3 L815.0,1087.3 L817.0,1087.3 L819.0,1087.2 L821.0,1087.2 L823.0,1087.1 L825.0,1087.1 L827.0,1087.0 L829.0,1087.0 L831.0,1087.0 L833.0,1086.9 L835.0,1086.9 L837.0,1086.8 L839.0,1086.8 L841.0,1086.7 L843.0,1086.7 L845.0,1086.6 L847.0,1086.6 L849.0,1086.5 L851.0,1086.5 L853.0,1086.4 L855.0,1086.4 L857.0,1086.3 L859.0,1086.2 L861.0,1086.2 L863.0,1086.1 L865.0,1086.1 L867.0,1086.0 L869.0,1085.9 L871.0,1085.9 L873.0,1085.8 L875.0,1085.7 L877.0,1085.7 L879.0,1085.6 L881.0,1085.5 L883.0,1085.5 L885.0,1085.4 L887.0,1085.3 L889.0,1085.2 L891.0,1085.2 L893.0,1085.1 L895.0,1085.0 L897.0,1084.9 L899.0,1084.8 L901.0,1084.7 L903.0,1084.6 L905.0,1084.6 L907.0,1084.5 L909.0,1084.4 L911.0,1084.3 L913.0,1084.2 L915.0,1084.1 L917.0,1084.0 L919.0,1083.9 L921.0,1083.8 L923.0,1083.7 L925.0,1083.6 L927.0,1083.5 L929.0,1083.3 L931.0,1083.2 L933.0,1083.1 L935.0,1083.0 L937.0,1082.9 L939.0,1082.7 L941.0,1082.6 L943.0,1082.5 L945.0,1082.4 L947.0,1082.2 L949.0,1082.1 L951.0,1081.9 L953.0,1081.8 L955.0,1081.7 L957.0,1081.5 L959.0,1081.4 L961.0,1081.2 L963.0,1081.1 L965.0,1080.9 L967.0,1080.7 L969.0,1080.6 L971.0,1080.4 L973.0,1080.2 L975.0,1080.1 L977.0,1079.9 L979.0,1079.7 L981.0,1079.5 L983.0,1079.3 L985.0,1079.1 L987.0,1078.9 L989.0,1078.7 L991.0,1078.5 L993.0,1078.3 L995.0,1078.1 L997.0,1077.9 L999.0,1077.7 L1001.0,1077.5 L1003.0,1077.2 L1005.0,1077.0 L1007.0,1076.8 L1009.0,1076.5 L1011.0,1076.3 L1013.0,1076.0 L1015.0,1075.8 L1017.0,1075.5 L1019.0,1075.2 L1021.0,1075.0 L1023.0,1074.7 L1025.0,1074.4 L1027.0,1074.1 L1029.0,1073.8 L1031.0,1073.6 L1033.0,1073.3 L1035.0,1072.9 L1037.0,1072.6 L1039.0,1072.3 L1041.0,1072.0 L1043.0,1071.7 L1045.0,1071.3 L1047.0,1071.0 L1049.0,1070.6 L1051.0,1070.3 L1053.0,1069.9 L1055.0,1069.5 L1057.0,1069.2 L1059.0,1068.8 L1061.0,1068.4 L1063.0,1068.0 L1065.0,1067.6 L1067.0,1067.2 L1069.0,1066.7 L1071.0,1066.3 L1073.0,1065.9 L1075.0,1065.4 L1077.0,1065.0 L1079.0,1064.5 L1081.0,1064.0 L1083.0,1063.5 L1085.0,1063.1 L1087.0,1062.6 L1089.0,1062.0 L1091.0,1061.5 L1093.0,1061.0 L1095.0,1060.5 L1097.0,1059.9 L1099.0,1059.4 L1101.0,1058.8 L1103.0,1058.2 L1105.0,1057.6 L1107.0,1057.0 L1109.0,1056.4 L1111.0,1055.8 L1113.0,1055.2 L1115.0,1054.5 L1117.0,1053.9 L1119.0,1053.2 L1121.0,1052.5 L1123.0,1051.8 L1125.0,1051.1 L1127.0,1050.4 L1129.0,1049.7 L1131.0,1048.9 L1133.0,1048.2 L1135.0,1047.4 L1137.0,1046.6 L1139.0,1045.8 L1141.0,1045.0 L1143.0,1044.2 L1145.0,1043.3 L1147.0,1042.5 L1149.0,1041.6 L1151.0,1040.7 L1153.0,1039.8 L1155.0,1038.9 L1157.0,1037.9 L1159.0,1037.0 L1161.0,1036.0 L1163.0,1035.0 L1165.0,1034.0 L1167.0,1033.0 L1169.0,1032.0 L1171.0,1030.9 L1173.0,1029.8 L1175.0,1028.7 L1177.0,1027.6 L1179.0,1026.5 L1181.0,1025.3 L1183.0,1024.1 L1185.0,1022.9 L1187.0,1021.7 L1189.0,1020.5 L1191.0,1019.2 L1193.0,1017.9 L1195.0,1016.6 L1197.0,1015.3 L1199.0,1013.9 L1201.0,1012.6 L1203.0,1011.2 L1205.0,1009.7 L1207.0,1008.3 L1209.0,1006.8 L1211.0,1005.3 L1213.0,1003.8 L1215.0,1002.3 L1217.0,1000.7 L1219.0,999.1 L1221.0,997.5 L1223.0,995.8 L1225.0,994.1 L1227.0,992.4 L1229.0,990.7 L1231.0,988.9 L1233.0,987.1 L1235.0,985.3 L1237.0,983.4 L1239.0,981.5 L1241.0,979.6 L1243.0,977.7 L1245.0,975.7 L1247.0,973.7 L1249.0,971.6 L1251.0,969.5 L1253.0,967.4 L1255.0,965.2 L1257.0,963.1 L1259.0,960.8 L1261.0,958.6 L1263.0,956.3 L1265.0,954.0 L1267.0,951.6 L1269.0,949.2 L1271.0,946.7 L1272.9,944.4" fill="none" stroke="#1f3fd3" stroke-width="3" stroke-linecap="round" stroke-linejoin="round"/>
<defs><clipPath id="clipf"><path d="M1495.0,1079.9 L1496.8,1079.2 L1498.5,1079.2 L1500.2,1079.2 L1501.9,1079.2 L1503.7,1079.2 L1505.4,1079.2 L1507.1,1079.2 L1508.8,1079.1 L1510.5,1079.1 L1512.2,1079.1 L1514.0,1079.1 L1515.7,1079.0 L1517.4,1079.0 L1519.2,1079.0 L1520.9,1078.9 L1522.7,1078.9 L1524.4,1078.9 L1526.2,1078.8 L1527.9,1078.8 L1529.7,1078.7 L1531.4,1078.7 L1533.2,1078.6 L1535.0,1078.5 L1536.7,1078.5 L1538.5,1078.4 L1540.3,1078.4 L1542.1,1078.3 L1543.8,1078.2 L1545.6,1078.1 L1547.4,1078.1 L1549.2,1078.0 L1551.0,1077.9 L1552.8,1077.8 L1554.6,1077.7 L1556.4,1077.6 L1558.2,1077.5 L1560.0,1077.4 L1561.8,1077.3 L1563.6,1077.2 L1565.4,1077.1 L1567.2,1076.9 L1569.0,1076.8 L1570.8,1076.7 L1572.6,1076.6 L1574.4,1076.4 L1576.2,1076.3 L1578.0,1076.2 L1579.8,1076.0 L1581.6,1075.9 L1583.5,1075.7 L1585.3,1075.5 L1587.1,1075.4 L1588.9,1075.2 L1590.7,1075.0 L1592.6,1074.9 L1594.4,1074.7 L1596.2,1074.5 L1598.0,1074.3 L1599.8,1074.1 L1601.7,1073.9 L1603.5,1073.7 L1605.3,1073.5 L1607.1,1073.3 L1608.9,1073.1 L1610.8,1072.8 L1612.6,1072.6 L1614.4,1072.4 L1616.2,1072.1 L1618.0,1071.9 L1619.9,1071.7 L1621.7,1071.4 L1623.5,1071.1 L1625.3,1070.9 L1627.1,1070.6 L1629.0,1070.3 L1630.8,1070.0 L1632.6,1069.8 L1634.4,1069.5 L1636.2,1069.2 L1638.0,1068.9 L1639.8,1068.6 L1641.7,1068.2 L1643.5,1067.9 L1645.3,1067.6 L1647.1,1067.3 L1648.9,1066.9 L1650.7,1066.6 L1652.5,1066.2 L1654.3,1065.9 L1656.1,1065.5 L1657.9,1065.1 L1659.7,1064.8 L1661.5,1064.4 L1663.3,1064.0 L1665.1,1063.6 L1666.8,1063.2 L1668.6,1062.8 L1670.4,1062.4 L1672.2,1061.9 L1674.0,1061.5 L1675.8,1061.1 L1677.5,1060.6 L1679.3,1060.2 L1681.1,1059.7 L1682.8,1059.3 L1684.6,1058.8 L1686.4,1058.3 L1688.1,1057.8 L1689.9,1057.3 L1691.6,1056.8 L1693.4,1056.3 L1695.1,1055.8 L1696.9,1055.3 L1698.6,1054.8 L1700.3,1054.2 L1702.1,1053.7 L1703.8,1053.1 L1705.5,1052.6 L1707.2,1052.0 L1709.0,1051.4 L1710.7,1050.9 L1712.4,1050.3 L1714.1,1049.7 L1715.8,1049.1 L1717.5,1048.5 L1719.2,1047.8 L1720.9,1047.2 L1722.6,1046.6 L1724.2,1045.9 L1725.9,1045.3 L1727.6,1044.6 L1729.3,1044.0 L1730.9,1043.3 L1732.6,1042.6 L1734.2,1041.9 L1735.9,1041.2 L1737.5,1040.5 L1739.2,1039.8 L1740.8,1039.0 L1742.4,1038.3 L1744.1,1037.5 L1745.7,1036.8 L1747.3,1036.0 L1748.9,1035.3 L1750.5,1034.5 L1752.1,1033.7 L1753.7,1032.9 L1755.3,1032.1 L1756.9,1031.2 L1758.5,1030.4 L1760.0,1029.6 L1761.6,1028.7 L1763.1,1027.9 L1764.7,1027.0 L1766.2,1026.1 L1767.8,1025.3 L1769.3,1024.4 L1770.9,1023.5 L1772.4,1022.6 L1773.9,1021.6 L1775.4,1020.7 L1776.9,1019.8 L1778.4,1018.8 L1779.9,1017.8 L1781.4,1016.9 L1782.9,1015.9 L1784.3,1014.9 L1785.8,1013.9 L1787.3,1012.9 L1788.7,1011.9 L1790.1,1010.9 L1791.6,1009.8 L1793.0,1008.8 L1794.4,1007.7 L1795.9,1006.6 L1797.3,1005.6 L1798.7,1004.5 L1800.1,1003.4 L1801.5,1002.3 L1802.8,1001.2 L1804.2,1000.1 L1805.6,999.0 L1806.9,997.8 L1808.3,996.7 L1809.6,995.5 L1811.0,994.4 L1812.3,993.2 L1813.6,992.0 L1814.9,990.8 L1816.2,989.6 L1817.5,988.4 L1818.8,987.2 L1820.1,986.0 L1821.4,984.8 L1822.7,983.5 L1823.9,982.3 L1825.2,981.1 L1826.4,979.8 L1827.6,978.5 L1828.9,977.3 L1830.1,976.0 L1831.3,974.7 L1832.5,973.4 L1833.7,972.1 L1834.9,970.8 L1836.1,969.4 L1837.2,968.1 L1838.4,966.8 L1839.6,965.4 L1840.7,964.1 L1841.8,962.7 L1843.0,961.4 L1844.1,960.0 L1845.2,958.6 L1846.3,957.2 L1847.4,955.8 L1848.5,954.4 L1849.6,953.0 L1850.6,951.6 L1851.7,950.2 L1852.7,948.8 L1853.8,947.3 L1854.8,945.9 L1855.8,944.5 L1856.9,943.0 L1857.9,941.5 L1858.9,940.1 L1859.9,938.6 L1860.9,937.1 L1861.8,935.6 L1862.8,934.2 L1863.8,932.7 L1864.7,931.2 L1865.7,929.7 L1866.6,928.1 L1867.6,926.6 L1868.5,925.1 L1869.4,923.6 L1870.3,922.0 L1871.2,920.5 L1872.1,919.0 L1873.0,917.4 L1873.9,915.8 L1874.8,914.3 L1875.7,912.7 L1876.5,911.2 L1877.4,909.6 L1878.2,908.0 L1879.1,906.4 L1879.9,904.8 L1880.7,903.2 L1881.6,901.6 L1882.4,900.0 L1883.2,898.4 L1884.0,896.8 L1884.8,895.2 L1885.6,893.6 L1886.4,891.9 L1887.1,890.3 L1887.9,888.7 L1888.7,887.1 L1889.4,885.4 L1890.2,883.8 L1890.9,882.1 L1891.7,880.5 L1892.4,878.8 L1893.2,877.2 L1893.9,875.5 L1894.6,873.8 L1895.3,872.2 L1896.0,870.5 L1896.7,868.8 L1897.4,867.1 L1898.1,865.5 L1898.8,863.8 L1899.5,862.1 L1900.2,860.4 L1900.8,858.7 L1901.5,857.0 L1902.2,855.3 L1902.8,853.6 L1903.5,851.9 L1904.1,850.2 L1904.8,848.5 L1905.4,846.8 L1906.0,845.1 L1906.7,843.4 L1907.3,841.6 L1907.9,839.9 L1908.5,838.2 L1909.1,836.5 L1909.7,834.8 L1910.3,833.0 L1910.9,831.3 L1911.5,829.6 L1912.1,827.9 L1912.7,826.1 L1913.3,824.4 L1913.8,822.7 L1914.4,820.9 L1915.0,819.2 L1915.5,817.4 L1916.1,815.7 L1916.6,814.0 L1917.2,812.2 L1917.7,810.5 L1918.3,808.7 L1918.8,807.0 L1919.4,805.3 L1919.9,803.5 L1920.4,801.8 L1921.0,800.0 L1921.5,798.3 L1922.0,796.5 L1922.5,794.8 L1923.0,793.0 L1923.5,791.3 L1924.0,789.6 L1924.6,787.8 L1925.1,786.1 L1925.6,784.3 L1926.1,782.6 L1926.5,780.8 L1927.0,779.1 L1927.5,777.3 L1928.0,775.6 L1928.5,773.8 L1929.0,772.1 L1929.4,770.3 L1929.9,768.6 L1930.4,766.9 L1930.9,765.1 L1931.3,763.4 L1931.8,761.6 L1932.3,759.9 L1932.7,758.1 L1933.2,756.4 L1933.6,754.6 L1934.1,752.9 L1934.5,751.2 L1935.0,749.4 L1935.4,747.7 L1935.9,745.9 L1936.3,744.2 L1936.8,742.4 L1937.2,740.7 L1937.6,739.0 L1938.1,737.2 L1938.5,735.5 L1938.9,733.7 L1939.4,732.0 L1939.8,730.3 L1940.2,728.5 L1940.7,726.8 L1941.1,725.0 L1941.5,723.3 L1941.9,721.6 L1942.3,719.8 L1942.8,718.1 L1943.2,716.4 L1943.6,714.6 L1944.0,712.9 L1944.4,711.2 L1944.8,709.4 L1945.2,707.7 L1945.7,706.0 L1946.1,704.2 L1946.5,702.5 L1946.9,700.8 L1947.3,699.0 L1947.7,697.3 L1948.1,695.6 L1948.5,693.9 L1948.9,692.1 L1949.3,690.4 L1949.7,688.7 L1950.1,687.0 L1950.5,685.2 L1950.9,683.5 L1951.3,681.8 L1951.7,680.1 L1952.1,678.4 L1952.5,676.7 L1952.9,674.9 L1953.3,673.2 L1953.7,671.5 L1954.1,669.8 L1954.5,668.1 L1954.9,666.4 L1955.3,664.7 L1955.7,663.0 L1956.1,661.2 L1956.5,659.5 L1956.9,657.8 L1957.3,656.1 L1957.7,654.4 L1958.1,652.7 L1958.5,651.0 L1958.6,648.6 L1959.4,1059.5 L1959.0,1059.6 L1957.0,1060.1 L1955.0,1060.5 L1953.0,1061.0 L1951.0,1061.4 L1949.0,1061.8 L1947.0,1062.2 L1945.0,1062.6 L1943.0,1063.0 L1941.0,1063.4 L1939.0,1063.8 L1937.0,1064.1 L1935.0,1064.5 L1933.0,1064.8 L1931.0,1065.2 L1929.0,1065.5 L1927.0,1065.8 L1925.0,1066.1 L1923.0,1066.4 L1921.0,1066.8 L1919.0,1067.0 L1917.0,1067.3 L1915.0,1067.6 L1913.0,1067.9 L1911.0,1068.2 L1909.0,1068.4 L1907.0,1068.7 L1905.0,1068.9 L1903.0,1069.2 L1901.0,1069.4 L1899.0,1069.7 L1897.0,1069.9 L1895.0,1070.1 L1893.0,1070.4 L1891.0,1070.6 L1889.0,1070.8 L1887.0,1071.0 L1885.0,1071.2 L1883.0,1071.4 L1881.0,1071.6 L1879.0,1071.8 L1877.0,1072.0 L1875.0,1072.2 L1873.0,1072.4 L1871.0,1072.6 L1869.0,1072.8 L1867.0,1072.9 L1865.0,1073.1 L1863.0,1073.3 L1861.0,1073.5 L1859.0,1073.6 L1857.0,1073.8 L1855.0,1073.9 L1853.0,1074.1 L1851.0,1074.3 L1849.0,1074.4 L1847.0,1074.6 L1845.0,1074.7 L1843.0,1074.9 L1841.0,1075.0 L1839.0,1075.1 L1837.0,1075.3 L1835.0,1075.4 L1833.0,1075.5 L1831.0,1075.7 L1829.0,1075.8 L1827.0,1075.9 L1825.0,1076.1 L1823.0,1076.2 L1821.0,1076.3 L1819.0,1076.4 L1817.0,1076.6 L1815.0,1076.7 L1813.0,1076.8 L1811.0,1076.9 L1809.0,1077.0 L1807.0,1077.2 L1805.0,1077.3 L1803.0,1077.4 L1801.0,1077.5 L1799.0,1077.6 L1797.0,1077.7 L1795.0,1077.8 L1793.0,1077.9 L1791.0,1078.0 L1789.0,1078.1 L1787.0,1078.2 L1785.0,1078.3 L1783.0,1078.4 L1781.0,1078.5 L1779.0,1078.6 L1777.0,1078.7 L1775.0,1078.8 L1773.0,1078.9 L1771.0,1079.0 L1769.0,1079.1 L1767.0,1079.2 L1765.0,1079.3 L1763.0,1079.4 L1761.0,1079.5 L1759.0,1079.6 L1757.0,1079.7 L1755.0,1079.8 L1753.0,1079.9 L1751.0,1080.0 L1749.0,1080.1 L1747.0,1080.1 L1745.0,1080.2 L1743.0,1080.3 L1741.0,1080.4 L1739.0,1080.5 L1737.0,1080.6 L1735.0,1080.7 L1733.0,1080.8 L1731.0,1080.8 L1729.0,1080.9 L1727.0,1081.0 L1725.0,1081.1 L1723.0,1081.2 L1721.0,1081.3 L1719.0,1081.3 L1717.0,1081.4 L1715.0,1081.5 L1713.0,1081.6 L1711.0,1081.7 L1709.0,1081.8 L1707.0,1081.8 L1705.0,1081.9 L1703.0,1082.0 L1701.0,1082.1 L1699.0,1082.2 L1697.0,1082.2 L1695.0,1082.3 L1693.0,1082.4 L1691.0,1082.5 L1689.0,1082.5 L1687.0,1082.6 L1685.0,1082.7 L1683.0,1082.8 L1681.0,1082.9 L1679.0,1082.9 L1677.0,1083.0 L1675.0,1083.1 L1673.0,1083.2 L1671.0,1083.2 L1669.0,1083.3 L1667.0,1083.4 L1665.0,1083.5 L1663.0,1083.5 L1661.0,1083.6 L1659.0,1083.7 L1657.0,1083.8 L1655.0,1083.8 L1653.0,1083.9 L1651.0,1084.0 L1649.0,1084.0 L1647.0,1084.1 L1645.0,1084.2 L1643.0,1084.3 L1641.0,1084.3 L1639.0,1084.4 L1637.0,1084.5 L1635.0,1084.5 L1633.0,1084.6 L1631.0,1084.7 L1629.0,1084.7 L1627.0,1084.8 L1625.0,1084.9 L1623.0,1085.0 L1621.0,1085.0 L1619.0,1085.1 L1617.0,1085.2 L1615.0,1085.2 L1613.0,1085.3 L1611.0,1085.4 L1609.0,1085.4 L1607.0,1085.5 L1605.0,1085.5 L1603.0,1085.6 L1601.0,1085.7 L1599.0,1085.7 L1597.0,1085.8 L1595.0,1085.9 L1593.0,1085.9 L1591.0,1086.0 L1589.0,1086.0 L1587.0,1086.1 L1585.0,1086.2 L1583.0,1086.2 L1581.0,1086.3 L1579.0,1086.3 L1577.0,1086.4 L1575.0,1086.5 L1573.0,1086.5 L1571.0,1086.6 L1569.0,1086.6 L1567.0,1086.7 L1565.0,1086.7 L1563.0,1086.8 L1561.0,1086.8 L1559.0,1086.9 L1557.0,1086.9 L1555.0,1087.0 L1553.0,1087.1 L1551.0,1087.1 L1549.0,1087.2 L1547.0,1087.2 L1545.0,1087.3 L1543.0,1087.3 L1541.0,1087.3 L1539.0,1087.4 L1537.0,1087.4 L1535.0,1087.5 L1533.0,1087.5 L1531.0,1087.6 L1529.0,1087.6 L1527.0,1087.7 L1525.0,1087.7 L1523.0,1087.8 L1521.0,1087.8 L1519.0,1087.8 L1517.0,1087.9 L1515.0,1087.9 L1513.0,1088.0 L1511.0,1088.0 L1509.0,1088.0 L1507.0,1088.1 L1505.0,1088.1 L1503.0,1088.1 L1501.0,1088.2 L1499.0,1088.2 L1497.0,1088.2 L1495.0,1088.3 Z"/></clipPath></defs>
<g fill="#000"><circle cx="1722.4" cy="671.2" r="4.0"/><circle cx="1758.6" cy="717.7" r="4.0"/><circle cx="1784.9" cy="717.7" r="4.0"/><circle cx="1794.0" cy="740.9" r="4.0"/><circle cx="1770.0" cy="764.1" r="4.0"/><circle cx="1647.8" cy="775.8" r="4.0"/><circle cx="1720.3" cy="775.8" r="4.0"/><circle cx="1758.4" cy="799.0" r="4.0"/><circle cx="1595.2" cy="822.2" r="4.0"/><circle cx="1722.4" cy="822.2" r="4.0"/><circle cx="1775.2" cy="822.2" r="4.0"/><circle cx="1803.5" cy="822.2" r="4.0"/><circle cx="1691.0" cy="833.9" r="4.0"/><circle cx="1769.8" cy="845.5" r="4.0"/><circle cx="1665.5" cy="857.1" r="4.0"/><circle cx="1752.5" cy="857.1" r="4.0"/><circle cx="1801.6" cy="857.1" r="4.0"/><circle cx="1590.1" cy="868.7" r="4.0"/><circle cx="1632.7" cy="868.7" r="4.0"/><circle cx="1776.5" cy="880.3" r="4.0"/><circle cx="1770.0" cy="892.0" r="4.0"/><circle cx="1683.4" cy="903.6" r="4.0"/><circle cx="1768.3" cy="903.6" r="4.0"/><circle cx="1787.4" cy="903.6" r="4.0"/><circle cx="1760.3" cy="915.2" r="4.0"/><circle cx="1710.7" cy="926.8" r="4.0"/><circle cx="1733.4" cy="926.8" r="4.0"/><circle cx="1748.0" cy="926.8" r="4.0"/><circle cx="1789.3" cy="926.8" r="4.0"/><circle cx="1601.1" cy="938.4" r="4.0"/><circle cx="1773.4" cy="938.4" r="4.0"/><circle cx="1779.2" cy="938.4" r="4.0"/><circle cx="1761.5" cy="950.1" r="4.0"/><circle cx="1800.5" cy="950.1" r="4.0"/><circle cx="1827.8" cy="950.1" r="4.0"/><circle cx="1606.2" cy="961.7" r="4.0"/><circle cx="1781.3" cy="961.7" r="4.0"/><circle cx="1788.6" cy="961.7" r="4.0"/><circle cx="1806.7" cy="961.7" r="4.0"/><circle cx="1775.5" cy="973.3" r="4.0"/><circle cx="1781.3" cy="973.3" r="4.0"/><circle cx="1787.1" cy="973.3" r="4.0"/><circle cx="1734.2" cy="984.9" r="4.0"/><circle cx="1768.6" cy="984.9" r="4.0"/><circle cx="1793.0" cy="984.9" r="4.0"/><circle cx="1821.3" cy="984.9" r="4.0"/><circle cx="1742.6" cy="996.5" r="4.0"/><circle cx="1751.9" cy="996.5" r="4.0"/><circle cx="1774.8" cy="996.5" r="4.0"/><circle cx="1781.3" cy="996.5" r="4.0"/><circle cx="1734.9" cy="1008.2" r="4.0"/><circle cx="1748.0" cy="1008.2" r="4.0"/><circle cx="1762.2" cy="1008.2" r="4.0"/><circle cx="1774.1" cy="1008.2" r="4.0"/><circle cx="1780.6" cy="1008.2" r="4.0"/><circle cx="1786.4" cy="1008.2" r="4.0"/><circle cx="1799.2" cy="1008.2" r="4.0"/><circle cx="1820.5" cy="1008.2" r="4.0"/><circle cx="1663.7" cy="1019.8" r="4.0"/><circle cx="1671.6" cy="1019.8" r="4.0"/><circle cx="1730.0" cy="1019.8" r="4.0"/><circle cx="1733.0" cy="1019.8" r="4.0"/><circle cx="1737.4" cy="1019.8" r="4.0"/><circle cx="1762.1" cy="1019.8" r="4.0"/><circle cx="1766.3" cy="1019.8" r="4.0"/><circle cx="1770.5" cy="1019.8" r="4.0"/><circle cx="1774.7" cy="1019.8" r="4.0"/><circle cx="1778.9" cy="1019.8" r="4.0"/><circle cx="1783.1" cy="1019.8" r="4.0"/><circle cx="1787.3" cy="1019.8" r="4.0"/><circle cx="1791.5" cy="1019.8" r="4.0"/><circle cx="1795.7" cy="1019.8" r="4.0"/><circle cx="1634.5" cy="1031.4" r="4.0"/><circle cx="1665.9" cy="1031.4" r="4.0"/><circle cx="1748.0" cy="1031.4" r="4.0"/><circle cx="1760.4" cy="1031.4" r="4.0"/><circle cx="1764.6" cy="1031.4" r="4.0"/><circle cx="1768.8" cy="1031.4" r="4.0"/><circle cx="1773.1" cy="1031.4" r="4.0"/><circle cx="1777.3" cy="1031.4" r="4.0"/><circle cx="1781.5" cy="1031.4" r="4.0"/><circle cx="1785.7" cy="1031.4" r="4.0"/><circle cx="1790.0" cy="1031.4" r="4.0"/><circle cx="1794.2" cy="1031.4" r="4.0"/><circle cx="1798.4" cy="1031.4" r="4.0"/><circle cx="1806.8" cy="1031.4" r="4.0"/><circle cx="1821.0" cy="1031.4" r="4.0"/><circle cx="1590.1" cy="1043.0" r="4.0"/><circle cx="1665.0" cy="1043.0" r="4.0"/><circle cx="1688.0" cy="1043.0" r="4.0"/><circle cx="1730.0" cy="1043.0" r="4.0"/><circle cx="1734.8" cy="1043.0" r="4.0"/><circle cx="1739.5" cy="1043.0" r="4.0"/><circle cx="1744.3" cy="1043.0" r="4.0"/><circle cx="1749.1" cy="1043.0" r="4.0"/><circle cx="1753.8" cy="1043.0" r="4.0"/><circle cx="1758.6" cy="1043.0" r="4.0"/><circle cx="1768.8" cy="1043.0" r="4.0"/><circle cx="1778.0" cy="1043.0" r="4.0"/><circle cx="1782.6" cy="1043.0" r="4.0"/><circle cx="1787.2" cy="1043.0" r="4.0"/><circle cx="1791.8" cy="1043.0" r="4.0"/><circle cx="1796.3" cy="1043.0" r="4.0"/><circle cx="1800.9" cy="1043.0" r="4.0"/><circle cx="1805.5" cy="1043.0" r="4.0"/><circle cx="1514.0" cy="1054.6" r="4.0"/><circle cx="1526.4" cy="1054.6" r="4.0"/><circle cx="1623.0" cy="1054.6" r="4.0"/><circle cx="1665.0" cy="1054.6" r="4.0"/><circle cx="1690.2" cy="1054.6" r="4.0"/><circle cx="1699.0" cy="1054.6" r="4.0"/><circle cx="1710.5" cy="1054.6" r="4.0"/><circle cx="1722.0" cy="1054.6" r="4.0"/><circle cx="1725.0" cy="1054.6" r="4.0"/><circle cx="1730.0" cy="1054.6" r="4.0"/><circle cx="1733.8" cy="1054.6" r="4.0"/><circle cx="1749.8" cy="1054.6" r="4.0"/><circle cx="1754.1" cy="1054.6" r="4.0"/><circle cx="1758.5" cy="1054.6" r="4.0"/><circle cx="1762.8" cy="1054.6" r="4.0"/><circle cx="1767.2" cy="1054.6" r="4.0"/><circle cx="1771.5" cy="1054.6" r="4.0"/><circle cx="1775.9" cy="1054.6" r="4.0"/><circle cx="1780.2" cy="1054.6" r="4.0"/><circle cx="1784.6" cy="1054.6" r="4.0"/><circle cx="1788.9" cy="1054.6" r="4.0"/><circle cx="1793.3" cy="1054.6" r="4.0"/><circle cx="1797.6" cy="1054.6" r="4.0"/><circle cx="1802.0" cy="1054.6" r="4.0"/><circle cx="1806.3" cy="1054.6" r="4.0"/><circle cx="1821.4" cy="1054.6" r="4.0"/><circle cx="1827.6" cy="1054.6" r="4.0"/><circle cx="1511.4" cy="1066.3" r="4.0"/><circle cx="1540.5" cy="1066.3" r="4.0"/><circle cx="1632.7" cy="1066.3" r="4.0"/><circle cx="1651.7" cy="1066.3" r="4.0"/><circle cx="1665.0" cy="1066.3" r="4.0"/><circle cx="1710.5" cy="1066.3" r="4.0"/><circle cx="1726.8" cy="1066.3" r="4.0"/><circle cx="1731.2" cy="1066.3" r="4.0"/><circle cx="1735.6" cy="1066.3" r="4.0"/><circle cx="1745.3" cy="1066.3" r="4.0"/><circle cx="1749.6" cy="1066.3" r="4.0"/><circle cx="1753.9" cy="1066.3" r="4.0"/><circle cx="1758.2" cy="1066.3" r="4.0"/><circle cx="1762.5" cy="1066.3" r="4.0"/><circle cx="1766.8" cy="1066.3" r="4.0"/><circle cx="1771.1" cy="1066.3" r="4.0"/><circle cx="1775.4" cy="1066.3" r="4.0"/><circle cx="1779.7" cy="1066.3" r="4.0"/><circle cx="1784.0" cy="1066.3" r="4.0"/><circle cx="1788.3" cy="1066.3" r="4.0"/><circle cx="1792.6" cy="1066.3" r="4.0"/><circle cx="1796.9" cy="1066.3" r="4.0"/><circle cx="1801.2" cy="1066.3" r="4.0"/><circle cx="1805.5" cy="1066.3" r="4.0"/><circle cx="1812.1" cy="1066.3" r="4.0"/><circle cx="1816.1" cy="1066.3" r="4.0"/><circle cx="1820.2" cy="1066.3" r="4.0"/><circle cx="1824.2" cy="1066.3" r="4.0"/><circle cx="1828.3" cy="1066.3" r="4.0"/><circle cx="1832.4" cy="1066.3" r="4.0"/><circle cx="1836.4" cy="1066.3" r="4.0"/><circle cx="1504.3" cy="1077.9" r="4.0"/><circle cx="1509.6" cy="1077.9" r="4.0"/><circle cx="1514.0" cy="1077.9" r="4.0"/><circle cx="1526.4" cy="1077.9" r="4.0"/><circle cx="1600.0" cy="1077.9" r="4.0"/><circle cx="1604.4" cy="1077.9" r="4.0"/><circle cx="1621.2" cy="1077.9" r="4.0"/><circle cx="1624.8" cy="1077.9" r="4.0"/><circle cx="1633.2" cy="1077.9" r="4.0"/><circle cx="1646.0" cy="1077.9" r="4.0"/><circle cx="1665.9" cy="1077.9" r="4.0"/><circle cx="1688.4" cy="1077.9" r="4.0"/><circle cx="1692.0" cy="1077.9" r="4.0"/><circle cx="1699.0" cy="1077.9" r="4.0"/><circle cx="1710.5" cy="1077.9" r="4.0"/><circle cx="1722.0" cy="1077.9" r="4.0"/><circle cx="1725.0" cy="1077.9" r="4.0"/><circle cx="1734.7" cy="1077.9" r="4.0"/><circle cx="1739.2" cy="1077.9" r="4.0"/><circle cx="1743.6" cy="1077.9" r="4.0"/><circle cx="1748.1" cy="1077.9" r="4.0"/><circle cx="1752.6" cy="1077.9" r="4.0"/><circle cx="1757.0" cy="1077.9" r="4.0"/><circle cx="1761.5" cy="1077.9" r="4.0"/><circle cx="1766.0" cy="1077.9" r="4.0"/><circle cx="1770.4" cy="1077.9" r="4.0"/><circle cx="1774.9" cy="1077.9" r="4.0"/><circle cx="1779.3" cy="1077.9" r="4.0"/><circle cx="1783.8" cy="1077.9" r="4.0"/><circle cx="1788.3" cy="1077.9" r="4.0"/><circle cx="1792.7" cy="1077.9" r="4.0"/><circle cx="1797.2" cy="1077.9" r="4.0"/><circle cx="1801.7" cy="1077.9" r="4.0"/><circle cx="1806.1" cy="1077.9" r="4.0"/><circle cx="1810.6" cy="1077.9" r="4.0"/><circle cx="1815.1" cy="1077.9" r="4.0"/><circle cx="1819.5" cy="1077.9" r="4.0"/><circle cx="1824.0" cy="1077.9" r="4.0"/><circle cx="1494.6" cy="1089.5" r="4.0"/><circle cx="1499.0" cy="1089.5" r="4.0"/><circle cx="1503.4" cy="1089.5" r="4.0"/><circle cx="1507.9" cy="1089.5" r="4.0"/><circle cx="1512.3" cy="1089.5" r="4.0"/><circle cx="1516.7" cy="1089.5" r="4.0"/><circle cx="1526.4" cy="1089.5" r="4.0"/><circle cx="1540.5" cy="1089.5" r="4.0"/><circle cx="1586.5" cy="1089.5" r="4.0"/><circle cx="1591.0" cy="1089.5" r="4.0"/><circle cx="1595.4" cy="1089.5" r="4.0"/><circle cx="1599.9" cy="1089.5" r="4.0"/><circle cx="1604.3" cy="1089.5" r="4.0"/><circle cx="1608.8" cy="1089.5" r="4.0"/><circle cx="1617.7" cy="1089.5" r="4.0"/><circle cx="1621.7" cy="1089.5" r="4.0"/><circle cx="1625.6" cy="1089.5" r="4.0"/><circle cx="1633.6" cy="1089.5" r="4.0"/><circle cx="1643.3" cy="1089.5" r="4.0"/><circle cx="1647.1" cy="1089.5" r="4.0"/><circle cx="1651.0" cy="1089.5" r="4.0"/><circle cx="1654.8" cy="1089.5" r="4.0"/><circle cx="1663.7" cy="1089.5" r="4.0"/><circle cx="1669.0" cy="1089.5" r="4.0"/><circle cx="1674.3" cy="1089.5" r="4.0"/><circle cx="1681.3" cy="1089.5" r="4.0"/><circle cx="1685.8" cy="1089.5" r="4.0"/><circle cx="1690.2" cy="1089.5" r="4.0"/><circle cx="1699.0" cy="1089.5" r="4.0"/><circle cx="1711.4" cy="1089.5" r="4.0"/><circle cx="1715.9" cy="1089.5" r="4.0"/><circle cx="1720.4" cy="1089.5" r="4.0"/><circle cx="1724.8" cy="1089.5" r="4.0"/><circle cx="1729.3" cy="1089.5" r="4.0"/><circle cx="1733.8" cy="1089.5" r="4.0"/><circle cx="1738.3" cy="1089.5" r="4.0"/><circle cx="1743.6" cy="1089.5" r="4.0"/><circle cx="1748.0" cy="1089.5" r="4.0"/><circle cx="1752.4" cy="1089.5" r="4.0"/><circle cx="1756.7" cy="1089.5" r="4.0"/><circle cx="1761.1" cy="1089.5" r="4.0"/><circle cx="1765.5" cy="1089.5" r="4.0"/><circle cx="1769.9" cy="1089.5" r="4.0"/><circle cx="1774.2" cy="1089.5" r="4.0"/><circle cx="1778.6" cy="1089.5" r="4.0"/><circle cx="1783.0" cy="1089.5" r="4.0"/><circle cx="1787.4" cy="1089.5" r="4.0"/><circle cx="1791.7" cy="1089.5" r="4.0"/><circle cx="1796.1" cy="1089.5" r="4.0"/><circle cx="1800.5" cy="1089.5" r="4.0"/><circle cx="1804.9" cy="1089.5" r="4.0"/><circle cx="1809.2" cy="1089.5" r="4.0"/><circle cx="1813.6" cy="1089.5" r="4.0"/><circle cx="1818.0" cy="1089.5" r="4.0"/><circle cx="1822.4" cy="1089.5" r="4.0"/><circle cx="1826.7" cy="1089.5" r="4.0"/><circle cx="1831.1" cy="1089.5" r="4.0"/><circle cx="1835.5" cy="1089.5" r="4.0"/><circle cx="1906.2" cy="1089.5" r="4.0"/><circle cx="1959.4" cy="1089.5" r="4.0"/></g>
<path d="M1495.0,1079.9 L1496.8,1079.2 L1498.5,1079.2 L1500.2,1079.2 L1501.9,1079.2 L1503.7,1079.2 L1505.4,1079.2 L1507.1,1079.2 L1508.8,1079.1 L1510.5,1079.1 L1512.2,1079.1 L1514.0,1079.1 L1515.7,1079.0 L1517.4,1079.0 L1519.2,1079.0 L1520.9,1078.9 L1522.7,1078.9 L1524.4,1078.9 L1526.2,1078.8 L1527.9,1078.8 L1529.7,1078.7 L1531.4,1078.7 L1533.2,1078.6 L1535.0,1078.5 L1536.7,1078.5 L1538.5,1078.4 L1540.3,1078.4 L1542.1,1078.3 L1543.8,1078.2 L1545.6,1078.1 L1547.4,1078.1 L1549.2,1078.0 L1551.0,1077.9 L1552.8,1077.8 L1554.6,1077.7 L1556.4,1077.6 L1558.2,1077.5 L1560.0,1077.4 L1561.8,1077.3 L1563.6,1077.2 L1565.4,1077.1 L1567.2,1076.9 L1569.0,1076.8 L1570.8,1076.7 L1572.6,1076.6 L1574.4,1076.4 L1576.2,1076.3 L1578.0,1076.2 L1579.8,1076.0 L1581.6,1075.9 L1583.5,1075.7 L1585.3,1075.5 L1587.1,1075.4 L1588.9,1075.2 L1590.7,1075.0 L1592.6,1074.9 L1594.4,1074.7 L1596.2,1074.5 L1598.0,1074.3 L1599.8,1074.1 L1601.7,1073.9 L1603.5,1073.7 L1605.3,1073.5 L1607.1,1073.3 L1608.9,1073.1 L1610.8,1072.8 L1612.6,1072.6 L1614.4,1072.4 L1616.2,1072.1 L1618.0,1071.9 L1619.9,1071.7 L1621.7,1071.4 L1623.5,1071.1 L1625.3,1070.9 L1627.1,1070.6 L1629.0,1070.3 L1630.8,1070.0 L1632.6,1069.8 L1634.4,1069.5 L1636.2,1069.2 L1638.0,1068.9 L1639.8,1068.6 L1641.7,1068.2 L1643.5,1067.9 L1645.3,1067.6 L1647.1,1067.3 L1648.9,1066.9 L1650.7,1066.6 L1652.5,1066.2 L1654.3,1065.9 L1656.1,1065.5 L1657.9,1065.1 L1659.7,1064.8 L1661.5,1064.4 L1663.3,1064.0 L1665.1,1063.6 L1666.8,1063.2 L1668.6,1062.8 L1670.4,1062.4 L1672.2,1061.9 L1674.0,1061.5 L1675.8,1061.1 L1677.5,1060.6 L1679.3,1060.2 L1681.1,1059.7 L1682.8,1059.3 L1684.6,1058.8 L1686.4,1058.3 L1688.1,1057.8 L1689.9,1057.3 L1691.6,1056.8 L1693.4,1056.3 L1695.1,1055.8 L1696.9,1055.3 L1698.6,1054.8 L1700.3,1054.2 L1702.1,1053.7 L1703.8,1053.1 L1705.5,1052.6 L1707.2,1052.0 L1709.0,1051.4 L1710.7,1050.9 L1712.4,1050.3 L1714.1,1049.7 L1715.8,1049.1 L1717.5,1048.5 L1719.2,1047.8 L1720.9,1047.2 L1722.6,1046.6 L1724.2,1045.9 L1725.9,1045.3 L1727.6,1044.6 L1729.3,1044.0 L1730.9,1043.3 L1732.6,1042.6 L1734.2,1041.9 L1735.9,1041.2 L1737.5,1040.5 L1739.2,1039.8 L1740.8,1039.0 L1742.4,1038.3 L1744.1,1037.5 L1745.7,1036.8 L1747.3,1036.0 L1748.9,1035.3 L1750.5,1034.5 L1752.1,1033.7 L1753.7,1032.9 L1755.3,1032.1 L1756.9,1031.2 L1758.5,1030.4 L1760.0,1029.6 L1761.6,1028.7 L1763.1,1027.9 L1764.7,1027.0 L1766.2,1026.1 L1767.8,1025.3 L1769.3,1024.4 L1770.9,1023.5 L1772.4,1022.6 L1773.9,1021.6 L1775.4,1020.7 L1776.9,1019.8 L1778.4,1018.8 L1779.9,1017.8 L1781.4,1016.9 L1782.9,1015.9 L1784.3,1014.9 L1785.8,1013.9 L1787.3,1012.9 L1788.7,1011.9 L1790.1,1010.9 L1791.6,1009.8 L1793.0,1008.8 L1794.4,1007.7 L1795.9,1006.6 L1797.3,1005.6 L1798.7,1004.5 L1800.1,1003.4 L1801.5,1002.3 L1802.8,1001.2 L1804.2,1000.1 L1805.6,999.0 L1806.9,997.8 L1808.3,996.7 L1809.6,995.5 L1811.0,994.4 L1812.3,993.2 L1813.6,992.0 L1814.9,990.8 L1816.2,989.6 L1817.5,988.4 L1818.8,987.2 L1820.1,986.0 L1821.4,984.8 L1822.7,983.5 L1823.9,982.3 L1825.2,981.1 L1826.4,979.8 L1827.6,978.5 L1828.9,977.3 L1830.1,976.0 L1831.3,974.7 L1832.5,973.4 L1833.7,972.1 L1834.9,970.8 L1836.1,969.4 L1837.2,968.1 L1838.4,966.8 L1839.6,965.4 L1840.7,964.1 L1841.8,962.7 L1843.0,961.4 L1844.1,960.0 L1845.2,958.6 L1846.3,957.2 L1847.4,955.8 L1848.5,954.4 L1849.6,953.0 L1850.6,951.6 L1851.7,950.2 L1852.7,948.8 L1853.8,947.3 L1854.8,945.9 L1855.8,944.5 L1856.9,943.0 L1857.9,941.5 L1858.9,940.1 L1859.9,938.6 L1860.9,937.1 L1861.8,935.6 L1862.8,934.2 L1863.8,932.7 L1864.7,931.2 L1865.7,929.7 L1866.6,928.1 L1867.6,926.6 L1868.5,925.1 L1869.4,923.6 L1870.3,922.0 L1871.2,920.5 L1872.1,919.0 L1873.0,917.4 L1873.9,915.8 L1874.8,914.3 L1875.7,912.7 L1876.5,911.2 L1877.4,909.6 L1878.2,908.0 L1879.1,906.4 L1879.9,904.8 L1880.7,903.2 L1881.6,901.6 L1882.4,900.0 L1883.2,898.4 L1884.0,896.8 L1884.8,895.2 L1885.6,893.6 L1886.4,891.9 L1887.1,890.3 L1887.9,888.7 L1888.7,887.1 L1889.4,885.4 L1890.2,883.8 L1890.9,882.1 L1891.7,880.5 L1892.4,878.8 L1893.2,877.2 L1893.9,875.5 L1894.6,873.8 L1895.3,872.2 L1896.0,870.5 L1896.7,868.8 L1897.4,867.1 L1898.1,865.5 L1898.8,863.8 L1899.5,862.1 L1900.2,860.4 L1900.8,858.7 L1901.5,857.0 L1902.2,855.3 L1902.8,853.6 L1903.5,851.9 L1904.1,850.2 L1904.8,848.5 L1905.4,846.8 L1906.0,845.1 L1906.7,843.4 L1907.3,841.6 L1907.9,839.9 L1908.5,838.2 L1909.1,836.5 L1909.7,834.8 L1910.3,833.0 L1910.9,831.3 L1911.5,829.6 L1912.1,827.9 L1912.7,826.1 L1913.3,824.4 L1913.8,822.7 L1914.4,820.9 L1915.0,819.2 L1915.5,817.4 L1916.1,815.7 L1916.6,814.0 L1917.2,812.2 L1917.7,810.5 L1918.3,808.7 L1918.8,807.0 L1919.4,805.3 L1919.9,803.5 L1920.4,801.8 L1921.0,800.0 L1921.5,798.3 L1922.0,796.5 L1922.5,794.8 L1923.0,793.0 L1923.5,791.3 L1924.0,789.6 L1924.6,787.8 L1925.1,786.1 L1925.6,784.3 L1926.1,782.6 L1926.5,780.8 L1927.0,779.1 L1927.5,777.3 L1928.0,775.6 L1928.5,773.8 L1929.0,772.1 L1929.4,770.3 L1929.9,768.6 L1930.4,766.9 L1930.9,765.1 L1931.3,763.4 L1931.8,761.6 L1932.3,759.9 L1932.7,758.1 L1933.2,756.4 L1933.6,754.6 L1934.1,752.9 L1934.5,751.2 L1935.0,749.4 L1935.4,747.7 L1935.9,745.9 L1936.3,744.2 L1936.8,742.4 L1937.2,740.7 L1937.6,739.0 L1938.1,737.2 L1938.5,735.5 L1938.9,733.7 L1939.4,732.0 L1939.8,730.3 L1940.2,728.5 L1940.7,726.8 L1941.1,725.0 L1941.5,723.3 L1941.9,721.6 L1942.3,719.8 L1942.8,718.1 L1943.2,716.4 L1943.6,714.6 L1944.0,712.9 L1944.4,711.2 L1944.8,709.4 L1945.2,707.7 L1945.7,706.0 L1946.1,704.2 L1946.5,702.5 L1946.9,700.8 L1947.3,699.0 L1947.7,697.3 L1948.1,695.6 L1948.5,693.9 L1948.9,692.1 L1949.3,690.4 L1949.7,688.7 L1950.1,687.0 L1950.5,685.2 L1950.9,683.5 L1951.3,681.8 L1951.7,680.1 L1952.1,678.4 L1952.5,676.7 L1952.9,674.9 L1953.3,673.2 L1953.7,671.5 L1954.1,669.8 L1954.5,668.1 L1954.9,666.4 L1955.3,664.7 L1955.7,663.0 L1956.1,661.2 L1956.5,659.5 L1956.9,657.8 L1957.3,656.1 L1957.7,654.4 L1958.1,652.7 L1958.5,651.0 L1958.6,648.6 L1959.4,1059.5 L1959.0,1059.6 L1957.0,1060.1 L1955.0,1060.5 L1953.0,1061.0 L1951.0,1061.4 L1949.0,1061.8 L1947.0,1062.2 L1945.0,1062.6 L1943.0,1063.0 L1941.0,1063.4 L1939.0,1063.8 L1937.0,1064.1 L1935.0,1064.5 L1933.0,1064.8 L1931.0,1065.2 L1929.0,1065.5 L1927.0,1065.8 L1925.0,1066.1 L1923.0,1066.4 L1921.0,1066.8 L1919.0,1067.0 L1917.0,1067.3 L1915.0,1067.6 L1913.0,1067.9 L1911.0,1068.2 L1909.0,1068.4 L1907.0,1068.7 L1905.0,1068.9 L1903.0,1069.2 L1901.0,1069.4 L1899.0,1069.7 L1897.0,1069.9 L1895.0,1070.1 L1893.0,1070.4 L1891.0,1070.6 L1889.0,1070.8 L1887.0,1071.0 L1885.0,1071.2 L1883.0,1071.4 L1881.0,1071.6 L1879.0,1071.8 L1877.0,1072.0 L1875.0,1072.2 L1873.0,1072.4 L1871.0,1072.6 L1869.0,1072.8 L1867.0,1072.9 L1865.0,1073.1 L1863.0,1073.3 L1861.0,1073.5 L1859.0,1073.6 L1857.0,1073.8 L1855.0,1073.9 L1853.0,1074.1 L1851.0,1074.3 L1849.0,1074.4 L1847.0,1074.6 L1845.0,1074.7 L1843.0,1074.9 L1841.0,1075.0 L1839.0,1075.1 L1837.0,1075.3 L1835.0,1075.4 L1833.0,1075.5 L1831.0,1075.7 L1829.0,1075.8 L1827.0,1075.9 L1825.0,1076.1 L1823.0,1076.2 L1821.0,1076.3 L1819.0,1076.4 L1817.0,1076.6 L1815.0,1076.7 L1813.0,1076.8 L1811.0,1076.9 L1809.0,1077.0 L1807.0,1077.2 L1805.0,1077.3 L1803.0,1077.4 L1801.0,1077.5 L1799.0,1077.6 L1797.0,1077.7 L1795.0,1077.8 L1793.0,1077.9 L1791.0,1078.0 L1789.0,1078.1 L1787.0,1078.2 L1785.0,1078.3 L1783.0,1078.4 L1781.0,1078.5 L1779.0,1078.6 L1777.0,1078.7 L1775.0,1078.8 L1773.0,1078.9 L1771.0,1079.0 L1769.0,1079.1 L1767.0,1079.2 L1765.0,1079.3 L1763.0,1079.4 L1761.0,1079.5 L1759.0,1079.6 L1757.0,1079.7 L1755.0,1079.8 L1753.0,1079.9 L1751.0,1080.0 L1749.0,1080.1 L1747.0,1080.1 L1745.0,1080.2 L1743.0,1080.3 L1741.0,1080.4 L1739.0,1080.5 L1737.0,1080.6 L1735.0,1080.7 L1733.0,1080.8 L1731.0,1080.8 L1729.0,1080.9 L1727.0,1081.0 L1725.0,1081.1 L1723.0,1081.2 L1721.0,1081.3 L1719.0,1081.3 L1717.0,1081.4 L1715.0,1081.5 L1713.0,1081.6 L1711.0,1081.7 L1709.0,1081.8 L1707.0,1081.8 L1705.0,1081.9 L1703.0,1082.0 L1701.0,1082.1 L1699.0,1082.2 L1697.0,1082.2 L1695.0,1082.3 L1693.0,1082.4 L1691.0,1082.5 L1689.0,1082.5 L1687.0,1082.6 L1685.0,1082.7 L1683.0,1082.8 L1681.0,1082.9 L1679.0,1082.9 L1677.0,1083.0 L1675.0,1083.1 L1673.0,1083.2 L1671.0,1083.2 L1669.0,1083.3 L1667.0,1083.4 L1665.0,1083.5 L1663.0,1083.5 L1661.0,1083.6 L1659.0,1083.7 L1657.0,1083.8 L1655.0,1083.8 L1653.0,1083.9 L1651.0,1084.0 L1649.0,1084.0 L1647.0,1084.1 L1645.0,1084.2 L1643.0,1084.3 L1641.0,1084.3 L1639.0,1084.4 L1637.0,1084.5 L1635.0,1084.5 L1633.0,1084.6 L1631.0,1084.7 L1629.0,1084.7 L1627.0,1084.8 L1625.0,1084.9 L1623.0,1085.0 L1621.0,1085.0 L1619.0,1085.1 L1617.0,1085.2 L1615.0,1085.2 L1613.0,1085.3 L1611.0,1085.4 L1609.0,1085.4 L1607.0,1085.5 L1605.0,1085.5 L1603.0,1085.6 L1601.0,1085.7 L1599.0,1085.7 L1597.0,1085.8 L1595.0,1085.9 L1593.0,1085.9 L1591.0,1086.0 L1589.0,1086.0 L1587.0,1086.1 L1585.0,1086.2 L1583.0,1086.2 L1581.0,1086.3 L1579.0,1086.3 L1577.0,1086.4 L1575.0,1086.5 L1573.0,1086.5 L1571.0,1086.6 L1569.0,1086.6 L1567.0,1086.7 L1565.0,1086.7 L1563.0,1086.8 L1561.0,1086.8 L1559.0,1086.9 L1557.0,1086.9 L1555.0,1087.0 L1553.0,1087.1 L1551.0,1087.1 L1549.0,1087.2 L1547.0,1087.2 L1545.0,1087.3 L1543.0,1087.3 L1541.0,1087.3 L1539.0,1087.4 L1537.0,1087.4 L1535.0,1087.5 L1533.0,1087.5 L1531.0,1087.6 L1529.0,1087.6 L1527.0,1087.7 L1525.0,1087.7 L1523.0,1087.8 L1521.0,1087.8 L1519.0,1087.8 L1517.0,1087.9 L1515.0,1087.9 L1513.0,1088.0 L1511.0,1088.0 L1509.0,1088.0 L1507.0,1088.1 L1505.0,1088.1 L1503.0,1088.1 L1501.0,1088.2 L1499.0,1088.2 L1497.0,1088.2 L1495.0,1088.3 Z" fill="#dcecfa"/>
<g fill="#26445a" clip-path="url(#clipf)"><circle cx="1722.4" cy="671.2" r="4.0"/><circle cx="1758.6" cy="717.7" r="4.0"/><circle cx="1784.9" cy="717.7" r="4.0"/><circle cx="1794.0" cy="740.9" r="4.0"/><circle cx="1770.0" cy="764.1" r="4.0"/><circle cx="1647.8" cy="775.8" r="4.0"/><circle cx="1720.3" cy="775.8" r="4.0"/><circle cx="1758.4" cy="799.0" r="4.0"/><circle cx="1595.2" cy="822.2" r="4.0"/><circle cx="1722.4" cy="822.2" r="4.0"/><circle cx="1775.2" cy="822.2" r="4.0"/><circle cx="1803.5" cy="822.2" r="4.0"/><circle cx="1691.0" cy="833.9" r="4.0"/><circle cx="1769.8" cy="845.5" r="4.0"/><circle cx="1665.5" cy="857.1" r="4.0"/><circle cx="1752.5" cy="857.1" r="4.0"/><circle cx="1801.6" cy="857.1" r="4.0"/><circle cx="1590.1" cy="868.7" r="4.0"/><circle cx="1632.7" cy="868.7" r="4.0"/><circle cx="1776.5" cy="880.3" r="4.0"/><circle cx="1770.0" cy="892.0" r="4.0"/><circle cx="1683.4" cy="903.6" r="4.0"/><circle cx="1768.3" cy="903.6" r="4.0"/><circle cx="1787.4" cy="903.6" r="4.0"/><circle cx="1760.3" cy="915.2" r="4.0"/><circle cx="1710.7" cy="926.8" r="4.0"/><circle cx="1733.4" cy="926.8" r="4.0"/><circle cx="1748.0" cy="926.8" r="4.0"/><circle cx="1789.3" cy="926.8" r="4.0"/><circle cx="1601.1" cy="938.4" r="4.0"/><circle cx="1773.4" cy="938.4" r="4.0"/><circle cx="1779.2" cy="938.4" r="4.0"/><circle cx="1761.5" cy="950.1" r="4.0"/><circle cx="1800.5" cy="950.1" r="4.0"/><circle cx="1827.8" cy="950.1" r="4.0"/><circle cx="1606.2" cy="961.7" r="4.0"/><circle cx="1781.3" cy="961.7" r="4.0"/><circle cx="1788.6" cy="961.7" r="4.0"/><circle cx="1806.7" cy="961.7" r="4.0"/><circle cx="1775.5" cy="973.3" r="4.0"/><circle cx="1781.3" cy="973.3" r="4.0"/><circle cx="1787.1" cy="973.3" r="4.0"/><circle cx="1734.2" cy="984.9" r="4.0"/><circle cx="1768.6" cy="984.9" r="4.0"/><circle cx="1793.0" cy="984.9" r="4.0"/><circle cx="1821.3" cy="984.9" r="4.0"/><circle cx="1742.6" cy="996.5" r="4.0"/><circle cx="1751.9" cy="996.5" r="4.0"/><circle cx="1774.8" cy="996.5" r="4.0"/><circle cx="1781.3" cy="996.5" r="4.0"/><circle cx="1734.9" cy="1008.2" r="4.0"/><circle cx="1748.0" cy="1008.2" r="4.0"/><circle cx="1762.2" cy="1008.2" r="4.0"/><circle cx="1774.1" cy="1008.2" r="4.0"/><circle cx="1780.6" cy="1008.2" r="4.0"/><circle cx="1786.4" cy="1008.2" r="4.0"/><circle cx="1799.2" cy="1008.2" r="4.0"/><circle cx="1820.5" cy="1008.2" r="4.0"/><circle cx="1663.7" cy="1019.8" r="4.0"/><circle cx="1671.6" cy="1019.8" r="4.0"/><circle cx="1730.0" cy="1019.8" r="4.0"/><circle cx="1733.0" cy="1019.8" r="4.0"/><circle cx="1737.4" cy="1019.8" r="4.0"/><circle cx="1762.1" cy="1019.8" r="4.0"/><circle cx="1766.3" cy="1019.8" r="4.0"/><circle cx="1770.5" cy="1019.8" r="4.0"/><circle cx="1774.7" cy="1019.8" r="4.0"/><circle cx="1778.9" cy="1019.8" r="4.0"/><circle cx="1783.1" cy="1019.8" r="4.0"/><circle cx="1787.3" cy="1019.8" r="4.0"/><circle cx="1791.5" cy="1019.8" r="4.0"/><circle cx="1795.7" cy="1019.8" r="4.0"/><circle cx="1634.5" cy="1031.4" r="4.0"/><circle cx="1665.9" cy="1031.4" r="4.0"/><circle cx="1748.0" cy="1031.4" r="4.0"/><circle cx="1760.4" cy="1031.4" r="4.0"/><circle cx="1764.6" cy="1031.4" r="4.0"/><circle cx="1768.8" cy="1031.4" r="4.0"/><circle cx="1773.1" cy="1031.4" r="4.0"/><circle cx="1777.3" cy="1031.4" r="4.0"/><circle cx="1781.5" cy="1031.4" r="4.0"/><circle cx="1785.7" cy="1031.4" r="4.0"/><circle cx="1790.0" cy="1031.4" r="4.0"/><circle cx="1794.2" cy="1031.4" r="4.0"/><circle cx="1798.4" cy="1031.4" r="4.0"/><circle cx="1806.8" cy="1031.4" r="4.0"/><circle cx="1821.0" cy="1031.4" r="4.0"/><circle cx="1590.1" cy="1043.0" r="4.0"/><circle cx="1665.0" cy="1043.0" r="4.0"/><circle cx="1688.0" cy="1043.0" r="4.0"/><circle cx="1730.0" cy="1043.0" r="4.0"/><circle cx="1734.8" cy="1043.0" r="4.0"/><circle cx="1739.5" cy="1043.0" r="4.0"/><circle cx="1744.3" cy="1043.0" r="4.0"/><circle cx="1749.1" cy="1043.0" r="4.0"/><circle cx="1753.8" cy="1043.0" r="4.0"/><circle cx="1758.6" cy="1043.0" r="4.0"/><circle cx="1768.8" cy="1043.0" r="4.0"/><circle cx="1778.0" cy="1043.0" r="4.0"/><circle cx="1782.6" cy="1043.0" r="4.0"/><circle cx="1787.2" cy="1043.0" r="4.0"/><circle cx="1791.8" cy="1043.0" r="4.0"/><circle cx="1796.3" cy="1043.0" r="4.0"/><circle cx="1800.9" cy="1043.0" r="4.0"/><circle cx="1805.5" cy="1043.0" r="4.0"/><circle cx="1514.0" cy="1054.6" r="4.0"/><circle cx="1526.4" cy="1054.6" r="4.0"/><circle cx="1623.0" cy="1054.6" r="4.0"/><circle cx="1665.0" cy="1054.6" r="4.0"/><circle cx="1690.2" cy="1054.6" r="4.0"/><circle cx="1699.0" cy="1054.6" r="4.0"/><circle cx="1710.5" cy="1054.6" r="4.0"/><circle cx="1722.0" cy="1054.6" r="4.0"/><circle cx="1725.0" cy="1054.6" r="4.0"/><circle cx="1730.0" cy="1054.6" r="4.0"/><circle cx="1733.8" cy="1054.6" r="4.0"/><circle cx="1749.8" cy="1054.6" r="4.0"/><circle cx="1754.1" cy="1054.6" r="4.0"/><circle cx="1758.5" cy="1054.6" r="4.0"/><circle cx="1762.8" cy="1054.6" r="4.0"/><circle cx="1767.2" cy="1054.6" r="4.0"/><circle cx="1771.5" cy="1054.6" r="4.0"/><circle cx="1775.9" cy="1054.6" r="4.0"/><circle cx="1780.2" cy="1054.6" r="4.0"/><circle cx="1784.6" cy="1054.6" r="4.0"/><circle cx="1788.9" cy="1054.6" r="4.0"/><circle cx="1793.3" cy="1054.6" r="4.0"/><circle cx="1797.6" cy="1054.6" r="4.0"/><circle cx="1802.0" cy="1054.6" r="4.0"/><circle cx="1806.3" cy="1054.6" r="4.0"/><circle cx="1821.4" cy="1054.6" r="4.0"/><circle cx="1827.6" cy="1054.6" r="4.0"/><circle cx="1511.4" cy="1066.3" r="4.0"/><circle cx="1540.5" cy="1066.3" r="4.0"/><circle cx="1632.7" cy="1066.3" r="4.0"/><circle cx="1651.7" cy="1066.3" r="4.0"/><circle cx="1665.0" cy="1066.3" r="4.0"/><circle cx="1710.5" cy="1066.3" r="4.0"/><circle cx="1726.8" cy="1066.3" r="4.0"/><circle cx="1731.2" cy="1066.3" r="4.0"/><circle cx="1735.6" cy="1066.3" r="4.0"/><circle cx="1745.3" cy="1066.3" r="4.0"/><circle cx="1749.6" cy="1066.3" r="4.0"/><circle cx="1753.9" cy="1066.3" r="4.0"/><circle cx="1758.2" cy="1066.3" r="4.0"/><circle cx="1762.5" cy="1066.3" r="4.0"/><circle cx="1766.8" cy="1066.3" r="4.0"/><circle cx="1771.1" cy="1066.3" r="4.0"/><circle cx="1775.4" cy="1066.3" r="4.0"/><circle cx="1779.7" cy="1066.3" r="4.0"/><circle cx="1784.0" cy="1066.3" r="4.0"/><circle cx="1788.3" cy="1066.3" r="4.0"/><circle cx="1792.6" cy="1066.3" r="4.0"/><circle cx="1796.9" cy="1066.3" r="4.0"/><circle cx="1801.2" cy="1066.3" r="4.0"/><circle cx="1805.5" cy="1066.3" r="4.0"/><circle cx="1812.1" cy="1066.3" r="4.0"/><circle cx="1816.1" cy="1066.3" r="4.0"/><circle cx="1820.2" cy="1066.3" r="4.0"/><circle cx="1824.2" cy="1066.3" r="4.0"/><circle cx="1828.3" cy="1066.3" r="4.0"/><circle cx="1832.4" cy="1066.3" r="4.0"/><circle cx="1836.4" cy="1066.3" r="4.0"/><circle cx="1504.3" cy="1077.9" r="4.0"/><circle cx="1509.6" cy="1077.9" r="4.0"/><circle cx="1514.0" cy="1077.9" r="4.0"/><circle cx="1526.4" cy="1077.9" r="4.0"/><circle cx="1600.0" cy="1077.9" r="4.0"/><circle cx="1604.4" cy="1077.9" r="4.0"/><circle cx="1621.2" cy="1077.9" r="4.0"/><circle cx="1624.8" cy="1077.9" r="4.0"/><circle cx="1633.2" cy="1077.9" r="4.0"/><circle cx="1646.0" cy="1077.9" r="4.0"/><circle cx="1665.9" cy="1077.9" r="4.0"/><circle cx="1688.4" cy="1077.9" r="4.0"/><circle cx="1692.0" cy="1077.9" r="4.0"/><circle cx="1699.0" cy="1077.9" r="4.0"/><circle cx="1710.5" cy="1077.9" r="4.0"/><circle cx="1722.0" cy="1077.9" r="4.0"/><circle cx="1725.0" cy="1077.9" r="4.0"/><circle cx="1734.7" cy="1077.9" r="4.0"/><circle cx="1739.2" cy="1077.9" r="4.0"/><circle cx="1743.6" cy="1077.9" r="4.0"/><circle cx="1748.1" cy="1077.9" r="4.0"/><circle cx="1752.6" cy="1077.9" r="4.0"/><circle cx="1757.0" cy="1077.9" r="4.0"/><circle cx="1761.5" cy="1077.9" r="4.0"/><circle cx="1766.0" cy="1077.9" r="4.0"/><circle cx="1770.4" cy="1077.9" r="4.0"/><circle cx="1774.9" cy="1077.9" r="4.0"/><circle cx="1779.3" cy="1077.9" r="4.0"/><circle cx="1783.8" cy="1077.9" r="4.0"/><circle cx="1788.3" cy="1077.9" r="4.0"/><circle cx="1792.7" cy="1077.9" r="4.0"/><circle cx="1797.2" cy="1077.9" r="4.0"/><circle cx="1801.7" cy="1077.9" r="4.0"/><circle cx="1806.1" cy="1077.9" r="4.0"/><circle cx="1810.6" cy="1077.9" r="4.0"/><circle cx="1815.1" cy="1077.9" r="4.0"/><circle cx="1819.5" cy="1077.9" r="4.0"/><circle cx="1824.0" cy="1077.9" r="4.0"/><circle cx="1494.6" cy="1089.5" r="4.0"/><circle cx="1499.0" cy="1089.5" r="4.0"/><circle cx="1503.4" cy="1089.5" r="4.0"/><circle cx="1507.9" cy="1089.5" r="4.0"/><circle cx="1512.3" cy="1089.5" r="4.0"/><circle cx="1516.7" cy="1089.5" r="4.0"/><circle cx="1526.4" cy="1089.5" r="4.0"/><circle cx="1540.5" cy="1089.5" r="4.0"/><circle cx="1586.5" cy="1089.5" r="4.0"/><circle cx="1591.0" cy="1089.5" r="4.0"/><circle cx="1595.4" cy="1089.5" r="4.0"/><circle cx="1599.9" cy="1089.5" r="4.0"/><circle cx="1604.3" cy="1089.5" r="4.0"/><circle cx="1608.8" cy="1089.5" r="4.0"/><circle cx="1617.7" cy="1089.5" r="4.0"/><circle cx="1621.7" cy="1089.5" r="4.0"/><circle cx="1625.6" cy="1089.5" r="4.0"/><circle cx="1633.6" cy="1089.5" r="4.0"/><circle cx="1643.3" cy="1089.5" r="4.0"/><circle cx="1647.1" cy="1089.5" r="4.0"/><circle cx="1651.0" cy="1089.5" r="4.0"/><circle cx="1654.8" cy="1089.5" r="4.0"/><circle cx="1663.7" cy="1089.5" r="4.0"/><circle cx="1669.0" cy="1089.5" r="4.0"/><circle cx="1674.3" cy="1089.5" r="4.0"/><circle cx="1681.3" cy="1089.5" r="4.0"/><circle cx="1685.8" cy="1089.5" r="4.0"/><circle cx="1690.2" cy="1089.5" r="4.0"/><circle cx="1699.0" cy="1089.5" r="4.0"/><circle cx="1711.4" cy="1089.5" r="4.0"/><circle cx="1715.9" cy="1089.5" r="4.0"/><circle cx="1720.4" cy="1089.5" r="4.0"/><circle cx="1724.8" cy="1089.5" r="4.0"/><circle cx="1729.3" cy="1089.5" r="4.0"/><circle cx="1733.8" cy="1089.5" r="4.0"/><circle cx="1738.3" cy="1089.5" r="4.0"/><circle cx="1743.6" cy="1089.5" r="4.0"/><circle cx="1748.0" cy="1089.5" r="4.0"/><circle cx="1752.4" cy="1089.5" r="4.0"/><circle cx="1756.7" cy="1089.5" r="4.0"/><circle cx="1761.1" cy="1089.5" r="4.0"/><circle cx="1765.5" cy="1089.5" r="4.0"/><circle cx="1769.9" cy="1089.5" r="4.0"/><circle cx="1774.2" cy="1089.5" r="4.0"/><circle cx="1778.6" cy="1089.5" r="4.0"/><circle cx="1783.0" cy="1089.5" r="4.0"/><circle cx="1787.4" cy="1089.5" r="4.0"/><circle cx="1791.7" cy="1089.5" r="4.0"/><circle cx="1796.1" cy="1089.5" r="4.0"/><circle cx="1800.5" cy="1089.5" r="4.0"/><circle cx="1804.9" cy="1089.5" r="4.0"/><circle cx="1809.2" cy="1089.5" r="4.0"/><circle cx="1813.6" cy="1089.5" r="4.0"/><circle cx="1818.0" cy="1089.5" r="4.0"/><circle cx="1822.4" cy="1089.5" r="4.0"/><circle cx="1826.7" cy="1089.5" r="4.0"/><circle cx="1831.1" cy="1089.5" r="4.0"/><circle cx="1835.5" cy="1089.5" r="4.0"/><circle cx="1906.2" cy="1089.5" r="4.0"/><circle cx="1959.4" cy="1089.5" r="4.0"/></g>
<path d="M1495.0,1087.0 L1497.0,1087.0 L1499.0,1086.9 L1501.0,1086.9 L1503.0,1086.8 L1505.0,1086.8 L1507.0,1086.8 L1509.0,1086.7 L1511.0,1086.7 L1513.0,1086.6 L1515.0,1086.6 L1517.0,1086.5 L1519.0,1086.5 L1521.0,1086.4 L1523.0,1086.4 L1525.0,1086.3 L1527.0,1086.3 L1529.0,1086.2 L1531.0,1086.2 L1533.0,1086.1 L1535.0,1086.0 L1537.0,1086.0 L1539.0,1085.9 L1541.0,1085.9 L1543.0,1085.8 L1545.0,1085.7 L1547.0,1085.7 L1549.0,1085.6 L1551.0,1085.5 L1553.0,1085.5 L1555.0,1085.4 L1557.0,1085.3 L1559.0,1085.3 L1561.0,1085.2 L1563.0,1085.1 L1565.0,1085.1 L1567.0,1085.0 L1569.0,1084.9 L1571.0,1084.8 L1573.0,1084.8 L1575.0,1084.7 L1577.0,1084.6 L1579.0,1084.5 L1581.0,1084.4 L1583.0,1084.3 L1585.0,1084.3 L1587.0,1084.2 L1589.0,1084.1 L1591.0,1084.0 L1593.0,1083.9 L1595.0,1083.8 L1597.0,1083.7 L1599.0,1083.6 L1601.0,1083.5 L1603.0,1083.4 L1605.0,1083.3 L1607.0,1083.2 L1609.0,1083.1 L1611.0,1083.0 L1613.0,1082.9 L1615.0,1082.8 L1617.0,1082.7 L1619.0,1082.5 L1621.0,1082.4 L1623.0,1082.3 L1625.0,1082.2 L1627.0,1082.1 L1629.0,1081.9 L1631.0,1081.8 L1633.0,1081.7 L1635.0,1081.6 L1637.0,1081.4 L1639.0,1081.3 L1641.0,1081.2 L1643.0,1081.0 L1645.0,1080.9 L1647.0,1080.7 L1649.0,1080.6 L1651.0,1080.4 L1653.0,1080.3 L1655.0,1080.1 L1657.0,1080.0 L1659.0,1079.8 L1661.0,1079.6 L1663.0,1079.5 L1665.0,1079.3 L1667.0,1079.1 L1669.0,1079.0 L1671.0,1078.8 L1673.0,1078.6 L1675.0,1078.4 L1677.0,1078.3 L1679.0,1078.1 L1681.0,1077.9 L1683.0,1077.7 L1685.0,1077.5 L1687.0,1077.3 L1689.0,1077.1 L1691.0,1076.9 L1693.0,1076.7 L1695.0,1076.5 L1697.0,1076.2 L1699.0,1076.0 L1701.0,1075.8 L1703.0,1075.6 L1705.0,1075.3 L1707.0,1075.1 L1709.0,1074.9 L1711.0,1074.6 L1713.0,1074.4 L1715.0,1074.1 L1717.0,1073.9 L1719.0,1073.6 L1721.0,1073.3 L1723.0,1073.1 L1725.0,1072.8 L1727.0,1072.5 L1729.0,1072.2 L1731.0,1071.9 L1733.0,1071.6 L1735.0,1071.4 L1737.0,1071.1 L1739.0,1070.7 L1741.0,1070.4 L1743.0,1070.1 L1745.0,1069.8 L1747.0,1069.5 L1749.0,1069.1 L1751.0,1068.8 L1753.0,1068.5 L1755.0,1068.1 L1757.0,1067.7 L1759.0,1067.4 L1761.0,1067.0 L1763.0,1066.6 L1765.0,1066.3 L1767.0,1065.9 L1769.0,1065.5 L1771.0,1065.1 L1773.0,1064.7 L1775.0,1064.3 L1777.0,1063.9 L1779.0,1063.4 L1781.0,1063.0 L1783.0,1062.6 L1785.0,1062.1 L1787.0,1061.7 L1789.0,1061.2 L1791.0,1060.7 L1793.0,1060.3 L1795.0,1059.8 L1797.0,1059.3 L1799.0,1058.8 L1801.0,1058.3 L1803.0,1057.8 L1805.0,1057.2 L1807.0,1056.7 L1809.0,1056.2 L1811.0,1055.6 L1813.0,1055.0 L1815.0,1054.5 L1817.0,1053.9 L1819.0,1053.3 L1821.0,1052.7 L1823.0,1052.1 L1825.0,1051.5 L1827.0,1050.9 L1829.0,1050.2 L1831.0,1049.6 L1833.0,1048.9 L1835.0,1048.2 L1837.0,1047.6 L1839.0,1046.9 L1841.0,1046.2 L1843.0,1045.5 L1845.0,1044.7 L1847.0,1044.0 L1849.0,1043.2 L1851.0,1042.5 L1853.0,1041.7 L1855.0,1040.9 L1857.0,1040.1 L1859.0,1039.3 L1861.0,1038.5 L1863.0,1037.6 L1865.0,1036.8 L1867.0,1035.9 L1869.0,1035.0 L1871.0,1034.1 L1873.0,1033.2 L1875.0,1032.3 L1877.0,1031.3 L1879.0,1030.4 L1881.0,1029.4 L1883.0,1028.4 L1885.0,1027.4 L1887.0,1026.4 L1889.0,1025.4 L1891.0,1024.3 L1893.0,1023.2 L1895.0,1022.2 L1897.0,1021.1 L1899.0,1019.9 L1901.0,1018.8 L1903.0,1017.6 L1905.0,1016.4 L1907.0,1015.2 L1909.0,1014.0 L1911.0,1012.8 L1913.0,1011.5 L1915.0,1010.2 L1917.0,1008.9 L1919.0,1007.6 L1921.0,1006.3 L1923.0,1004.9 L1925.0,1003.5 L1927.0,1002.1 L1929.0,1000.7 L1931.0,999.2 L1933.0,997.8 L1935.0,996.3 L1937.0,994.7 L1939.0,993.2 L1941.0,991.6 L1943.0,990.0 L1945.0,988.4 L1947.0,986.7 L1949.0,985.0 L1951.0,983.3 L1953.0,981.6 L1955.0,979.8 L1957.0,978.0 L1959.0,976.2 L1959.4,975.9" fill="none" stroke="#1f3fd3" stroke-width="3" stroke-linecap="round" stroke-linejoin="round"/>
<text x="1888.0" y="71.6" font-size="64" text-anchor="middle" fill="#ff1a00" font-weight="bold" >*</text>
<text x="1919.0" y="71.6" font-size="64" text-anchor="middle" fill="#ff1a00" font-weight="bold" >*</text>
<text x="1950.0" y="71.6" font-size="64" text-anchor="middle" fill="#ff1a00" font-weight="bold" >*</text>
<text x="1198.6" y="672.2" font-size="64" text-anchor="middle" fill="#ff1a00" font-weight="bold" >*</text>
<text x="1229.6" y="672.2" font-size="64" text-anchor="middle" fill="#ff1a00" font-weight="bold" >*</text>
<text x="1260.6" y="672.2" font-size="64" text-anchor="middle" fill="#ff1a00" font-weight="bold" >*</text>
<text x="1890.5" y="672.2" font-size="64" text-anchor="middle" fill="#ff1a00" font-weight="bold" >*</text>
<text x="1921.5" y="672.2" font-size="64" text-anchor="middle" fill="#ff1a00" font-weight="bold" >*</text>
<text x="1952.5" y="672.2" font-size="64" text-anchor="middle" fill="#ff1a00" font-weight="bold" >*</text>
<rect x="102.2" y="4.7" width="506.8" height="506.3" fill="none" stroke="#000" stroke-width="3.8"/>
<rect x="788.1" y="4.7" width="506.9999999999999" height="506.3" fill="none" stroke="#000" stroke-width="3.8"/>
<rect x="1473.9" y="4.7" width="507.0999999999999" height="506.3" fill="none" stroke="#000" stroke-width="3.8"/>
<rect x="102.2" y="604.2" width="506.8" height="506.5" fill="none" stroke="#000" stroke-width="3.8"/>
<rect x="788.1" y="604.2" width="506.9999999999999" height="506.5" fill="none" stroke="#000" stroke-width="3.8"/>
<rect x="1473.9" y="604.2" width="507.0999999999999" height="506.5" fill="none" stroke="#000" stroke-width="3.8"/>
<text transform="translate(90.6,500.7) scale(1,1.07)" font-size="27.4" text-anchor="end" fill="#555555">0</text>
<text transform="translate(90.6,384.5) scale(1,1.07)" font-size="27.4" text-anchor="end" fill="#555555">10</text>
<text transform="translate(90.6,268.3) scale(1,1.07)" font-size="27.4" text-anchor="end" fill="#555555">20</text>
<text transform="translate(90.6,152.1) scale(1,1.07)" font-size="27.4" text-anchor="end" fill="#555555">30</text>
<text transform="translate(90.6,35.9) scale(1,1.07)" font-size="27.4" text-anchor="end" fill="#555555">40</text>
<text transform="translate(776.3,500.7) scale(1,1.07)" font-size="27.4" text-anchor="end" fill="#555555">0</text>
<text transform="translate(776.3,384.5) scale(1,1.07)" font-size="27.4" text-anchor="end" fill="#555555">10</text>
<text transform="translate(776.3,268.3) scale(1,1.07)" font-size="27.4" text-anchor="end" fill="#555555">20</text>
<text transform="translate(776.3,152.1) scale(1,1.07)" font-size="27.4" text-anchor="end" fill="#555555">30</text>
<text transform="translate(776.3,35.9) scale(1,1.07)" font-size="27.4" text-anchor="end" fill="#555555">40</text>
<text transform="translate(1462.2,500.7) scale(1,1.07)" font-size="27.4" text-anchor="end" fill="#555555">0</text>
<text transform="translate(1462.2,384.5) scale(1,1.07)" font-size="27.4" text-anchor="end" fill="#555555">10</text>
<text transform="translate(1462.2,268.3) scale(1,1.07)" font-size="27.4" text-anchor="end" fill="#555555">20</text>
<text transform="translate(1462.2,152.1) scale(1,1.07)" font-size="27.4" text-anchor="end" fill="#555555">30</text>
<text transform="translate(1462.2,35.9) scale(1,1.07)" font-size="27.4" text-anchor="end" fill="#555555">40</text>
<text transform="translate(90.6,1099.9) scale(1,1.07)" font-size="27.4" text-anchor="end" fill="#555555">0</text>
<text transform="translate(90.6,983.7) scale(1,1.07)" font-size="27.4" text-anchor="end" fill="#555555">10</text>
<text transform="translate(90.6,867.5) scale(1,1.07)" font-size="27.4" text-anchor="end" fill="#555555">20</text>
<text transform="translate(90.6,751.3) scale(1,1.07)" font-size="27.4" text-anchor="end" fill="#555555">30</text>
<text transform="translate(90.6,635.1) scale(1,1.07)" font-size="27.4" text-anchor="end" fill="#555555">40</text>
<text transform="translate(776.3,1099.9) scale(1,1.07)" font-size="27.4" text-anchor="end" fill="#555555">0</text>
<text transform="translate(776.3,983.7) scale(1,1.07)" font-size="27.4" text-anchor="end" fill="#555555">10</text>
<text transform="translate(776.3,867.5) scale(1,1.07)" font-size="27.4" text-anchor="end" fill="#555555">20</text>
<text transform="translate(776.3,751.3) scale(1,1.07)" font-size="27.4" text-anchor="end" fill="#555555">30</text>
<text transform="translate(776.3,635.1) scale(1,1.07)" font-size="27.4" text-anchor="end" fill="#555555">40</text>
<text transform="translate(1462.2,1099.9) scale(1,1.07)" font-size="27.4" text-anchor="end" fill="#555555">0</text>
<text transform="translate(1462.2,983.7) scale(1,1.07)" font-size="27.4" text-anchor="end" fill="#555555">10</text>
<text transform="translate(1462.2,867.5) scale(1,1.07)" font-size="27.4" text-anchor="end" fill="#555555">20</text>
<text transform="translate(1462.2,751.3) scale(1,1.07)" font-size="27.4" text-anchor="end" fill="#555555">30</text>
<text transform="translate(1462.2,635.1) scale(1,1.07)" font-size="27.4" text-anchor="end" fill="#555555">40</text>
<text x="0" y="0" font-size="34.5" text-anchor="middle" fill="#000" transform="translate(49.5,257.85) rotate(-90)">Provinces colonised</text>
<text x="0" y="0" font-size="34.5" text-anchor="middle" fill="#000" transform="translate(49.5,857.45) rotate(-90)">Provinces colonised</text>
<text transform="translate(196.0,541.7) scale(1,1.07)" font-size="27.4" text-anchor="middle" fill="#555555">1</text>
<text transform="translate(355.6,541.7) scale(1,1.07)" font-size="27.4" text-anchor="middle" fill="#555555">2</text>
<text transform="translate(515.2,541.7) scale(1,1.07)" font-size="27.4" text-anchor="middle" fill="#555555">3</text>
<text transform="translate(196.0,1140.9) scale(1,1.07)" font-size="27.4" text-anchor="middle" fill="#555555">Forest</text>
<text transform="translate(355.6,1140.9) scale(1,1.07)" font-size="27.4" text-anchor="middle" fill="#555555">Generalist</text>
<text transform="translate(515.2,1140.9) scale(1,1.07)" font-size="27.4" text-anchor="middle" fill="#555555">Open</text>
<text transform="translate(799.7,541.8) scale(1,1.07)" font-size="27.4" text-anchor="middle" fill="#555555">20</text>
<text transform="translate(925.7,541.8) scale(1,1.07)" font-size="27.4" text-anchor="middle" fill="#555555">40</text>
<text transform="translate(1051.7,541.8) scale(1,1.07)" font-size="27.4" text-anchor="middle" fill="#555555">60</text>
<text transform="translate(1178.0,541.8) scale(1,1.07)" font-size="27.4" text-anchor="middle" fill="#555555">80</text>
<text transform="translate(1492.3,541.8) scale(1,1.07)" font-size="27.4" text-anchor="middle" fill="#555555">0</text>
<text transform="translate(1650.6,541.8) scale(1,1.07)" font-size="27.4" text-anchor="middle" fill="#555555">500</text>
<text transform="translate(1809.2,541.8) scale(1,1.07)" font-size="27.4" text-anchor="middle" fill="#555555">1000</text>
<text transform="translate(1967.5,541.8) scale(1,1.07)" font-size="27.4" text-anchor="middle" fill="#555555">1500</text>
<text transform="translate(911.9,1141.3) scale(1,1.07)" font-size="27.4" text-anchor="middle" fill="#555555">16</text>
<text transform="translate(1057.8,1141.3) scale(1,1.07)" font-size="27.4" text-anchor="middle" fill="#555555">20</text>
<text transform="translate(1203.7,1141.3) scale(1,1.07)" font-size="27.4" text-anchor="middle" fill="#555555">24</text>
<text transform="translate(1561.5,1141.3) scale(1,1.07)" font-size="27.4" text-anchor="middle" fill="#555555">0</text>
<text transform="translate(1686.2,1141.3) scale(1,1.07)" font-size="27.4" text-anchor="middle" fill="#555555">5</text>
<text transform="translate(1811.4,1141.3) scale(1,1.07)" font-size="27.4" text-anchor="middle" fill="#555555">10</text>
<text transform="translate(1935.2,1141.3) scale(1,1.07)" font-size="27.4" text-anchor="middle" fill="#555555">15</text>
<text x="355.3" y="577.0" font-size="34.5" text-anchor="middle" fill="#000" font-weight="normal" >Diet specialisation</text>
<text x="1041.2" y="577.0" font-size="34.5" text-anchor="middle" fill="#000" font-weight="normal" >Body size (wingspan)</text>
<text x="1727.0" y="577.0" font-size="34.5" text-anchor="middle" fill="#000" font-weight="normal" >Range size</text>
<text x="355.3" y="1177.0" font-size="34.5" text-anchor="middle" fill="#000" font-weight="normal" >Habitat preference</text>
<text x="1041.2" y="1177.0" font-size="34.5" text-anchor="middle" fill="#000" font-weight="normal" >Temperature range (°C)</text>
<text x="1727.2" y="1177.0" font-size="34.5" text-anchor="middle" fill="#000" font-weight="normal" >Mean temperature (°C)</text>
<text transform="translate(-1.5,43.3) scale(0.9,1)" font-size="50" font-weight="bold" letter-spacing="1" fill="#000">a)</text>
<text transform="translate(684.6,43.3) scale(0.9,1)" font-size="50" font-weight="bold" letter-spacing="1" fill="#000">b)</text>
<text transform="translate(1384,43.3) scale(0.9,1)" font-size="50" font-weight="bold" letter-spacing="1" fill="#000">c)</text>
<text transform="translate(-1.5,634.3) scale(0.9,1)" font-size="50" font-weight="bold" letter-spacing="1" fill="#000">d)</text>
<text transform="translate(684.6,634.3) scale(0.9,1)" font-size="50" font-weight="bold" letter-spacing="1" fill="#000">e)</text>
<text transform="translate(1384,634.3) scale(0.9,1)" font-size="50" font-weight="bold" letter-spacing="1" fill="#000">f)</text>
</svg></body></html>
